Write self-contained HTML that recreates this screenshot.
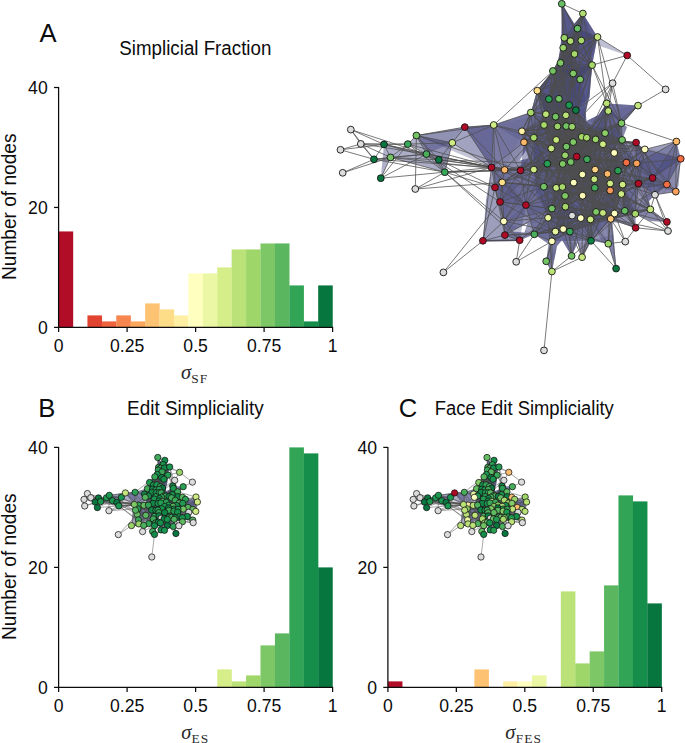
<!DOCTYPE html>
<html><head><meta charset="utf-8"><title>Simpliciality</title>
<style>
html,body{margin:0;padding:0;background:#fff;}
body{width:685px;height:743px;overflow:hidden;font-family:"Liberation Sans",sans-serif;}
svg{display:block;position:absolute;left:0;top:0;}
svg text{font-family:"Liberation Sans",sans-serif;fill:#0c0c0c;}
svg text.m{font-family:"Liberation Serif",serif;fill:#2a2a2a;}
</style></head><body>
<svg width="685" height="743" viewBox="0 0 685 743">
<rect x="58.60" y="231.44" width="14.57" height="95.96" fill="#b20d26"/>
<rect x="87.44" y="315.40" width="14.57" height="11.99" fill="#e04330"/>
<rect x="101.86" y="321.40" width="14.57" height="6.00" fill="#ef633f"/>
<rect x="116.28" y="315.40" width="14.57" height="11.99" fill="#f7854e"/>
<rect x="130.71" y="321.40" width="14.57" height="6.00" fill="#fca75e"/>
<rect x="145.13" y="303.41" width="14.57" height="23.99" fill="#fdc373"/>
<rect x="159.55" y="309.41" width="14.57" height="17.99" fill="#fedd89"/>
<rect x="173.97" y="315.40" width="14.57" height="11.99" fill="#feefa4"/>
<rect x="188.39" y="273.42" width="14.57" height="53.98" fill="#ffffbf"/>
<rect x="202.81" y="273.42" width="14.57" height="53.98" fill="#ebf7a4"/>
<rect x="217.23" y="267.42" width="14.57" height="59.97" fill="#d6ee89"/>
<rect x="231.65" y="249.43" width="14.57" height="77.97" fill="#bbe278"/>
<rect x="246.07" y="249.43" width="14.57" height="77.97" fill="#9fd669"/>
<rect x="260.49" y="243.44" width="14.57" height="83.96" fill="#7ec766"/>
<rect x="274.92" y="243.44" width="14.57" height="83.96" fill="#5ab760"/>
<rect x="289.34" y="285.42" width="14.57" height="41.98" fill="#32a456"/>
<rect x="303.76" y="321.40" width="14.57" height="6.00" fill="#158e4b"/>
<rect x="318.18" y="285.42" width="14.57" height="41.98" fill="#07753e"/>
<path d="M58.60 87.00V327.40H333.10" fill="none" stroke="#0c0c0c" stroke-width="1.25"/>
<path d="M58.60 327.40v4.6" stroke="#0c0c0c" stroke-width="1.25"/>
<text x="58.60" y="352.10" text-anchor="middle" font-size="17.6">0</text>
<path d="M127.10 327.40v4.6" stroke="#0c0c0c" stroke-width="1.25"/>
<text x="127.10" y="352.10" text-anchor="middle" font-size="17.6">0.25</text>
<path d="M195.60 327.40v4.6" stroke="#0c0c0c" stroke-width="1.25"/>
<text x="195.60" y="352.10" text-anchor="middle" font-size="17.6">0.5</text>
<path d="M264.10 327.40v4.6" stroke="#0c0c0c" stroke-width="1.25"/>
<text x="264.10" y="352.10" text-anchor="middle" font-size="17.6">0.75</text>
<path d="M332.60 327.40v4.6" stroke="#0c0c0c" stroke-width="1.25"/>
<text x="332.60" y="352.10" text-anchor="middle" font-size="17.6">1</text>
<path d="M58.60 327.40h-4.6" stroke="#0c0c0c" stroke-width="1.25"/>
<text x="47.70" y="334.00" text-anchor="end" font-size="17.6">0</text>
<path d="M58.60 207.45h-4.6" stroke="#0c0c0c" stroke-width="1.25"/>
<text x="47.70" y="214.05" text-anchor="end" font-size="17.6">20</text>
<path d="M58.60 87.50h-4.6" stroke="#0c0c0c" stroke-width="1.25"/>
<text x="47.70" y="94.10" text-anchor="end" font-size="17.6">40</text>
<text transform="translate(15.50 206.75) rotate(-90)" text-anchor="middle" font-size="19.3" textLength="146.5" lengthAdjust="spacingAndGlyphs">Number of nodes</text>
<rect x="217.23" y="669.40" width="14.57" height="18.00" fill="#d6ee89"/>
<rect x="231.65" y="681.40" width="14.57" height="6.00" fill="#bbe278"/>
<rect x="246.07" y="675.40" width="14.57" height="12.00" fill="#9fd669"/>
<rect x="260.49" y="645.40" width="14.57" height="42.00" fill="#7ec766"/>
<rect x="274.92" y="633.40" width="14.57" height="54.00" fill="#5ab760"/>
<rect x="289.34" y="447.40" width="14.57" height="240.00" fill="#32a456"/>
<rect x="303.76" y="453.40" width="14.57" height="234.00" fill="#158e4b"/>
<rect x="318.18" y="567.40" width="14.57" height="120.00" fill="#07753e"/>
<path d="M58.60 446.90V687.40H333.10" fill="none" stroke="#0c0c0c" stroke-width="1.25"/>
<path d="M58.60 687.40v4.6" stroke="#0c0c0c" stroke-width="1.25"/>
<text x="58.60" y="712.10" text-anchor="middle" font-size="17.6">0</text>
<path d="M127.10 687.40v4.6" stroke="#0c0c0c" stroke-width="1.25"/>
<text x="127.10" y="712.10" text-anchor="middle" font-size="17.6">0.25</text>
<path d="M195.60 687.40v4.6" stroke="#0c0c0c" stroke-width="1.25"/>
<text x="195.60" y="712.10" text-anchor="middle" font-size="17.6">0.5</text>
<path d="M264.10 687.40v4.6" stroke="#0c0c0c" stroke-width="1.25"/>
<text x="264.10" y="712.10" text-anchor="middle" font-size="17.6">0.75</text>
<path d="M332.60 687.40v4.6" stroke="#0c0c0c" stroke-width="1.25"/>
<text x="332.60" y="712.10" text-anchor="middle" font-size="17.6">1</text>
<path d="M58.60 687.40h-4.6" stroke="#0c0c0c" stroke-width="1.25"/>
<text x="47.70" y="694.00" text-anchor="end" font-size="17.6">0</text>
<path d="M58.60 567.40h-4.6" stroke="#0c0c0c" stroke-width="1.25"/>
<text x="47.70" y="574.00" text-anchor="end" font-size="17.6">20</text>
<path d="M58.60 447.40h-4.6" stroke="#0c0c0c" stroke-width="1.25"/>
<text x="47.70" y="454.00" text-anchor="end" font-size="17.6">40</text>
<text transform="translate(15.50 566.70) rotate(-90)" text-anchor="middle" font-size="19.3" textLength="146.5" lengthAdjust="spacingAndGlyphs">Number of nodes</text>
<rect x="387.90" y="681.40" width="14.56" height="6.00" fill="#b20d26"/>
<rect x="474.36" y="669.40" width="14.56" height="18.00" fill="#fdc373"/>
<rect x="503.18" y="681.40" width="14.56" height="6.00" fill="#feefa4"/>
<rect x="517.59" y="681.40" width="14.56" height="6.00" fill="#ffffbf"/>
<rect x="532.01" y="675.40" width="14.56" height="12.00" fill="#ebf7a4"/>
<rect x="560.83" y="591.40" width="14.56" height="96.00" fill="#bbe278"/>
<rect x="575.24" y="663.40" width="14.56" height="24.00" fill="#9fd669"/>
<rect x="589.65" y="651.40" width="14.56" height="36.00" fill="#7ec766"/>
<rect x="604.06" y="585.40" width="14.56" height="102.00" fill="#5ab760"/>
<rect x="618.47" y="495.40" width="14.56" height="192.00" fill="#32a456"/>
<rect x="632.88" y="501.40" width="14.56" height="186.00" fill="#158e4b"/>
<rect x="647.29" y="603.40" width="14.56" height="84.00" fill="#07753e"/>
<path d="M387.90 446.90V687.40H662.20" fill="none" stroke="#0c0c0c" stroke-width="1.25"/>
<path d="M387.90 687.40v4.6" stroke="#0c0c0c" stroke-width="1.25"/>
<text x="387.90" y="712.10" text-anchor="middle" font-size="17.6">0</text>
<path d="M456.35 687.40v4.6" stroke="#0c0c0c" stroke-width="1.25"/>
<text x="456.35" y="712.10" text-anchor="middle" font-size="17.6">0.25</text>
<path d="M524.80 687.40v4.6" stroke="#0c0c0c" stroke-width="1.25"/>
<text x="524.80" y="712.10" text-anchor="middle" font-size="17.6">0.5</text>
<path d="M593.25 687.40v4.6" stroke="#0c0c0c" stroke-width="1.25"/>
<text x="593.25" y="712.10" text-anchor="middle" font-size="17.6">0.75</text>
<path d="M661.70 687.40v4.6" stroke="#0c0c0c" stroke-width="1.25"/>
<text x="661.70" y="712.10" text-anchor="middle" font-size="17.6">1</text>
<path d="M387.90 687.40h-4.6" stroke="#0c0c0c" stroke-width="1.25"/>
<text x="377.00" y="694.00" text-anchor="end" font-size="17.6">0</text>
<path d="M387.90 567.40h-4.6" stroke="#0c0c0c" stroke-width="1.25"/>
<text x="377.00" y="574.00" text-anchor="end" font-size="17.6">20</text>
<path d="M387.90 447.40h-4.6" stroke="#0c0c0c" stroke-width="1.25"/>
<text x="377.00" y="454.00" text-anchor="end" font-size="17.6">40</text>
<text x="39.4" y="42.3" font-size="25.6">A</text>
<text x="38.3" y="417.1" font-size="25.6">B</text>
<text x="398.8" y="417.0" font-size="25.6">C</text>
<text x="195.35" y="54.8" font-size="19.6" text-anchor="middle" textLength="152" lengthAdjust="spacingAndGlyphs">Simplicial Fraction</text>
<text x="195.35" y="414.8" font-size="19.6" text-anchor="middle" textLength="136.5" lengthAdjust="spacingAndGlyphs">Edit Simpliciality</text>
<text x="524.3" y="414.8" font-size="19.6" text-anchor="middle" textLength="179" lengthAdjust="spacingAndGlyphs">Face Edit Simpliciality</text>
<text x="181.00" y="379.30" class="m"><tspan font-style="italic" font-size="20.5">σ</tspan><tspan font-size="13.4" dy="3.4" dx="0.2" letter-spacing="1.1">SF</tspan></text>
<text x="181.20" y="739.20" class="m"><tspan font-style="italic" font-size="20.5">σ</tspan><tspan font-size="13.4" dy="3.4" dx="0.2" letter-spacing="1.1">ES</tspan></text>
<text x="505.30" y="739.20" class="m"><tspan font-style="italic" font-size="20.5">σ</tspan><tspan font-size="13.4" dy="3.4" dx="0.2" letter-spacing="1.1">FES</tspan></text>
<g>
<clipPath id="c1"><path clip-rule="evenodd" d="M561.8 3.8L574.3 24.0L582.9 13.5L597.5 37.0L592.1 65.1L589.5 97.0L585.5 112.0L586.5 121.0L598.5 115.0L605.0 106.0L606.7 103.4L638.0 105.6L627.0 119.0L621.5 123.2L627.0 127.0L624.0 135.0L622.1 139.9L636.1 142.6L644.8 149.4L676.4 141.5L680.7 158.8L678.5 186.0L675.8 191.6L655.0 194.8L649.0 201.0L650.4 209.4L666.9 221.9L650.0 221.0L635.3 213.8L635.6 227.8L620.0 223.0L612.5 222.0L616.1 268.6L608.3 243.7L591.0 240.8L582.1 257.2L577.5 243.0L571.6 255.9L562.0 240.0L557.0 246.0L551.9 271.5L546.2 261.3L548.5 244.0L534.3 234.3L519.7 240.2L482.9 240.8L486.0 200.0L491.5 167.4L464.8 127.1L493.7 125.0L530.8 112.6L537.3 90.7L552.9 71.0L558.0 62.0L560.3 48.0L561.5 36.0ZM519.4 160.6L525.9 150.5L528.9 158.6ZM510.5 231.5L527.3 223.4L524.5 232.5Z"/></clipPath>
<g fill="rgb(60,62,122)" stroke="none">
<path fill-rule="evenodd" fill-opacity="0.50" d="M561.8 3.8L574.3 24.0L582.9 13.5L597.5 37.0L592.1 65.1L589.5 97.0L585.5 112.0L586.5 121.0L598.5 115.0L605.0 106.0L606.7 103.4L638.0 105.6L627.0 119.0L621.5 123.2L627.0 127.0L624.0 135.0L622.1 139.9L636.1 142.6L644.8 149.4L676.4 141.5L680.7 158.8L678.5 186.0L675.8 191.6L655.0 194.8L649.0 201.0L650.4 209.4L666.9 221.9L650.0 221.0L635.3 213.8L635.6 227.8L620.0 223.0L612.5 222.0L616.1 268.6L608.3 243.7L591.0 240.8L582.1 257.2L577.5 243.0L571.6 255.9L562.0 240.0L557.0 246.0L551.9 271.5L546.2 261.3L548.5 244.0L534.3 234.3L519.7 240.2L482.9 240.8L486.0 200.0L491.5 167.4L464.8 127.1L493.7 125.0L530.8 112.6L537.3 90.7L552.9 71.0L558.0 62.0L560.3 48.0L561.5 36.0ZM519.4 160.6L525.9 150.5L528.9 158.6ZM510.5 231.5L527.3 223.4L524.5 232.5Z"/>
<path fill-opacity="0.30" d="M416.4 135.5L464.8 127.1L493.7 125.0L491.5 167.4Z"/>
<path fill-opacity="0.38" d="M416.4 135.5L464.8 127.1L452.3 142.8L426.4 154.1Z"/>
<path fill-opacity="0.40" d="M416.4 135.5L426.4 154.1L438.8 159.8L444.8 172.2L452.3 142.8Z"/>
<path fill-opacity="0.25" d="M416.4 135.5L444.8 172.2L452.3 142.8Z"/>
<path fill-opacity="0.42" d="M384.0 144.4L426.4 154.1L438.8 159.8L444.8 172.2L390.5 157.4Z"/>
<path fill-opacity="0.40" d="M384.0 144.4L390.5 157.4L380.8 178.2Z"/>
<path fill-opacity="0.40" d="M407.8 144.1L416.4 135.5L426.4 154.1Z"/>
<path fill-opacity="0.25" d="M452.3 142.8L464.8 127.1L491.5 167.4Z"/>
<path fill-opacity="0.36" d="M464.8 127.1L493.7 125.0L530.8 112.6L524.0 142.3L491.5 167.4Z"/>
<path fill-opacity="0.45" d="M552.9 71.0L592.1 65.1L589.5 97.0L585.5 112.0L586.5 121.0L598.5 115.0L605.0 106.0L606.7 103.4L621.5 123.2L622.1 139.9L636.7 163.4L638.5 183.6L635.3 213.8L610.7 218.9L591.0 240.8L551.9 241.3L534.3 234.3L525.9 205.1L520.5 170.4L524.0 142.3L530.8 112.6L537.3 90.7Z"/>
<path fill-opacity="0.40" d="M560.5 62.9L580.2 79.4L586.0 100.0L584.5 112.0L586.0 122.5L606.0 130.0L618.0 152.0L621.0 185.0L612.0 212.0L590.0 226.0L565.0 231.0L548.0 217.0L536.0 192.0L533.0 165.0L534.0 138.0L545.0 114.0L549.0 99.0Z"/>
<path fill-opacity="0.50" d="M561.8 3.8L574.3 24.0L582.9 13.5L597.5 37.0L592.1 65.1L589.5 97.0L575.9 110.2L545.9 114.2L537.3 90.7L552.9 71.0L558.0 62.0L560.3 48.0L561.5 36.0Z"/>
<path fill-opacity="0.35" d="M561.8 3.8L577.5 28.6L582.9 13.5L593.0 40.0L590.0 66.0L580.2 79.4L556.0 72.0L562.5 40.0Z"/>
<path fill-opacity="0.42" d="M636.1 142.6L644.8 149.4L680.7 158.8L666.9 184.5L655.0 194.8L638.5 183.6L636.7 163.4Z"/>
<path fill-opacity="0.32" d="M636.7 163.4L676.4 141.5L680.7 158.8L652.6 178.0Z"/>
<path fill-opacity="0.33" d="M491.5 167.4L520.5 170.4L525.9 205.1L519.7 240.2L504.9 235.1L500.0 201.9Z"/>
<path fill-opacity="0.33" d="M597.5 37.0L627.2 55.4L598.3 45.5Z"/>
<path fill-opacity="0.50" d="M606.7 103.4L638.0 105.6L621.5 123.2L608.3 111.0Z"/>
<g clip-path="url(#c1)">
<path fill-opacity="0.10" d="M561.8 3.8L563.2 47.8L564.3 37.8Z"/>
<path fill-opacity="0.10" d="M561.8 3.8L597.5 37.0L582.9 13.5Z"/>
<path fill-opacity="0.10" d="M561.8 3.8L577.5 28.6L560.5 62.9Z"/>
<path fill-opacity="0.10" d="M582.9 13.5L564.3 37.8L577.5 28.6Z"/>
<path fill-opacity="0.10" d="M582.9 13.5L592.1 65.1L597.5 37.0Z"/>
<path fill-opacity="0.10" d="M582.9 13.5L577.5 28.6L561.8 3.8Z"/>
<path fill-opacity="0.10" d="M577.5 28.6L574.5 54.0L560.5 62.9Z"/>
<path fill-opacity="0.10" d="M577.5 28.6L570.5 41.1L564.3 37.8Z"/>
<path fill-opacity="0.10" d="M577.5 28.6L570.5 41.1L574.5 54.0Z"/>
<path fill-opacity="0.10" d="M564.3 37.8L570.5 41.1L563.2 47.8Z"/>
<path fill-opacity="0.10" d="M564.3 37.8L581.3 40.5L570.5 41.1Z"/>
<path fill-opacity="0.10" d="M564.3 37.8L582.9 13.5L570.5 41.1Z"/>
<path fill-opacity="0.10" d="M570.5 41.1L574.5 54.0L564.3 37.8Z"/>
<path fill-opacity="0.10" d="M570.5 41.1L592.1 65.1L581.3 40.5Z"/>
<path fill-opacity="0.10" d="M570.5 41.1L577.5 28.6L597.5 37.0Z"/>
<path fill-opacity="0.10" d="M581.3 40.5L574.5 54.0L577.5 28.6Z"/>
<path fill-opacity="0.10" d="M581.3 40.5L564.3 37.8L574.5 54.0Z"/>
<path fill-opacity="0.10" d="M581.3 40.5L577.5 28.6L597.5 37.0Z"/>
<path fill-opacity="0.10" d="M597.5 37.0L592.1 65.1L577.5 28.6Z"/>
<path fill-opacity="0.10" d="M597.5 37.0L563.2 47.8L577.5 28.6Z"/>
<path fill-opacity="0.10" d="M597.5 37.0L581.3 40.5L582.9 13.5Z"/>
<path fill-opacity="0.10" d="M563.2 47.8L573.2 73.5L552.9 71.0Z"/>
<path fill-opacity="0.10" d="M563.2 47.8L577.5 28.6L573.2 73.5Z"/>
<path fill-opacity="0.10" d="M563.2 47.8L573.2 73.5L577.5 28.6Z"/>
<path fill-opacity="0.10" d="M574.5 54.0L564.3 37.8L560.5 62.9Z"/>
<path fill-opacity="0.10" d="M574.5 54.0L581.3 40.5L560.5 62.9Z"/>
<path fill-opacity="0.10" d="M574.5 54.0L570.5 41.1L564.3 37.8Z"/>
<path fill-opacity="0.10" d="M627.2 55.4L573.2 73.5L577.5 28.6Z"/>
<path fill-opacity="0.10" d="M627.2 55.4L574.5 54.0L577.5 28.6Z"/>
<path fill-opacity="0.10" d="M627.2 55.4L606.7 103.4L592.1 65.1Z"/>
<path fill-opacity="0.10" d="M560.5 62.9L563.2 47.8L580.2 79.4Z"/>
<path fill-opacity="0.10" d="M560.5 62.9L573.2 73.5L564.3 37.8Z"/>
<path fill-opacity="0.10" d="M560.5 62.9L573.2 73.5L581.3 40.5Z"/>
<path fill-opacity="0.10" d="M592.1 65.1L570.5 41.1L580.2 79.4Z"/>
<path fill-opacity="0.10" d="M592.1 65.1L573.2 73.5L560.5 62.9Z"/>
<path fill-opacity="0.10" d="M592.1 65.1L560.5 62.9L627.2 55.4Z"/>
<path fill-opacity="0.10" d="M552.9 71.0L580.2 79.4L570.5 41.1Z"/>
<path fill-opacity="0.10" d="M552.9 71.0L573.2 73.5L570.5 41.1Z"/>
<path fill-opacity="0.10" d="M552.9 71.0L574.5 54.0L580.2 79.4Z"/>
<path fill-opacity="0.10" d="M573.2 73.5L560.5 62.9L580.2 79.4Z"/>
<path fill-opacity="0.10" d="M573.2 73.5L592.1 65.1L569.1 105.1Z"/>
<path fill-opacity="0.10" d="M573.2 73.5L592.1 65.1L558.9 98.8Z"/>
<path fill-opacity="0.10" d="M580.2 79.4L552.9 71.0L573.2 73.5Z"/>
<path fill-opacity="0.10" d="M580.2 79.4L575.9 110.2L552.9 71.0Z"/>
<path fill-opacity="0.10" d="M580.2 79.4L560.5 62.9L592.1 65.1Z"/>
<path fill-opacity="0.10" d="M537.3 90.7L544.0 125.0L548.9 99.1Z"/>
<path fill-opacity="0.10" d="M537.3 90.7L545.9 114.2L552.9 71.0Z"/>
<path fill-opacity="0.10" d="M537.3 90.7L558.9 98.8L545.9 114.2Z"/>
<path fill-opacity="0.10" d="M548.9 99.1L565.9 115.3L552.9 71.0Z"/>
<path fill-opacity="0.10" d="M548.9 99.1L544.0 125.0L537.3 90.7Z"/>
<path fill-opacity="0.10" d="M548.9 99.1L545.9 114.2L544.0 125.0Z"/>
<path fill-opacity="0.10" d="M558.9 98.8L537.3 90.7L545.9 114.2Z"/>
<path fill-opacity="0.10" d="M558.9 98.8L565.9 115.3L537.3 90.7Z"/>
<path fill-opacity="0.10" d="M558.9 98.8L566.2 126.1L545.9 114.2Z"/>
<path fill-opacity="0.10" d="M569.1 105.1L572.1 126.7L566.2 126.1Z"/>
<path fill-opacity="0.10" d="M569.1 105.1L572.1 126.7L555.6 116.7Z"/>
<path fill-opacity="0.10" d="M569.1 105.1L558.9 98.8L565.9 115.3Z"/>
<path fill-opacity="0.10" d="M575.9 110.2L572.1 126.7L548.9 99.1Z"/>
<path fill-opacity="0.10" d="M575.9 110.2L566.2 126.1L548.9 99.1Z"/>
<path fill-opacity="0.10" d="M575.9 110.2L569.1 105.1L581.8 136.9Z"/>
<path fill-opacity="0.10" d="M606.7 103.4L605.1 133.1L575.9 110.2Z"/>
<path fill-opacity="0.10" d="M606.7 103.4L575.9 110.2L608.3 111.0Z"/>
<path fill-opacity="0.10" d="M606.7 103.4L605.1 133.1L569.1 105.1Z"/>
<path fill-opacity="0.10" d="M608.3 111.0L586.7 137.7L622.1 139.9Z"/>
<path fill-opacity="0.10" d="M608.3 111.0L622.1 139.9L605.1 133.1Z"/>
<path fill-opacity="0.10" d="M608.3 111.0L586.7 137.7L606.7 103.4Z"/>
<path fill-opacity="0.10" d="M638.0 105.6L644.8 149.4L602.9 144.2Z"/>
<path fill-opacity="0.10" d="M638.0 105.6L644.8 149.4L608.3 111.0Z"/>
<path fill-opacity="0.10" d="M530.8 112.6L557.5 126.4L533.8 137.7Z"/>
<path fill-opacity="0.10" d="M530.8 112.6L545.9 114.2L548.9 99.1Z"/>
<path fill-opacity="0.10" d="M530.8 112.6L544.0 125.0L548.9 99.1Z"/>
<path fill-opacity="0.10" d="M545.9 114.2L566.2 126.1L530.8 112.6Z"/>
<path fill-opacity="0.10" d="M545.9 114.2L544.0 125.0L565.9 115.3Z"/>
<path fill-opacity="0.10" d="M545.9 114.2L555.6 116.7L544.0 125.0Z"/>
<path fill-opacity="0.10" d="M555.6 116.7L557.5 126.4L565.9 115.3Z"/>
<path fill-opacity="0.10" d="M555.6 116.7L572.1 126.7L545.9 114.2Z"/>
<path fill-opacity="0.10" d="M555.6 116.7L569.1 105.1L557.5 126.4Z"/>
<path fill-opacity="0.10" d="M565.9 115.3L569.1 105.1L575.9 110.2Z"/>
<path fill-opacity="0.10" d="M565.9 115.3L558.9 98.8L566.2 126.1Z"/>
<path fill-opacity="0.10" d="M565.9 115.3L572.1 126.7L557.5 126.4Z"/>
<path fill-opacity="0.10" d="M621.5 123.2L606.7 103.4L595.6 139.4Z"/>
<path fill-opacity="0.10" d="M621.5 123.2L608.3 111.0L614.2 152.9Z"/>
<path fill-opacity="0.10" d="M621.5 123.2L595.6 139.4L614.2 152.9Z"/>
<path fill-opacity="0.10" d="M544.0 125.0L521.9 131.3L565.9 115.3Z"/>
<path fill-opacity="0.10" d="M544.0 125.0L530.8 112.6L557.5 126.4Z"/>
<path fill-opacity="0.10" d="M544.0 125.0L555.6 116.7L557.5 126.4Z"/>
<path fill-opacity="0.10" d="M557.5 126.4L572.1 126.7L565.9 115.3Z"/>
<path fill-opacity="0.10" d="M557.5 126.4L566.4 146.6L544.0 125.0Z"/>
<path fill-opacity="0.10" d="M557.5 126.4L573.2 142.1L566.2 126.1Z"/>
<path fill-opacity="0.10" d="M566.2 126.1L555.6 116.7L573.2 142.1Z"/>
<path fill-opacity="0.10" d="M566.2 126.1L565.9 115.3L572.1 126.7Z"/>
<path fill-opacity="0.10" d="M566.2 126.1L566.4 146.6L556.2 139.9Z"/>
<path fill-opacity="0.10" d="M572.1 126.7L565.9 115.3L573.2 142.1Z"/>
<path fill-opacity="0.10" d="M572.1 126.7L556.2 139.9L575.9 110.2Z"/>
<path fill-opacity="0.10" d="M572.1 126.7L581.8 136.9L575.9 110.2Z"/>
<path fill-opacity="0.10" d="M521.9 131.3L544.0 125.0L545.9 114.2Z"/>
<path fill-opacity="0.10" d="M521.9 131.3L544.0 125.0L557.5 126.4Z"/>
<path fill-opacity="0.10" d="M521.9 131.3L544.0 125.0L551.3 148.5Z"/>
<path fill-opacity="0.10" d="M605.1 133.1L586.7 137.7L606.7 103.4Z"/>
<path fill-opacity="0.10" d="M605.1 133.1L606.7 103.4L581.8 136.9Z"/>
<path fill-opacity="0.10" d="M605.1 133.1L614.2 152.9L602.9 144.2Z"/>
<path fill-opacity="0.10" d="M581.8 136.9L586.7 137.7L566.4 146.6Z"/>
<path fill-opacity="0.10" d="M581.8 136.9L602.9 144.2L566.4 146.6Z"/>
<path fill-opacity="0.10" d="M581.8 136.9L572.1 126.7L566.2 126.1Z"/>
<path fill-opacity="0.10" d="M586.7 137.7L587.0 159.3L605.1 133.1Z"/>
<path fill-opacity="0.10" d="M586.7 137.7L605.1 133.1L595.6 139.4Z"/>
<path fill-opacity="0.10" d="M586.7 137.7L602.9 144.2L595.6 139.4Z"/>
<path fill-opacity="0.10" d="M595.6 139.4L581.8 136.9L576.7 156.6Z"/>
<path fill-opacity="0.10" d="M595.6 139.4L581.8 136.9L573.2 142.1Z"/>
<path fill-opacity="0.10" d="M595.6 139.4L581.8 136.9L576.7 156.6Z"/>
<path fill-opacity="0.10" d="M533.8 137.7L524.0 142.3L545.9 114.2Z"/>
<path fill-opacity="0.10" d="M533.8 137.7L530.8 112.6L521.9 131.3Z"/>
<path fill-opacity="0.10" d="M533.8 137.7L521.9 131.3L557.5 126.4Z"/>
<path fill-opacity="0.10" d="M556.2 139.9L566.2 126.1L572.1 126.7Z"/>
<path fill-opacity="0.10" d="M556.2 139.9L557.5 126.4L544.0 125.0Z"/>
<path fill-opacity="0.10" d="M556.2 139.9L565.1 155.3L566.4 146.6Z"/>
<path fill-opacity="0.10" d="M573.2 142.1L556.2 139.9L566.2 126.1Z"/>
<path fill-opacity="0.10" d="M573.2 142.1L556.2 139.9L581.8 136.9Z"/>
<path fill-opacity="0.10" d="M573.2 142.1L586.7 137.7L570.8 162.0Z"/>
<path fill-opacity="0.10" d="M622.1 139.9L621.5 123.2L636.1 142.6Z"/>
<path fill-opacity="0.10" d="M622.1 139.9L621.5 123.2L595.6 139.4Z"/>
<path fill-opacity="0.10" d="M622.1 139.9L621.5 123.2L595.6 139.4Z"/>
<path fill-opacity="0.10" d="M636.1 142.6L621.5 123.2L636.7 163.4Z"/>
<path fill-opacity="0.10" d="M636.1 142.6L618.0 170.7L636.7 163.4Z"/>
<path fill-opacity="0.10" d="M636.1 142.6L644.8 149.4L618.0 170.7Z"/>
<path fill-opacity="0.10" d="M676.4 141.5L644.8 149.4L636.1 142.6Z"/>
<path fill-opacity="0.10" d="M676.4 141.5L675.8 191.6L652.6 178.0Z"/>
<path fill-opacity="0.10" d="M676.4 141.5L652.6 178.0L680.7 158.8Z"/>
<path fill-opacity="0.10" d="M524.0 142.3L520.5 170.4L551.3 148.5Z"/>
<path fill-opacity="0.10" d="M524.0 142.3L520.5 170.4L551.3 148.5Z"/>
<path fill-opacity="0.10" d="M524.0 142.3L533.8 169.6L520.5 170.4Z"/>
<path fill-opacity="0.10" d="M602.9 144.2L621.5 123.2L581.8 136.9Z"/>
<path fill-opacity="0.10" d="M602.9 144.2L614.2 152.9L595.6 139.4Z"/>
<path fill-opacity="0.10" d="M602.9 144.2L587.0 159.3L595.1 169.6Z"/>
<path fill-opacity="0.10" d="M566.4 146.6L566.2 126.1L562.7 163.9Z"/>
<path fill-opacity="0.10" d="M566.4 146.6L566.2 126.1L556.2 139.9Z"/>
<path fill-opacity="0.10" d="M566.4 146.6L566.2 126.1L556.2 139.9Z"/>
<path fill-opacity="0.10" d="M551.3 148.5L570.8 162.0L556.2 139.9Z"/>
<path fill-opacity="0.10" d="M551.3 148.5L557.5 126.4L565.1 155.3Z"/>
<path fill-opacity="0.10" d="M551.3 148.5L556.2 139.9L565.1 155.3Z"/>
<path fill-opacity="0.10" d="M644.8 149.4L626.4 162.6L638.5 183.6Z"/>
<path fill-opacity="0.10" d="M644.8 149.4L618.0 170.7L636.7 163.4Z"/>
<path fill-opacity="0.10" d="M644.8 149.4L638.5 183.6L636.1 142.6Z"/>
<path fill-opacity="0.10" d="M614.2 152.9L607.5 173.9L636.1 142.6Z"/>
<path fill-opacity="0.10" d="M614.2 152.9L622.1 139.9L602.9 144.2Z"/>
<path fill-opacity="0.10" d="M614.2 152.9L618.0 170.7L636.7 163.4Z"/>
<path fill-opacity="0.10" d="M565.1 155.3L551.3 148.5L566.4 146.6Z"/>
<path fill-opacity="0.10" d="M565.1 155.3L570.8 162.0L547.3 163.7Z"/>
<path fill-opacity="0.10" d="M565.1 155.3L587.0 159.3L566.4 146.6Z"/>
<path fill-opacity="0.10" d="M576.7 156.6L587.0 159.3L581.8 136.9Z"/>
<path fill-opacity="0.10" d="M576.7 156.6L562.7 163.9L566.4 146.6Z"/>
<path fill-opacity="0.10" d="M576.7 156.6L573.2 142.1L581.8 136.9Z"/>
<path fill-opacity="0.10" d="M587.0 159.3L573.2 142.1L602.9 144.2Z"/>
<path fill-opacity="0.10" d="M587.0 159.3L573.2 142.1L570.8 162.0Z"/>
<path fill-opacity="0.10" d="M587.0 159.3L573.2 142.1L594.3 179.3Z"/>
<path fill-opacity="0.10" d="M680.7 158.8L626.4 162.6L652.6 178.0Z"/>
<path fill-opacity="0.10" d="M680.7 158.8L638.5 183.6L675.8 191.6Z"/>
<path fill-opacity="0.10" d="M680.7 158.8L636.1 142.6L666.9 184.5Z"/>
<path fill-opacity="0.10" d="M547.3 163.7L556.2 139.9L566.4 146.6Z"/>
<path fill-opacity="0.10" d="M547.3 163.7L570.8 162.0L562.7 163.9Z"/>
<path fill-opacity="0.10" d="M547.3 163.7L565.1 155.3L556.2 139.9Z"/>
<path fill-opacity="0.10" d="M562.7 163.9L565.1 155.3L576.7 156.6Z"/>
<path fill-opacity="0.10" d="M562.7 163.9L566.4 146.6L565.1 155.3Z"/>
<path fill-opacity="0.10" d="M562.7 163.9L547.3 163.7L551.3 148.5Z"/>
<path fill-opacity="0.10" d="M570.8 162.0L565.1 155.3L587.0 159.3Z"/>
<path fill-opacity="0.10" d="M570.8 162.0L565.1 155.3L573.7 182.6Z"/>
<path fill-opacity="0.10" d="M570.8 162.0L566.4 146.6L562.7 163.9Z"/>
<path fill-opacity="0.10" d="M626.4 162.6L644.8 149.4L622.1 139.9Z"/>
<path fill-opacity="0.10" d="M626.4 162.6L614.2 152.9L607.5 173.9Z"/>
<path fill-opacity="0.10" d="M626.4 162.6L614.2 152.9L644.8 149.4Z"/>
<path fill-opacity="0.10" d="M636.7 163.4L622.1 139.9L614.2 152.9Z"/>
<path fill-opacity="0.10" d="M636.7 163.4L652.6 178.0L614.2 152.9Z"/>
<path fill-opacity="0.10" d="M636.7 163.4L638.5 183.6L652.6 178.0Z"/>
<path fill-opacity="0.10" d="M504.6 169.9L500.0 201.9L491.5 167.4Z"/>
<path fill-opacity="0.10" d="M504.6 169.9L500.0 201.9L502.2 182.4Z"/>
<path fill-opacity="0.10" d="M504.6 169.9L500.0 201.9L525.9 205.1Z"/>
<path fill-opacity="0.10" d="M520.5 170.4L495.0 187.4L533.8 169.6Z"/>
<path fill-opacity="0.10" d="M520.5 170.4L491.5 167.4L543.8 186.7Z"/>
<path fill-opacity="0.10" d="M520.5 170.4L525.9 205.1L524.0 142.3Z"/>
<path fill-opacity="0.10" d="M533.8 169.6L533.8 137.7L547.3 163.7Z"/>
<path fill-opacity="0.10" d="M533.8 169.6L547.3 163.7L551.3 148.5Z"/>
<path fill-opacity="0.10" d="M533.8 169.6L547.3 163.7L533.8 137.7Z"/>
<path fill-opacity="0.10" d="M595.1 169.6L594.8 187.8L573.7 182.6Z"/>
<path fill-opacity="0.10" d="M595.1 169.6L594.3 179.3L607.5 173.9Z"/>
<path fill-opacity="0.10" d="M595.1 169.6L594.8 187.8L607.5 173.9Z"/>
<path fill-opacity="0.10" d="M618.0 170.7L610.2 190.5L614.2 152.9Z"/>
<path fill-opacity="0.10" d="M618.0 170.7L610.2 190.5L622.6 184.6Z"/>
<path fill-opacity="0.10" d="M618.0 170.7L621.3 194.0L595.1 169.6Z"/>
<path fill-opacity="0.10" d="M582.4 174.5L594.8 187.8L594.3 179.3Z"/>
<path fill-opacity="0.10" d="M582.4 174.5L570.8 162.0L573.7 182.6Z"/>
<path fill-opacity="0.10" d="M582.4 174.5L595.1 169.6L576.7 156.6Z"/>
<path fill-opacity="0.10" d="M607.5 173.9L618.0 170.7L610.2 190.5Z"/>
<path fill-opacity="0.10" d="M607.5 173.9L610.2 183.5L618.0 170.7Z"/>
<path fill-opacity="0.10" d="M607.5 173.9L610.2 190.5L618.0 170.7Z"/>
<path fill-opacity="0.10" d="M594.3 179.3L607.5 173.9L595.1 169.6Z"/>
<path fill-opacity="0.10" d="M594.3 179.3L610.2 183.5L595.1 169.6Z"/>
<path fill-opacity="0.10" d="M594.3 179.3L573.7 182.6L594.8 187.8Z"/>
<path fill-opacity="0.10" d="M652.6 178.0L626.4 162.6L622.6 184.6Z"/>
<path fill-opacity="0.10" d="M652.6 178.0L644.8 149.4L636.7 163.4Z"/>
<path fill-opacity="0.10" d="M652.6 178.0L638.5 183.6L675.8 191.6Z"/>
<path fill-opacity="0.10" d="M573.7 182.6L562.4 187.0L582.6 195.7Z"/>
<path fill-opacity="0.10" d="M573.7 182.6L556.2 187.8L582.4 174.5Z"/>
<path fill-opacity="0.10" d="M573.7 182.6L582.6 195.7L565.1 195.9Z"/>
<path fill-opacity="0.10" d="M638.5 183.6L618.0 170.7L650.4 209.4Z"/>
<path fill-opacity="0.10" d="M638.5 183.6L650.4 209.4L636.7 163.4Z"/>
<path fill-opacity="0.10" d="M638.5 183.6L618.0 170.7L666.9 184.5Z"/>
<path fill-opacity="0.10" d="M666.9 184.5L635.3 213.8L638.5 183.6Z"/>
<path fill-opacity="0.10" d="M666.9 184.5L650.4 209.4L636.7 163.4Z"/>
<path fill-opacity="0.10" d="M666.9 184.5L675.8 191.6L650.4 209.4Z"/>
<path fill-opacity="0.10" d="M502.2 182.4L495.0 187.4L543.8 186.7Z"/>
<path fill-opacity="0.10" d="M502.2 182.4L495.0 187.4L500.0 201.9Z"/>
<path fill-opacity="0.10" d="M502.2 182.4L543.8 186.7L503.8 221.3Z"/>
<path fill-opacity="0.10" d="M610.2 183.5L618.0 170.7L595.1 169.6Z"/>
<path fill-opacity="0.10" d="M610.2 183.5L607.5 173.9L594.3 179.3Z"/>
<path fill-opacity="0.10" d="M610.2 183.5L595.1 169.6L594.3 179.3Z"/>
<path fill-opacity="0.10" d="M622.6 184.6L624.8 210.8L638.5 183.6Z"/>
<path fill-opacity="0.10" d="M622.6 184.6L618.0 170.7L624.8 210.8Z"/>
<path fill-opacity="0.10" d="M622.6 184.6L607.5 173.9L618.0 170.7Z"/>
<path fill-opacity="0.10" d="M675.8 191.6L650.4 209.4L635.3 213.8Z"/>
<path fill-opacity="0.10" d="M675.8 191.6L638.5 183.6L666.9 184.5Z"/>
<path fill-opacity="0.10" d="M675.8 191.6L650.4 209.4L666.9 184.5Z"/>
<path fill-opacity="0.10" d="M543.8 186.7L562.4 187.0L551.9 208.6Z"/>
<path fill-opacity="0.10" d="M543.8 186.7L525.9 205.1L533.8 169.6Z"/>
<path fill-opacity="0.10" d="M543.8 186.7L556.2 187.8L562.4 187.0Z"/>
<path fill-opacity="0.10" d="M556.2 187.8L562.7 163.9L565.4 206.7Z"/>
<path fill-opacity="0.10" d="M556.2 187.8L573.7 182.6L565.4 206.7Z"/>
<path fill-opacity="0.10" d="M556.2 187.8L562.4 187.0L547.3 163.7Z"/>
<path fill-opacity="0.10" d="M562.4 187.0L573.7 182.6L551.9 208.6Z"/>
<path fill-opacity="0.10" d="M562.4 187.0L565.4 206.7L582.4 174.5Z"/>
<path fill-opacity="0.10" d="M562.4 187.0L556.2 187.8L565.4 206.7Z"/>
<path fill-opacity="0.10" d="M594.8 187.8L582.4 174.5L596.1 211.9Z"/>
<path fill-opacity="0.10" d="M594.8 187.8L596.1 211.9L582.4 174.5Z"/>
<path fill-opacity="0.10" d="M594.8 187.8L610.2 183.5L594.3 179.3Z"/>
<path fill-opacity="0.10" d="M610.2 190.5L607.5 173.9L594.8 187.8Z"/>
<path fill-opacity="0.10" d="M610.2 190.5L594.3 179.3L622.6 184.6Z"/>
<path fill-opacity="0.10" d="M610.2 190.5L610.2 183.5L594.3 179.3Z"/>
<path fill-opacity="0.10" d="M621.3 194.0L618.0 170.7L610.2 190.5Z"/>
<path fill-opacity="0.10" d="M621.3 194.0L635.3 213.8L638.5 183.6Z"/>
<path fill-opacity="0.10" d="M621.3 194.0L607.5 173.9L624.8 210.8Z"/>
<path fill-opacity="0.10" d="M565.1 195.9L573.7 182.6L562.4 187.0Z"/>
<path fill-opacity="0.10" d="M565.1 195.9L565.4 206.7L582.6 195.7Z"/>
<path fill-opacity="0.10" d="M565.1 195.9L565.4 206.7L556.2 187.8Z"/>
<path fill-opacity="0.10" d="M582.6 195.7L582.4 174.5L594.8 187.8Z"/>
<path fill-opacity="0.10" d="M582.6 195.7L582.4 174.5L594.8 187.8Z"/>
<path fill-opacity="0.10" d="M582.6 195.7L565.4 206.7L580.8 218.1Z"/>
<path fill-opacity="0.10" d="M525.9 205.1L551.9 208.6L543.8 186.7Z"/>
<path fill-opacity="0.10" d="M525.9 205.1L520.5 170.4L500.0 201.9Z"/>
<path fill-opacity="0.10" d="M525.9 205.1L502.2 182.4L534.3 234.3Z"/>
<path fill-opacity="0.10" d="M500.0 201.9L520.5 170.4L503.8 221.3Z"/>
<path fill-opacity="0.10" d="M500.0 201.9L504.6 169.9L503.8 221.3Z"/>
<path fill-opacity="0.10" d="M500.0 201.9L495.0 187.4L491.5 167.4Z"/>
<path fill-opacity="0.10" d="M551.9 208.6L525.9 205.1L565.1 195.9Z"/>
<path fill-opacity="0.10" d="M551.9 208.6L525.9 205.1L548.1 217.8Z"/>
<path fill-opacity="0.10" d="M551.9 208.6L556.2 187.8L565.4 206.7Z"/>
<path fill-opacity="0.10" d="M565.4 206.7L565.1 195.9L569.9 231.6Z"/>
<path fill-opacity="0.10" d="M565.4 206.7L580.8 218.1L548.1 217.8Z"/>
<path fill-opacity="0.10" d="M565.4 206.7L551.9 208.6L556.2 187.8Z"/>
<path fill-opacity="0.10" d="M650.4 209.4L652.6 178.0L635.3 213.8Z"/>
<path fill-opacity="0.10" d="M650.4 209.4L635.3 213.8L624.8 210.8Z"/>
<path fill-opacity="0.10" d="M650.4 209.4L652.6 178.0L638.5 183.6Z"/>
<path fill-opacity="0.10" d="M624.8 210.8L614.5 213.5L650.4 209.4Z"/>
<path fill-opacity="0.10" d="M624.8 210.8L635.3 213.8L622.6 184.6Z"/>
<path fill-opacity="0.10" d="M624.8 210.8L622.6 184.6L635.3 213.8Z"/>
<path fill-opacity="0.10" d="M596.1 211.9L610.2 190.5L614.5 213.5Z"/>
<path fill-opacity="0.10" d="M596.1 211.9L590.5 219.4L614.5 213.5Z"/>
<path fill-opacity="0.10" d="M596.1 211.9L580.8 218.1L624.8 210.8Z"/>
<path fill-opacity="0.10" d="M602.9 212.9L590.5 219.4L621.3 194.0Z"/>
<path fill-opacity="0.10" d="M602.9 212.9L621.3 194.0L610.2 190.5Z"/>
<path fill-opacity="0.10" d="M602.9 212.9L610.7 218.9L621.3 194.0Z"/>
<path fill-opacity="0.10" d="M614.5 213.5L621.3 194.0L610.7 218.9Z"/>
<path fill-opacity="0.10" d="M614.5 213.5L596.1 211.9L624.8 210.8Z"/>
<path fill-opacity="0.10" d="M614.5 213.5L602.9 212.9L635.3 213.8Z"/>
<path fill-opacity="0.10" d="M635.3 213.8L621.3 194.0L602.9 212.9Z"/>
<path fill-opacity="0.10" d="M635.3 213.8L650.4 209.4L624.8 210.8Z"/>
<path fill-opacity="0.10" d="M635.3 213.8L622.6 184.6L624.8 210.8Z"/>
<path fill-opacity="0.10" d="M548.1 217.8L569.9 231.6L534.3 234.3Z"/>
<path fill-opacity="0.10" d="M548.1 217.8L555.4 231.6L565.4 206.7Z"/>
<path fill-opacity="0.10" d="M548.1 217.8L569.9 231.6L534.3 234.3Z"/>
<path fill-opacity="0.10" d="M580.8 218.1L565.1 195.9L563.2 229.1Z"/>
<path fill-opacity="0.10" d="M580.8 218.1L591.0 240.8L565.1 195.9Z"/>
<path fill-opacity="0.10" d="M580.8 218.1L591.0 240.8L596.1 211.9Z"/>
<path fill-opacity="0.10" d="M590.5 219.4L565.4 206.7L610.7 218.9Z"/>
<path fill-opacity="0.10" d="M590.5 219.4L591.0 240.8L580.8 218.1Z"/>
<path fill-opacity="0.10" d="M590.5 219.4L582.6 195.7L596.1 211.9Z"/>
<path fill-opacity="0.10" d="M610.7 218.9L590.5 219.4L635.6 227.8Z"/>
<path fill-opacity="0.10" d="M610.7 218.9L602.9 212.9L635.6 227.8Z"/>
<path fill-opacity="0.10" d="M610.7 218.9L590.5 219.4L635.3 213.8Z"/>
<path fill-opacity="0.10" d="M503.8 221.3L525.9 205.1L551.9 208.6Z"/>
<path fill-opacity="0.10" d="M503.8 221.3L500.0 201.9L551.9 208.6Z"/>
<path fill-opacity="0.10" d="M503.8 221.3L519.7 240.2L534.3 234.3Z"/>
<path fill-opacity="0.10" d="M666.9 221.9L624.8 210.8L635.6 227.8Z"/>
<path fill-opacity="0.10" d="M666.9 221.9L614.5 213.5L666.9 184.5Z"/>
<path fill-opacity="0.10" d="M666.9 221.9L675.8 191.6L624.8 210.8Z"/>
<path fill-opacity="0.10" d="M635.6 227.8L614.5 213.5L602.9 212.9Z"/>
<path fill-opacity="0.10" d="M635.6 227.8L602.9 212.9L666.9 221.9Z"/>
<path fill-opacity="0.10" d="M635.6 227.8L635.3 213.8L650.4 209.4Z"/>
<path fill-opacity="0.10" d="M555.4 231.6L563.2 229.1L580.8 218.1Z"/>
<path fill-opacity="0.10" d="M555.4 231.6L580.8 218.1L565.4 206.7Z"/>
<path fill-opacity="0.10" d="M555.4 231.6L534.3 234.3L569.9 231.6Z"/>
<path fill-opacity="0.10" d="M563.2 229.1L551.9 208.6L565.4 206.7Z"/>
<path fill-opacity="0.10" d="M563.2 229.1L551.9 208.6L565.4 206.7Z"/>
<path fill-opacity="0.10" d="M563.2 229.1L555.4 231.6L565.4 206.7Z"/>
<path fill-opacity="0.10" d="M569.9 231.6L563.2 229.1L590.5 219.4Z"/>
<path fill-opacity="0.10" d="M569.9 231.6L590.5 219.4L571.6 255.9Z"/>
<path fill-opacity="0.10" d="M569.9 231.6L555.4 231.6L551.9 241.3Z"/>
<path fill-opacity="0.10" d="M504.9 235.1L503.8 221.3L525.9 205.1Z"/>
<path fill-opacity="0.10" d="M504.9 235.1L525.9 205.1L548.1 217.8Z"/>
<path fill-opacity="0.10" d="M504.9 235.1L519.7 240.2L551.9 241.3Z"/>
<path fill-opacity="0.10" d="M534.3 234.3L546.2 261.3L551.9 241.3Z"/>
<path fill-opacity="0.10" d="M534.3 234.3L504.9 235.1L546.2 261.3Z"/>
<path fill-opacity="0.10" d="M534.3 234.3L563.2 229.1L519.7 240.2Z"/>
<path fill-opacity="0.10" d="M519.7 240.2L546.2 261.3L534.3 234.3Z"/>
<path fill-opacity="0.10" d="M519.7 240.2L504.9 235.1L546.2 261.3Z"/>
<path fill-opacity="0.10" d="M519.7 240.2L503.8 221.3L551.9 241.3Z"/>
<path fill-opacity="0.10" d="M551.9 241.3L546.2 261.3L571.6 255.9Z"/>
<path fill-opacity="0.10" d="M551.9 241.3L519.7 240.2L548.1 217.8Z"/>
<path fill-opacity="0.10" d="M551.9 241.3L569.9 231.6L548.1 217.8Z"/>
<path fill-opacity="0.10" d="M591.0 240.8L596.1 211.9L608.3 243.7Z"/>
<path fill-opacity="0.10" d="M591.0 240.8L596.1 211.9L569.9 231.6Z"/>
<path fill-opacity="0.10" d="M591.0 240.8L582.1 257.2L608.3 243.7Z"/>
<path fill-opacity="0.10" d="M608.3 243.7L602.9 212.9L635.6 227.8Z"/>
<path fill-opacity="0.10" d="M608.3 243.7L616.1 268.6L590.5 219.4Z"/>
<path fill-opacity="0.10" d="M608.3 243.7L635.6 227.8L591.0 240.8Z"/>
<path fill-opacity="0.10" d="M571.6 255.9L608.3 243.7L551.9 241.3Z"/>
<path fill-opacity="0.10" d="M571.6 255.9L551.9 241.3L555.4 231.6Z"/>
<path fill-opacity="0.10" d="M571.6 255.9L563.2 229.1L546.2 261.3Z"/>
<path fill-opacity="0.10" d="M582.1 257.2L551.9 271.5L546.2 261.3Z"/>
<path fill-opacity="0.10" d="M582.1 257.2L551.9 271.5L546.2 261.3Z"/>
<path fill-opacity="0.10" d="M582.1 257.2L551.9 241.3L608.3 243.7Z"/>
<path fill-opacity="0.10" d="M546.2 261.3L555.4 231.6L563.2 229.1Z"/>
<path fill-opacity="0.10" d="M546.2 261.3L569.9 231.6L582.1 257.2Z"/>
<path fill-opacity="0.10" d="M546.2 261.3L551.9 241.3L571.6 255.9Z"/>
<path fill-opacity="0.10" d="M551.9 271.5L551.9 241.3L571.6 255.9Z"/>
<path fill-opacity="0.10" d="M551.9 271.5L582.1 257.2L563.2 229.1Z"/>
<path fill-opacity="0.10" d="M551.9 271.5L519.7 240.2L582.1 257.2Z"/>
<path fill-opacity="0.10" d="M616.1 268.6L590.5 219.4L610.7 218.9Z"/>
<path fill-opacity="0.10" d="M616.1 268.6L590.5 219.4L614.5 213.5Z"/>
<path fill-opacity="0.10" d="M616.1 268.6L591.0 240.8L635.6 227.8Z"/>
<path fill-opacity="0.10" d="M493.7 125.0L533.8 137.7L524.0 142.3Z"/>
<path fill-opacity="0.10" d="M493.7 125.0L530.8 112.6L504.6 169.9Z"/>
<path fill-opacity="0.10" d="M493.7 125.0L545.9 114.2L524.0 142.3Z"/>
<path fill-opacity="0.10" d="M491.5 167.4L524.0 142.3L520.5 170.4Z"/>
<path fill-opacity="0.10" d="M491.5 167.4L524.0 142.3L500.0 201.9Z"/>
<path fill-opacity="0.10" d="M491.5 167.4L520.5 170.4L504.6 169.9Z"/>
<path fill-opacity="0.10" d="M495.0 187.4L525.9 205.1L504.9 235.1Z"/>
<path fill-opacity="0.10" d="M495.0 187.4L525.9 205.1L491.5 167.4Z"/>
<path fill-opacity="0.10" d="M495.0 187.4L525.9 205.1L520.5 170.4Z"/>
</g></g>
<path d="M561.8 3.8L582.9 13.5M561.8 3.8L564.3 37.8M561.8 3.8L581.3 40.5M561.8 3.8L563.2 47.8M561.8 3.8L592.1 65.1M561.8 3.8L573.2 73.5M582.9 13.5L577.5 28.6M582.9 13.5L564.3 37.8M582.9 13.5L570.5 41.1M582.9 13.5L581.3 40.5M582.9 13.5L563.2 47.8M582.9 13.5L574.5 54.0M582.9 13.5L560.5 62.9M582.9 13.5L592.1 65.1M582.9 13.5L573.2 73.5M582.9 13.5L548.9 99.1M577.5 28.6L564.3 37.8M577.5 28.6L570.5 41.1M577.5 28.6L581.3 40.5M577.5 28.6L597.5 37.0M577.5 28.6L563.2 47.8M577.5 28.6L574.5 54.0M577.5 28.6L560.5 62.9M577.5 28.6L552.9 71.0M577.5 28.6L580.2 79.4M577.5 28.6L548.9 99.1M577.5 28.6L558.9 98.8M564.3 37.8L570.5 41.1M564.3 37.8L581.3 40.5M564.3 37.8L597.5 37.0M564.3 37.8L563.2 47.8M564.3 37.8L574.5 54.0M564.3 37.8L560.5 62.9M564.3 37.8L592.1 65.1M564.3 37.8L573.2 73.5M564.3 37.8L580.2 79.4M564.3 37.8L548.9 99.1M564.3 37.8L558.9 98.8M570.5 41.1L581.3 40.5M570.5 41.1L597.5 37.0M570.5 41.1L563.2 47.8M570.5 41.1L574.5 54.0M570.5 41.1L560.5 62.9M570.5 41.1L592.1 65.1M570.5 41.1L552.9 71.0M570.5 41.1L573.2 73.5M570.5 41.1L580.2 79.4M570.5 41.1L548.9 99.1M570.5 41.1L558.9 98.8M570.5 41.1L569.1 105.1M570.5 41.1L545.9 114.2M581.3 40.5L597.5 37.0M581.3 40.5L563.2 47.8M581.3 40.5L574.5 54.0M581.3 40.5L560.5 62.9M581.3 40.5L592.1 65.1M581.3 40.5L552.9 71.0M581.3 40.5L548.9 99.1M597.5 37.0L563.2 47.8M597.5 37.0L574.5 54.0M597.5 37.0L627.2 55.4M597.5 37.0L552.9 71.0M597.5 37.0L573.2 73.5M597.5 37.0L580.2 79.4M597.5 37.0L537.3 90.7M597.5 37.0L548.9 99.1M597.5 37.0L558.9 98.8M597.5 37.0L606.7 103.4M597.5 37.0L621.5 123.2M563.2 47.8L574.5 54.0M563.2 47.8L560.5 62.9M563.2 47.8L592.1 65.1M563.2 47.8L580.2 79.4M563.2 47.8L548.9 99.1M563.2 47.8L558.9 98.8M563.2 47.8L565.9 115.3M574.5 54.0L560.5 62.9M574.5 54.0L592.1 65.1M574.5 54.0L552.9 71.0M574.5 54.0L573.2 73.5M574.5 54.0L580.2 79.4M574.5 54.0L537.3 90.7M574.5 54.0L548.9 99.1M574.5 54.0L558.9 98.8M627.2 55.4L592.1 65.1M627.2 55.4L612.6 83.2M627.2 55.4L665.6 89.4M560.5 62.9L592.1 65.1M560.5 62.9L552.9 71.0M560.5 62.9L573.2 73.5M560.5 62.9L580.2 79.4M560.5 62.9L537.3 90.7M560.5 62.9L548.9 99.1M560.5 62.9L558.9 98.8M560.5 62.9L566.2 126.1M560.5 62.9L572.1 126.7M592.1 65.1L552.9 71.0M592.1 65.1L573.2 73.5M592.1 65.1L580.2 79.4M592.1 65.1L537.3 90.7M592.1 65.1L558.9 98.8M592.1 65.1L575.9 110.2M592.1 65.1L606.7 103.4M592.1 65.1L565.9 115.3M592.1 65.1L621.5 123.2M592.1 65.1L572.1 126.7M592.1 65.1L581.8 136.9M552.9 71.0L573.2 73.5M552.9 71.0L580.2 79.4M552.9 71.0L537.3 90.7M552.9 71.0L548.9 99.1M552.9 71.0L558.9 98.8M552.9 71.0L575.9 110.2M552.9 71.0L530.8 112.6M552.9 71.0L545.9 114.2M552.9 71.0L565.9 115.3M552.9 71.0L557.5 126.4M552.9 71.0L521.9 131.3M552.9 71.0L493.7 125.0M573.2 73.5L580.2 79.4M573.2 73.5L537.3 90.7M573.2 73.5L548.9 99.1M573.2 73.5L558.9 98.8M573.2 73.5L569.1 105.1M573.2 73.5L575.9 110.2M573.2 73.5L530.8 112.6M573.2 73.5L565.9 115.3M573.2 73.5L566.2 126.1M573.2 73.5L572.1 126.7M573.2 73.5L581.8 136.9M573.2 73.5L556.2 139.9M580.2 79.4L537.3 90.7M580.2 79.4L548.9 99.1M580.2 79.4L558.9 98.8M580.2 79.4L545.9 114.2M580.2 79.4L573.2 142.1M580.2 79.4L576.7 156.6M612.6 83.2L575.9 110.2M612.6 83.2L606.7 103.4M612.6 83.2L608.3 111.0M612.6 83.2L621.5 123.2M612.6 83.2L572.1 126.7M612.6 83.2L586.7 137.7M665.6 89.4L638.0 105.6M537.3 90.7L548.9 99.1M537.3 90.7L558.9 98.8M537.3 90.7L575.9 110.2M537.3 90.7L545.9 114.2M537.3 90.7L555.6 116.7M537.3 90.7L565.9 115.3M537.3 90.7L544.0 125.0M537.3 90.7L557.5 126.4M537.3 90.7L566.2 126.1M537.3 90.7L572.1 126.7M537.3 90.7L533.8 137.7M537.3 90.7L556.2 139.9M537.3 90.7L524.0 142.3M537.3 90.7L551.3 148.5M548.9 99.1L558.9 98.8M548.9 99.1L569.1 105.1M548.9 99.1L530.8 112.6M548.9 99.1L545.9 114.2M548.9 99.1L555.6 116.7M548.9 99.1L565.9 115.3M548.9 99.1L544.0 125.0M548.9 99.1L557.5 126.4M548.9 99.1L572.1 126.7M548.9 99.1L533.8 137.7M548.9 99.1L602.9 144.2M548.9 99.1L566.4 146.6M548.9 99.1L551.3 148.5M548.9 99.1L587.0 159.3M558.9 98.8L569.1 105.1M558.9 98.8L575.9 110.2M558.9 98.8L530.8 112.6M558.9 98.8L545.9 114.2M558.9 98.8L555.6 116.7M558.9 98.8L565.9 115.3M558.9 98.8L566.2 126.1M558.9 98.8L581.8 136.9M558.9 98.8L533.8 137.7M558.9 98.8L573.2 142.1M558.9 98.8L566.4 146.6M558.9 98.8L551.3 148.5M558.9 98.8L614.2 152.9M569.1 105.1L575.9 110.2M569.1 105.1L545.9 114.2M569.1 105.1L555.6 116.7M569.1 105.1L565.9 115.3M569.1 105.1L544.0 125.0M569.1 105.1L566.2 126.1M569.1 105.1L572.1 126.7M569.1 105.1L521.9 131.3M569.1 105.1L586.7 137.7M569.1 105.1L595.6 139.4M569.1 105.1L556.2 139.9M569.1 105.1L573.2 142.1M569.1 105.1L551.3 148.5M569.1 105.1L614.2 152.9M569.1 105.1L587.0 159.3M569.1 105.1L562.7 163.9M569.1 105.1L595.1 169.6M575.9 110.2L530.8 112.6M575.9 110.2L545.9 114.2M575.9 110.2L555.6 116.7M575.9 110.2L565.9 115.3M575.9 110.2L544.0 125.0M575.9 110.2L557.5 126.4M575.9 110.2L566.2 126.1M575.9 110.2L572.1 126.7M575.9 110.2L581.8 136.9M575.9 110.2L586.7 137.7M575.9 110.2L595.6 139.4M575.9 110.2L556.2 139.9M575.9 110.2L602.9 144.2M575.9 110.2L566.4 146.6M575.9 110.2L614.2 152.9M575.9 110.2L565.1 155.3M575.9 110.2L562.7 163.9M575.9 110.2L595.1 169.6M575.9 110.2L607.5 173.9M606.7 103.4L608.3 111.0M606.7 103.4L621.5 123.2M606.7 103.4L605.1 133.1M606.7 103.4L586.7 137.7M606.7 103.4L622.1 139.9M606.7 103.4L602.9 144.2M606.7 103.4L614.2 152.9M606.7 103.4L587.0 159.3M608.3 111.0L621.5 123.2M608.3 111.0L605.1 133.1M608.3 111.0L581.8 136.9M608.3 111.0L573.2 142.1M608.3 111.0L602.9 144.2M608.3 111.0L576.7 156.6M608.3 111.0L587.0 159.3M608.3 111.0L570.8 162.0M608.3 111.0L636.7 163.4M608.3 111.0L622.6 184.6M638.0 105.6L621.5 123.2M638.0 105.6L605.1 133.1M638.0 105.6L602.9 144.2M530.8 112.6L545.9 114.2M530.8 112.6L565.9 115.3M530.8 112.6L544.0 125.0M530.8 112.6L557.5 126.4M530.8 112.6L521.9 131.3M530.8 112.6L533.8 137.7M530.8 112.6L556.2 139.9M530.8 112.6L524.0 142.3M530.8 112.6L565.1 155.3M530.8 112.6L576.7 156.6M530.8 112.6L493.7 125.0M545.9 114.2L555.6 116.7M545.9 114.2L565.9 115.3M545.9 114.2L544.0 125.0M545.9 114.2L557.5 126.4M545.9 114.2L572.1 126.7M545.9 114.2L581.8 136.9M545.9 114.2L595.6 139.4M545.9 114.2L533.8 137.7M545.9 114.2L573.2 142.1M545.9 114.2L602.9 144.2M545.9 114.2L551.3 148.5M545.9 114.2L565.1 155.3M545.9 114.2L562.4 187.0M555.6 116.7L565.9 115.3M555.6 116.7L544.0 125.0M555.6 116.7L557.5 126.4M555.6 116.7L566.2 126.1M555.6 116.7L572.1 126.7M555.6 116.7L521.9 131.3M555.6 116.7L595.6 139.4M555.6 116.7L556.2 139.9M555.6 116.7L622.1 139.9M555.6 116.7L524.0 142.3M555.6 116.7L566.4 146.6M555.6 116.7L551.3 148.5M555.6 116.7L562.7 163.9M555.6 116.7L570.8 162.0M555.6 116.7L520.5 170.4M555.6 116.7L533.8 169.6M555.6 116.7L595.1 169.6M565.9 115.3L557.5 126.4M565.9 115.3L566.2 126.1M565.9 115.3L572.1 126.7M565.9 115.3L521.9 131.3M565.9 115.3L586.7 137.7M565.9 115.3L556.2 139.9M565.9 115.3L573.2 142.1M565.9 115.3L524.0 142.3M565.9 115.3L566.4 146.6M565.9 115.3L551.3 148.5M565.9 115.3L614.2 152.9M565.9 115.3L547.3 163.7M565.9 115.3L570.8 162.0M565.9 115.3L582.4 174.5M565.9 115.3L556.2 187.8M621.5 123.2L605.1 133.1M621.5 123.2L581.8 136.9M621.5 123.2L595.6 139.4M621.5 123.2L556.2 139.9M621.5 123.2L573.2 142.1M621.5 123.2L622.1 139.9M621.5 123.2L676.4 141.5M621.5 123.2L602.9 144.2M621.5 123.2L566.4 146.6M621.5 123.2L595.1 169.6M621.5 123.2L607.5 173.9M544.0 125.0L557.5 126.4M544.0 125.0L566.2 126.1M544.0 125.0L572.1 126.7M544.0 125.0L521.9 131.3M544.0 125.0L605.1 133.1M544.0 125.0L581.8 136.9M544.0 125.0L533.8 137.7M544.0 125.0L556.2 139.9M544.0 125.0L573.2 142.1M544.0 125.0L602.9 144.2M544.0 125.0L551.3 148.5M544.0 125.0L565.1 155.3M544.0 125.0L582.4 174.5M544.0 125.0L594.3 179.3M544.0 125.0L565.1 195.9M557.5 126.4L566.2 126.1M557.5 126.4L572.1 126.7M557.5 126.4L521.9 131.3M557.5 126.4L605.1 133.1M557.5 126.4L586.7 137.7M557.5 126.4L533.8 137.7M557.5 126.4L556.2 139.9M557.5 126.4L524.0 142.3M557.5 126.4L614.2 152.9M557.5 126.4L565.1 155.3M557.5 126.4L587.0 159.3M557.5 126.4L547.3 163.7M557.5 126.4L562.7 163.9M557.5 126.4L570.8 162.0M557.5 126.4L533.8 169.6M557.5 126.4L582.4 174.5M557.5 126.4L573.7 182.6M566.2 126.1L572.1 126.7M566.2 126.1L521.9 131.3M566.2 126.1L581.8 136.9M566.2 126.1L586.7 137.7M566.2 126.1L533.8 137.7M566.2 126.1L556.2 139.9M566.2 126.1L573.2 142.1M566.2 126.1L524.0 142.3M566.2 126.1L602.9 144.2M566.2 126.1L566.4 146.6M566.2 126.1L565.1 155.3M566.2 126.1L576.7 156.6M566.2 126.1L587.0 159.3M566.2 126.1L570.8 162.0M566.2 126.1L594.3 179.3M566.2 126.1L556.2 187.8M566.2 126.1L562.4 187.0M572.1 126.7L521.9 131.3M572.1 126.7L605.1 133.1M572.1 126.7L581.8 136.9M572.1 126.7L586.7 137.7M572.1 126.7L556.2 139.9M572.1 126.7L573.2 142.1M572.1 126.7L622.1 139.9M572.1 126.7L602.9 144.2M572.1 126.7L566.4 146.6M572.1 126.7L551.3 148.5M572.1 126.7L565.1 155.3M572.1 126.7L576.7 156.6M572.1 126.7L587.0 159.3M572.1 126.7L547.3 163.7M572.1 126.7L570.8 162.0M572.1 126.7L533.8 169.6M572.1 126.7L610.2 183.5M572.1 126.7L594.8 187.8M572.1 126.7L582.6 195.7M521.9 131.3L586.7 137.7M521.9 131.3L533.8 137.7M521.9 131.3L556.2 139.9M521.9 131.3L573.2 142.1M521.9 131.3L524.0 142.3M521.9 131.3L551.3 148.5M521.9 131.3L565.1 155.3M521.9 131.3L562.7 163.9M521.9 131.3L570.8 162.0M521.9 131.3L533.8 169.6M521.9 131.3L582.4 174.5M521.9 131.3L556.2 187.8M521.9 131.3L493.7 125.0M605.1 133.1L581.8 136.9M605.1 133.1L586.7 137.7M605.1 133.1L595.6 139.4M605.1 133.1L556.2 139.9M605.1 133.1L573.2 142.1M605.1 133.1L622.1 139.9M605.1 133.1L602.9 144.2M605.1 133.1L566.4 146.6M605.1 133.1L614.2 152.9M605.1 133.1L565.1 155.3M605.1 133.1L587.0 159.3M605.1 133.1L547.3 163.7M605.1 133.1L626.4 162.6M605.1 133.1L636.7 163.4M605.1 133.1L595.1 169.6M605.1 133.1L618.0 170.7M605.1 133.1L582.4 174.5M605.1 133.1L594.3 179.3M605.1 133.1L610.2 183.5M581.8 136.9L586.7 137.7M581.8 136.9L595.6 139.4M581.8 136.9L556.2 139.9M581.8 136.9L573.2 142.1M581.8 136.9L636.1 142.6M581.8 136.9L602.9 144.2M581.8 136.9L566.4 146.6M581.8 136.9L551.3 148.5M581.8 136.9L565.1 155.3M581.8 136.9L576.7 156.6M581.8 136.9L587.0 159.3M581.8 136.9L570.8 162.0M581.8 136.9L626.4 162.6M581.8 136.9L520.5 170.4M581.8 136.9L533.8 169.6M581.8 136.9L582.4 174.5M581.8 136.9L607.5 173.9M581.8 136.9L610.2 183.5M581.8 136.9L551.9 208.6M586.7 137.7L595.6 139.4M586.7 137.7L556.2 139.9M586.7 137.7L573.2 142.1M586.7 137.7L622.1 139.9M586.7 137.7L602.9 144.2M586.7 137.7L566.4 146.6M586.7 137.7L551.3 148.5M586.7 137.7L644.8 149.4M586.7 137.7L565.1 155.3M586.7 137.7L576.7 156.6M586.7 137.7L587.0 159.3M586.7 137.7L547.3 163.7M586.7 137.7L570.8 162.0M586.7 137.7L626.4 162.6M586.7 137.7L595.1 169.6M586.7 137.7L618.0 170.7M586.7 137.7L607.5 173.9M586.7 137.7L594.3 179.3M586.7 137.7L573.7 182.6M586.7 137.7L622.6 184.6M586.7 137.7L556.2 187.8M586.7 137.7L562.4 187.0M586.7 137.7L610.2 190.5M586.7 137.7L582.6 195.7M595.6 139.4L556.2 139.9M595.6 139.4L573.2 142.1M595.6 139.4L636.1 142.6M595.6 139.4L524.0 142.3M595.6 139.4L602.9 144.2M595.6 139.4L566.4 146.6M595.6 139.4L551.3 148.5M595.6 139.4L614.2 152.9M595.6 139.4L565.1 155.3M595.6 139.4L576.7 156.6M595.6 139.4L587.0 159.3M595.6 139.4L562.7 163.9M595.6 139.4L595.1 169.6M595.6 139.4L618.0 170.7M595.6 139.4L594.3 179.3M595.6 139.4L573.7 182.6M595.6 139.4L562.4 187.0M595.6 139.4L610.2 190.5M533.8 137.7L556.2 139.9M533.8 137.7L573.2 142.1M533.8 137.7L524.0 142.3M533.8 137.7L551.3 148.5M533.8 137.7L565.1 155.3M533.8 137.7L576.7 156.6M533.8 137.7L547.3 163.7M533.8 137.7L562.7 163.9M533.8 137.7L570.8 162.0M533.8 137.7L504.6 169.9M533.8 137.7L556.2 187.8M533.8 137.7L525.9 205.1M533.8 137.7L493.7 125.0M556.2 139.9L573.2 142.1M556.2 139.9L524.0 142.3M556.2 139.9L566.4 146.6M556.2 139.9L551.3 148.5M556.2 139.9L614.2 152.9M556.2 139.9L565.1 155.3M556.2 139.9L576.7 156.6M556.2 139.9L587.0 159.3M556.2 139.9L570.8 162.0M556.2 139.9L520.5 170.4M556.2 139.9L595.1 169.6M556.2 139.9L543.8 186.7M556.2 139.9L556.2 187.8M556.2 139.9L594.8 187.8M556.2 139.9L525.9 205.1M573.2 142.1L636.1 142.6M573.2 142.1L566.4 146.6M573.2 142.1L551.3 148.5M573.2 142.1L565.1 155.3M573.2 142.1L576.7 156.6M573.2 142.1L587.0 159.3M573.2 142.1L547.3 163.7M573.2 142.1L562.7 163.9M573.2 142.1L570.8 162.0M573.2 142.1L520.5 170.4M573.2 142.1L595.1 169.6M573.2 142.1L618.0 170.7M573.2 142.1L573.7 182.6M573.2 142.1L610.2 183.5M573.2 142.1L582.6 195.7M573.2 142.1L551.9 208.6M622.1 139.9L602.9 144.2M622.1 139.9L551.3 148.5M622.1 139.9L644.8 149.4M622.1 139.9L614.2 152.9M622.1 139.9L576.7 156.6M622.1 139.9L562.7 163.9M622.1 139.9L626.4 162.6M622.1 139.9L595.1 169.6M622.1 139.9L618.0 170.7M622.1 139.9L582.4 174.5M622.1 139.9L607.5 173.9M622.1 139.9L573.7 182.6M622.1 139.9L638.5 183.6M622.1 139.9L610.2 183.5M622.1 139.9L622.6 184.6M636.1 142.6L602.9 144.2M636.1 142.6L614.2 152.9M636.1 142.6L636.7 163.4M636.1 142.6L595.1 169.6M636.1 142.6L594.3 179.3M636.1 142.6L652.6 178.0M636.1 142.6L666.9 184.5M636.1 142.6L675.8 191.6M636.1 142.6L610.2 190.5M636.1 142.6L635.3 213.8M676.4 141.5L644.8 149.4M676.4 141.5L636.7 163.4M676.4 141.5L652.6 178.0M676.4 141.5L666.9 184.5M676.4 141.5L675.8 191.6M524.0 142.3L566.4 146.6M524.0 142.3L551.3 148.5M524.0 142.3L533.8 169.6M524.0 142.3L582.4 174.5M524.0 142.3L573.7 182.6M524.0 142.3L543.8 186.7M524.0 142.3L556.2 187.8M524.0 142.3L491.5 167.4M602.9 144.2L566.4 146.6M602.9 144.2L614.2 152.9M602.9 144.2L576.7 156.6M602.9 144.2L587.0 159.3M602.9 144.2L626.4 162.6M602.9 144.2L595.1 169.6M602.9 144.2L607.5 173.9M602.9 144.2L594.3 179.3M602.9 144.2L638.5 183.6M602.9 144.2L610.2 183.5M602.9 144.2L621.3 194.0M602.9 144.2L614.5 213.5M566.4 146.6L551.3 148.5M566.4 146.6L644.8 149.4M566.4 146.6L614.2 152.9M566.4 146.6L565.1 155.3M566.4 146.6L576.7 156.6M566.4 146.6L587.0 159.3M566.4 146.6L547.3 163.7M566.4 146.6L562.7 163.9M566.4 146.6L570.8 162.0M566.4 146.6L533.8 169.6M566.4 146.6L595.1 169.6M566.4 146.6L618.0 170.7M566.4 146.6L582.4 174.5M566.4 146.6L573.7 182.6M566.4 146.6L622.6 184.6M566.4 146.6L556.2 187.8M566.4 146.6L562.4 187.0M566.4 146.6L548.1 217.8M551.3 148.5L565.1 155.3M551.3 148.5L576.7 156.6M551.3 148.5L587.0 159.3M551.3 148.5L547.3 163.7M551.3 148.5L562.7 163.9M551.3 148.5L626.4 162.6M551.3 148.5L520.5 170.4M551.3 148.5L502.2 182.4M551.3 148.5L543.8 186.7M551.3 148.5L594.8 187.8M551.3 148.5L565.1 195.9M644.8 149.4L614.2 152.9M644.8 149.4L680.7 158.8M644.8 149.4L626.4 162.6M644.8 149.4L636.7 163.4M644.8 149.4L618.0 170.7M644.8 149.4L607.5 173.9M644.8 149.4L652.6 178.0M644.8 149.4L638.5 183.6M614.2 152.9L576.7 156.6M614.2 152.9L626.4 162.6M614.2 152.9L636.7 163.4M614.2 152.9L618.0 170.7M614.2 152.9L582.4 174.5M614.2 152.9L607.5 173.9M614.2 152.9L594.3 179.3M614.2 152.9L573.7 182.6M614.2 152.9L556.2 187.8M614.2 152.9L562.4 187.0M614.2 152.9L594.8 187.8M614.2 152.9L621.3 194.0M614.2 152.9L582.6 195.7M614.2 152.9L650.4 209.4M614.2 152.9L624.8 210.8M614.2 152.9L596.1 211.9M614.2 152.9L614.5 213.5M565.1 155.3L576.7 156.6M565.1 155.3L547.3 163.7M565.1 155.3L562.7 163.9M565.1 155.3L570.8 162.0M565.1 155.3L504.6 169.9M565.1 155.3L533.8 169.6M565.1 155.3L595.1 169.6M565.1 155.3L582.4 174.5M565.1 155.3L607.5 173.9M565.1 155.3L594.3 179.3M565.1 155.3L573.7 182.6M565.1 155.3L610.2 183.5M565.1 155.3L622.6 184.6M565.1 155.3L543.8 186.7M565.1 155.3L556.2 187.8M565.1 155.3L594.8 187.8M565.1 155.3L565.1 195.9M565.1 155.3L551.9 208.6M565.1 155.3L565.4 206.7M565.1 155.3L596.1 211.9M576.7 156.6L587.0 159.3M576.7 156.6L547.3 163.7M576.7 156.6L562.7 163.9M576.7 156.6L570.8 162.0M576.7 156.6L626.4 162.6M576.7 156.6L636.7 163.4M576.7 156.6L520.5 170.4M576.7 156.6L533.8 169.6M576.7 156.6L595.1 169.6M576.7 156.6L582.4 174.5M576.7 156.6L607.5 173.9M576.7 156.6L594.3 179.3M576.7 156.6L573.7 182.6M576.7 156.6L610.2 183.5M576.7 156.6L556.2 187.8M576.7 156.6L562.4 187.0M576.7 156.6L594.8 187.8M576.7 156.6L610.2 190.5M576.7 156.6L565.1 195.9M576.7 156.6L596.1 211.9M576.7 156.6L580.8 218.1M587.0 159.3L547.3 163.7M587.0 159.3L562.7 163.9M587.0 159.3L570.8 162.0M587.0 159.3L626.4 162.6M587.0 159.3L636.7 163.4M587.0 159.3L533.8 169.6M587.0 159.3L595.1 169.6M587.0 159.3L582.4 174.5M587.0 159.3L607.5 173.9M587.0 159.3L594.3 179.3M587.0 159.3L610.2 183.5M587.0 159.3L622.6 184.6M587.0 159.3L562.4 187.0M587.0 159.3L594.8 187.8M587.0 159.3L610.2 190.5M587.0 159.3L565.1 195.9M587.0 159.3L602.9 212.9M680.7 158.8L636.7 163.4M680.7 158.8L652.6 178.0M680.7 158.8L666.9 184.5M680.7 158.8L675.8 191.6M547.3 163.7L562.7 163.9M547.3 163.7L570.8 162.0M547.3 163.7L504.6 169.9M547.3 163.7L520.5 170.4M547.3 163.7L533.8 169.6M547.3 163.7L595.1 169.6M547.3 163.7L607.5 173.9M547.3 163.7L502.2 182.4M547.3 163.7L610.2 183.5M547.3 163.7L543.8 186.7M547.3 163.7L562.4 187.0M547.3 163.7L610.2 190.5M547.3 163.7L565.1 195.9M547.3 163.7L565.4 206.7M547.3 163.7L548.1 217.8M547.3 163.7L503.8 221.3M547.3 163.7L438.8 159.8M562.7 163.9L570.8 162.0M562.7 163.9L626.4 162.6M562.7 163.9L520.5 170.4M562.7 163.9L533.8 169.6M562.7 163.9L595.1 169.6M562.7 163.9L618.0 170.7M562.7 163.9L582.4 174.5M562.7 163.9L594.3 179.3M562.7 163.9L573.7 182.6M562.7 163.9L502.2 182.4M562.7 163.9L543.8 186.7M562.7 163.9L556.2 187.8M562.7 163.9L594.8 187.8M562.7 163.9L582.6 195.7M562.7 163.9L525.9 205.1M562.7 163.9L596.1 211.9M562.7 163.9L602.9 212.9M562.7 163.9L548.1 217.8M562.7 163.9L590.5 219.4M562.7 163.9L563.2 229.1M570.8 162.0L533.8 169.6M570.8 162.0L595.1 169.6M570.8 162.0L618.0 170.7M570.8 162.0L582.4 174.5M570.8 162.0L573.7 182.6M570.8 162.0L610.2 183.5M570.8 162.0L556.2 187.8M570.8 162.0L562.4 187.0M570.8 162.0L610.2 190.5M570.8 162.0L565.1 195.9M570.8 162.0L582.6 195.7M570.8 162.0L551.9 208.6M570.8 162.0L596.1 211.9M570.8 162.0L569.9 231.6M626.4 162.6L636.7 163.4M626.4 162.6L595.1 169.6M626.4 162.6L618.0 170.7M626.4 162.6L582.4 174.5M626.4 162.6L607.5 173.9M626.4 162.6L594.3 179.3M626.4 162.6L652.6 178.0M626.4 162.6L638.5 183.6M626.4 162.6L610.2 183.5M626.4 162.6L622.6 184.6M626.4 162.6L594.8 187.8M626.4 162.6L621.3 194.0M626.4 162.6L650.4 209.4M626.4 162.6L624.8 210.8M626.4 162.6L614.5 213.5M626.4 162.6L590.5 219.4M636.7 163.4L595.1 169.6M636.7 163.4L618.0 170.7M636.7 163.4L607.5 173.9M636.7 163.4L594.3 179.3M636.7 163.4L652.6 178.0M636.7 163.4L638.5 183.6M636.7 163.4L622.6 184.6M636.7 163.4L675.8 191.6M636.7 163.4L594.8 187.8M636.7 163.4L621.3 194.0M636.7 163.4L582.6 195.7M636.7 163.4L650.4 209.4M636.7 163.4L602.9 212.9M636.7 163.4L610.7 218.9M504.6 169.9L520.5 170.4M504.6 169.9L502.2 182.4M504.6 169.9L543.8 186.7M504.6 169.9L551.9 208.6M504.6 169.9L390.5 157.4M504.6 169.9L407.8 144.1M504.6 169.9L426.4 154.1M504.6 169.9L444.8 172.2M504.6 169.9L464.8 127.1M504.6 169.9L493.7 125.0M504.6 169.9L491.5 167.4M504.6 169.9L495.0 187.4M520.5 170.4L533.8 169.6M520.5 170.4L595.1 169.6M520.5 170.4L502.2 182.4M520.5 170.4L543.8 186.7M520.5 170.4L562.4 187.0M520.5 170.4L525.9 205.1M520.5 170.4L500.0 201.9M520.5 170.4L416.4 135.5M520.5 170.4L438.8 159.8M520.5 170.4L444.8 172.2M520.5 170.4L493.7 125.0M520.5 170.4L491.5 167.4M520.5 170.4L495.0 187.4M533.8 169.6L595.1 169.6M533.8 169.6L582.4 174.5M533.8 169.6L594.3 179.3M533.8 169.6L573.7 182.6M533.8 169.6L543.8 186.7M533.8 169.6L556.2 187.8M533.8 169.6L562.4 187.0M533.8 169.6L500.0 201.9M533.8 169.6L551.9 208.6M533.8 169.6L565.4 206.7M533.8 169.6L548.1 217.8M533.8 169.6L503.8 221.3M533.8 169.6L444.8 172.2M595.1 169.6L618.0 170.7M595.1 169.6L582.4 174.5M595.1 169.6L607.5 173.9M595.1 169.6L594.3 179.3M595.1 169.6L573.7 182.6M595.1 169.6L638.5 183.6M595.1 169.6L610.2 183.5M595.1 169.6L622.6 184.6M595.1 169.6L562.4 187.0M595.1 169.6L594.8 187.8M595.1 169.6L621.3 194.0M595.1 169.6L565.1 195.9M595.1 169.6L582.6 195.7M595.1 169.6L565.4 206.7M595.1 169.6L596.1 211.9M595.1 169.6L610.7 218.9M618.0 170.7L582.4 174.5M618.0 170.7L607.5 173.9M618.0 170.7L594.3 179.3M618.0 170.7L573.7 182.6M618.0 170.7L666.9 184.5M618.0 170.7L610.2 183.5M618.0 170.7L622.6 184.6M618.0 170.7L556.2 187.8M618.0 170.7L594.8 187.8M618.0 170.7L610.2 190.5M618.0 170.7L565.1 195.9M618.0 170.7L582.6 195.7M618.0 170.7L624.8 210.8M618.0 170.7L596.1 211.9M618.0 170.7L614.5 213.5M618.0 170.7L580.8 218.1M618.0 170.7L610.7 218.9M582.4 174.5L607.5 173.9M582.4 174.5L594.3 179.3M582.4 174.5L573.7 182.6M582.4 174.5L543.8 186.7M582.4 174.5L562.4 187.0M582.4 174.5L594.8 187.8M582.4 174.5L610.2 190.5M582.4 174.5L565.1 195.9M582.4 174.5L582.6 195.7M582.4 174.5L551.9 208.6M582.4 174.5L565.4 206.7M582.4 174.5L602.9 212.9M582.4 174.5L548.1 217.8M582.4 174.5L590.5 219.4M582.4 174.5L610.7 218.9M607.5 173.9L594.3 179.3M607.5 173.9L652.6 178.0M607.5 173.9L573.7 182.6M607.5 173.9L638.5 183.6M607.5 173.9L610.2 183.5M607.5 173.9L622.6 184.6M607.5 173.9L556.2 187.8M607.5 173.9L562.4 187.0M607.5 173.9L594.8 187.8M607.5 173.9L610.2 190.5M607.5 173.9L621.3 194.0M607.5 173.9L582.6 195.7M607.5 173.9L551.9 208.6M607.5 173.9L596.1 211.9M607.5 173.9L580.8 218.1M594.3 179.3L573.7 182.6M594.3 179.3L610.2 183.5M594.3 179.3L543.8 186.7M594.3 179.3L556.2 187.8M594.3 179.3L594.8 187.8M594.3 179.3L610.2 190.5M594.3 179.3L621.3 194.0M594.3 179.3L582.6 195.7M594.3 179.3L551.9 208.6M594.3 179.3L596.1 211.9M594.3 179.3L602.9 212.9M594.3 179.3L580.8 218.1M594.3 179.3L590.5 219.4M594.3 179.3L610.7 218.9M594.3 179.3L635.6 227.8M594.3 179.3L591.0 240.8M652.6 178.0L638.5 183.6M652.6 178.0L666.9 184.5M652.6 178.0L610.2 183.5M652.6 178.0L622.6 184.6M652.6 178.0L610.2 190.5M652.6 178.0L621.3 194.0M652.6 178.0L655.0 194.8M652.6 178.0L635.3 213.8M573.7 182.6L610.2 183.5M573.7 182.6L543.8 186.7M573.7 182.6L556.2 187.8M573.7 182.6L562.4 187.0M573.7 182.6L594.8 187.8M573.7 182.6L621.3 194.0M573.7 182.6L565.1 195.9M573.7 182.6L582.6 195.7M573.7 182.6L525.9 205.1M573.7 182.6L565.4 206.7M573.7 182.6L602.9 212.9M573.7 182.6L614.5 213.5M573.7 182.6L548.1 217.8M573.7 182.6L590.5 219.4M573.7 182.6L610.7 218.9M573.7 182.6L563.2 229.1M573.7 182.6L591.0 240.8M638.5 183.6L666.9 184.5M638.5 183.6L610.2 183.5M638.5 183.6L622.6 184.6M638.5 183.6L594.8 187.8M638.5 183.6L610.2 190.5M638.5 183.6L621.3 194.0M638.5 183.6L655.0 194.8M638.5 183.6L624.8 210.8M638.5 183.6L635.3 213.8M638.5 183.6L580.8 218.1M666.9 184.5L675.8 191.6M666.9 184.5L610.2 190.5M666.9 184.5L655.0 194.8M666.9 184.5L614.5 213.5M502.2 182.4L543.8 186.7M502.2 182.4L556.2 187.8M502.2 182.4L562.4 187.0M502.2 182.4L525.9 205.1M502.2 182.4L500.0 201.9M502.2 182.4L503.8 221.3M502.2 182.4L415.3 189.0M502.2 182.4L491.5 167.4M502.2 182.4L495.0 187.4M610.2 183.5L622.6 184.6M610.2 183.5L556.2 187.8M610.2 183.5L594.8 187.8M610.2 183.5L610.2 190.5M610.2 183.5L621.3 194.0M610.2 183.5L565.1 195.9M610.2 183.5L551.9 208.6M610.2 183.5L565.4 206.7M610.2 183.5L596.1 211.9M610.2 183.5L602.9 212.9M610.2 183.5L635.6 227.8M610.2 183.5L608.3 243.7M622.6 184.6L610.2 190.5M622.6 184.6L621.3 194.0M622.6 184.6L655.0 194.8M622.6 184.6L582.6 195.7M622.6 184.6L551.9 208.6M622.6 184.6L650.4 209.4M622.6 184.6L624.8 210.8M622.6 184.6L602.9 212.9M622.6 184.6L614.5 213.5M622.6 184.6L635.3 213.8M622.6 184.6L580.8 218.1M622.6 184.6L590.5 219.4M622.6 184.6L610.7 218.9M622.6 184.6L635.6 227.8M675.8 191.6L655.0 194.8M543.8 186.7L556.2 187.8M543.8 186.7L562.4 187.0M543.8 186.7L565.1 195.9M543.8 186.7L582.6 195.7M543.8 186.7L500.0 201.9M543.8 186.7L565.4 206.7M543.8 186.7L548.1 217.8M543.8 186.7L580.8 218.1M543.8 186.7L563.2 229.1M543.8 186.7L491.5 167.4M556.2 187.8L562.4 187.0M556.2 187.8L594.8 187.8M556.2 187.8L610.2 190.5M556.2 187.8L565.1 195.9M556.2 187.8L582.6 195.7M556.2 187.8L525.9 205.1M556.2 187.8L551.9 208.6M556.2 187.8L565.4 206.7M556.2 187.8L624.8 210.8M556.2 187.8L602.9 212.9M556.2 187.8L580.8 218.1M556.2 187.8L563.2 229.1M556.2 187.8L534.3 234.3M562.4 187.0L594.8 187.8M562.4 187.0L610.2 190.5M562.4 187.0L621.3 194.0M562.4 187.0L565.1 195.9M562.4 187.0L582.6 195.7M562.4 187.0L551.9 208.6M562.4 187.0L565.4 206.7M562.4 187.0L596.1 211.9M562.4 187.0L548.1 217.8M562.4 187.0L580.8 218.1M562.4 187.0L555.4 231.6M594.8 187.8L610.2 190.5M594.8 187.8L621.3 194.0M594.8 187.8L565.1 195.9M594.8 187.8L582.6 195.7M594.8 187.8L565.4 206.7M594.8 187.8L650.4 209.4M594.8 187.8L596.1 211.9M594.8 187.8L602.9 212.9M594.8 187.8L614.5 213.5M594.8 187.8L635.3 213.8M594.8 187.8L548.1 217.8M594.8 187.8L580.8 218.1M594.8 187.8L555.4 231.6M610.2 190.5L621.3 194.0M610.2 190.5L565.1 195.9M610.2 190.5L582.6 195.7M610.2 190.5L650.4 209.4M610.2 190.5L602.9 212.9M610.2 190.5L614.5 213.5M610.2 190.5L635.3 213.8M610.2 190.5L580.8 218.1M610.2 190.5L635.6 227.8M621.3 194.0L565.1 195.9M621.3 194.0L582.6 195.7M621.3 194.0L650.4 209.4M621.3 194.0L624.8 210.8M621.3 194.0L596.1 211.9M621.3 194.0L602.9 212.9M621.3 194.0L614.5 213.5M621.3 194.0L635.3 213.8M621.3 194.0L580.8 218.1M621.3 194.0L610.7 218.9M621.3 194.0L666.9 221.9M621.3 194.0L635.6 227.8M655.0 194.8L650.4 209.4M655.0 194.8L666.9 221.9M655.0 194.8L668.0 231.0M565.1 195.9L582.6 195.7M565.1 195.9L525.9 205.1M565.1 195.9L551.9 208.6M565.1 195.9L565.4 206.7M565.1 195.9L624.8 210.8M565.1 195.9L596.1 211.9M565.1 195.9L635.3 213.8M565.1 195.9L548.1 217.8M565.1 195.9L580.8 218.1M565.1 195.9L590.5 219.4M565.1 195.9L610.7 218.9M565.1 195.9L555.4 231.6M565.1 195.9L563.2 229.1M565.1 195.9L569.9 231.6M565.1 195.9L534.3 234.3M565.1 195.9L582.1 257.2M565.1 195.9L546.2 261.3M582.6 195.7L565.4 206.7M582.6 195.7L624.8 210.8M582.6 195.7L596.1 211.9M582.6 195.7L602.9 212.9M582.6 195.7L635.3 213.8M582.6 195.7L580.8 218.1M582.6 195.7L610.7 218.9M582.6 195.7L591.0 240.8M582.6 195.7L582.1 257.2M525.9 205.1L500.0 201.9M525.9 205.1L551.9 208.6M525.9 205.1L548.1 217.8M525.9 205.1L555.4 231.6M525.9 205.1L504.9 235.1M525.9 205.1L534.3 234.3M525.9 205.1L491.5 167.4M525.9 205.1L495.0 187.4M500.0 201.9L551.9 208.6M500.0 201.9L503.8 221.3M500.0 201.9L555.4 231.6M500.0 201.9L426.4 154.1M500.0 201.9L495.0 187.4M500.0 201.9L443.4 272.4M551.9 208.6L565.4 206.7M551.9 208.6L596.1 211.9M551.9 208.6L548.1 217.8M551.9 208.6L555.4 231.6M551.9 208.6L563.2 229.1M551.9 208.6L569.9 231.6M551.9 208.6L504.9 235.1M551.9 208.6L551.9 241.3M551.9 208.6L591.0 240.8M565.4 206.7L596.1 211.9M565.4 206.7L602.9 212.9M565.4 206.7L548.1 217.8M565.4 206.7L580.8 218.1M565.4 206.7L610.7 218.9M565.4 206.7L503.8 221.3M565.4 206.7L555.4 231.6M565.4 206.7L563.2 229.1M565.4 206.7L534.3 234.3M565.4 206.7L591.0 240.8M565.4 206.7L571.6 255.9M650.4 209.4L624.8 210.8M650.4 209.4L614.5 213.5M650.4 209.4L635.3 213.8M650.4 209.4L610.7 218.9M650.4 209.4L666.9 221.9M650.4 209.4L635.6 227.8M650.4 209.4L668.0 231.0M624.8 210.8L602.9 212.9M624.8 210.8L614.5 213.5M624.8 210.8L635.3 213.8M624.8 210.8L580.8 218.1M624.8 210.8L610.7 218.9M624.8 210.8L635.6 227.8M624.8 210.8L569.9 231.6M624.8 210.8L591.0 240.8M596.1 211.9L602.9 212.9M596.1 211.9L614.5 213.5M596.1 211.9L580.8 218.1M596.1 211.9L590.5 219.4M596.1 211.9L610.7 218.9M596.1 211.9L555.4 231.6M596.1 211.9L551.9 241.3M596.1 211.9L591.0 240.8M596.1 211.9L582.1 257.2M602.9 212.9L614.5 213.5M602.9 212.9L548.1 217.8M602.9 212.9L580.8 218.1M602.9 212.9L590.5 219.4M602.9 212.9L610.7 218.9M602.9 212.9L635.6 227.8M602.9 212.9L534.3 234.3M602.9 212.9L591.0 240.8M602.9 212.9L582.1 257.2M614.5 213.5L635.3 213.8M614.5 213.5L580.8 218.1M614.5 213.5L610.7 218.9M614.5 213.5L635.6 227.8M614.5 213.5L569.9 231.6M614.5 213.5L591.0 240.8M614.5 213.5L625.3 241.6M635.3 213.8L590.5 219.4M635.3 213.8L610.7 218.9M635.3 213.8L666.9 221.9M635.3 213.8L668.0 231.0M548.1 217.8L580.8 218.1M548.1 217.8L610.7 218.9M548.1 217.8L503.8 221.3M548.1 217.8L555.4 231.6M548.1 217.8L563.2 229.1M548.1 217.8L569.9 231.6M548.1 217.8L534.3 234.3M548.1 217.8L519.7 240.2M548.1 217.8L551.9 241.3M548.1 217.8L551.9 271.5M580.8 218.1L590.5 219.4M580.8 218.1L610.7 218.9M580.8 218.1L555.4 231.6M580.8 218.1L563.2 229.1M580.8 218.1L569.9 231.6M580.8 218.1L534.3 234.3M580.8 218.1L591.0 240.8M580.8 218.1L571.6 255.9M590.5 219.4L610.7 218.9M590.5 219.4L555.4 231.6M590.5 219.4L563.2 229.1M590.5 219.4L569.9 231.6M590.5 219.4L551.9 241.3M590.5 219.4L591.0 240.8M590.5 219.4L608.3 243.7M590.5 219.4L582.1 257.2M610.7 218.9L635.6 227.8M610.7 218.9L668.0 231.0M610.7 218.9L563.2 229.1M610.7 218.9L569.9 231.6M610.7 218.9L591.0 240.8M610.7 218.9L608.3 243.7M610.7 218.9L625.3 241.6M610.7 218.9L616.1 268.6M503.8 221.3L555.4 231.6M503.8 221.3L504.9 235.1M503.8 221.3L519.7 240.2M503.8 221.3L444.8 172.2M503.8 221.3L495.0 187.4M503.8 221.3L482.9 240.8M666.9 221.9L668.0 231.0M635.6 227.8L668.0 231.0M635.6 227.8L625.3 241.6M555.4 231.6L563.2 229.1M555.4 231.6L569.9 231.6M555.4 231.6L504.9 235.1M555.4 231.6L534.3 234.3M555.4 231.6L551.9 241.3M555.4 231.6L591.0 240.8M563.2 229.1L569.9 231.6M563.2 229.1L534.3 234.3M563.2 229.1L551.9 241.3M563.2 229.1L608.3 243.7M563.2 229.1L571.6 255.9M569.9 231.6L551.9 241.3M569.9 231.6L591.0 240.8M569.9 231.6L571.6 255.9M569.9 231.6L582.1 257.2M504.9 235.1L534.3 234.3M504.9 235.1L519.7 240.2M504.9 235.1L495.0 187.4M504.9 235.1L482.9 240.8M534.3 234.3L551.9 241.3M534.3 234.3L516.2 261.8M519.7 240.2L516.2 261.8M519.7 240.2L444.8 172.2M519.7 240.2L482.9 240.8M551.9 241.3L516.2 261.8M551.9 241.3L546.2 261.3M551.9 241.3L551.9 271.5M591.0 240.8L571.6 255.9M591.0 240.8L582.1 257.2M591.0 240.8L616.1 268.6M608.3 243.7L625.3 241.6M608.3 243.7L616.1 268.6M571.6 255.9L551.9 271.5M582.1 257.2L551.9 271.5M546.2 261.3L551.9 271.5M551.9 271.5L544.0 350.4M350.8 129.6L360.8 143.9M350.8 129.6L384.0 144.4M350.8 129.6L374.0 159.3M350.8 129.6L426.4 154.1M360.8 143.9L340.5 149.8M360.8 143.9L384.0 144.4M360.8 143.9L374.0 159.3M360.8 143.9L390.5 157.4M360.8 143.9L407.8 144.1M360.8 143.9L426.4 154.1M340.5 149.8L384.0 144.4M340.5 149.8L374.0 159.3M342.7 172.8L374.0 159.3M342.7 172.8L390.5 157.4M384.0 144.4L374.0 159.3M384.0 144.4L390.5 157.4M384.0 144.4L407.8 144.1M384.0 144.4L426.4 154.1M384.0 144.4L438.8 159.8M384.0 144.4L491.5 167.4M374.0 159.3L390.5 157.4M374.0 159.3L426.4 154.1M374.0 159.3L444.8 172.2M374.0 159.3L491.5 167.4M380.8 178.2L390.5 157.4M380.8 178.2L407.8 144.1M380.8 178.2L426.4 154.1M380.8 178.2L444.8 172.2M390.5 157.4L407.8 144.1M390.5 157.4L426.4 154.1M390.5 157.4L438.8 159.8M390.5 157.4L444.8 172.2M407.8 144.1L416.4 135.5M407.8 144.1L426.4 154.1M407.8 144.1L444.8 172.2M407.8 144.1L452.3 142.8M416.4 135.5L426.4 154.1M416.4 135.5L438.8 159.8M416.4 135.5L444.8 172.2M416.4 135.5L452.3 142.8M416.4 135.5L415.3 189.0M416.4 135.5L464.8 127.1M416.4 135.5L493.7 125.0M426.4 154.1L438.8 159.8M426.4 154.1L444.8 172.2M426.4 154.1L491.5 167.4M438.8 159.8L444.8 172.2M438.8 159.8L452.3 142.8M438.8 159.8L491.5 167.4M438.8 159.8L495.0 187.4M444.8 172.2L452.3 142.8M444.8 172.2L415.3 189.0M444.8 172.2L491.5 167.4M444.8 172.2L495.0 187.4M452.3 142.8L464.8 127.1M452.3 142.8L493.7 125.0M452.3 142.8L491.5 167.4M415.3 189.0L491.5 167.4M464.8 127.1L493.7 125.0M464.8 127.1L491.5 167.4M493.7 125.0L491.5 167.4M493.7 125.0L495.0 187.4M491.5 167.4L495.0 187.4M491.5 167.4L482.9 240.8M495.0 187.4L482.9 240.8M482.9 240.8L443.4 272.4" fill="none" stroke="#4e4e4e" stroke-width="0.75"/>
<path d="M482.9 240.8L519.7 240.3" stroke="#4a4a5a" stroke-width="1.65"/>
<g stroke="#141414" stroke-width="0.90">
<circle cx="561.8" cy="3.8" r="3.40" fill="#66bd63"/>
<circle cx="582.9" cy="13.5" r="3.40" fill="#b0dd71"/>
<circle cx="577.5" cy="28.6" r="3.40" fill="#66bd63"/>
<circle cx="564.3" cy="37.8" r="3.40" fill="#99d369"/>
<circle cx="570.5" cy="41.1" r="3.40" fill="#b0dd71"/>
<circle cx="581.3" cy="40.5" r="3.40" fill="#a6d96a"/>
<circle cx="597.5" cy="37.0" r="3.40" fill="#c5e67e"/>
<circle cx="563.2" cy="47.8" r="3.40" fill="#99d369"/>
<circle cx="574.5" cy="54.0" r="3.40" fill="#a6d96a"/>
<circle cx="627.2" cy="55.4" r="3.40" fill="#af0a26"/>
<circle cx="560.5" cy="62.9" r="3.40" fill="#80c866"/>
<circle cx="592.1" cy="65.1" r="3.40" fill="#a6d96a"/>
<circle cx="552.9" cy="71.0" r="3.40" fill="#73c364"/>
<circle cx="573.2" cy="73.5" r="3.40" fill="#80c866"/>
<circle cx="580.2" cy="79.4" r="3.40" fill="#80c866"/>
<circle cx="612.6" cy="83.2" r="3.40" fill="#dcdcdc"/>
<circle cx="665.6" cy="89.4" r="3.40" fill="#dcdcdc"/>
<circle cx="537.3" cy="90.7" r="3.40" fill="#fee08b"/>
<circle cx="548.9" cy="99.1" r="3.40" fill="#299f54"/>
<circle cx="558.9" cy="98.8" r="3.40" fill="#73c364"/>
<circle cx="569.1" cy="105.1" r="3.40" fill="#1a9850"/>
<circle cx="575.9" cy="110.2" r="3.40" fill="#0a7b41"/>
<circle cx="606.7" cy="103.4" r="3.40" fill="#bae277"/>
<circle cx="608.3" cy="111.0" r="3.40" fill="#bae277"/>
<circle cx="638.0" cy="105.6" r="3.40" fill="#c5e67e"/>
<circle cx="530.8" cy="112.6" r="3.40" fill="#a6d96a"/>
<circle cx="545.9" cy="114.2" r="3.40" fill="#bae277"/>
<circle cx="555.6" cy="116.7" r="3.40" fill="#73c364"/>
<circle cx="565.9" cy="115.3" r="3.40" fill="#bae277"/>
<circle cx="621.5" cy="123.2" r="3.40" fill="#80c866"/>
<circle cx="544.0" cy="125.0" r="3.40" fill="#a6d96a"/>
<circle cx="557.5" cy="126.4" r="3.40" fill="#99d369"/>
<circle cx="566.2" cy="126.1" r="3.40" fill="#73c364"/>
<circle cx="572.1" cy="126.7" r="3.40" fill="#99d369"/>
<circle cx="521.9" cy="131.3" r="3.40" fill="#fef0a5"/>
<circle cx="605.1" cy="133.1" r="3.40" fill="#8cce67"/>
<circle cx="581.8" cy="136.9" r="3.40" fill="#a6d96a"/>
<circle cx="586.7" cy="137.7" r="3.40" fill="#a6d96a"/>
<circle cx="595.6" cy="139.4" r="3.40" fill="#99d369"/>
<circle cx="533.8" cy="137.7" r="3.40" fill="#a6d96a"/>
<circle cx="556.2" cy="139.9" r="3.40" fill="#c5e67e"/>
<circle cx="573.2" cy="142.1" r="3.40" fill="#80c866"/>
<circle cx="622.1" cy="139.9" r="3.40" fill="#73c364"/>
<circle cx="636.1" cy="142.6" r="3.40" fill="#af0a26"/>
<circle cx="676.4" cy="141.5" r="3.40" fill="#fdb869"/>
<circle cx="524.0" cy="142.3" r="3.40" fill="#fdb869"/>
<circle cx="602.9" cy="144.2" r="3.40" fill="#cfeb84"/>
<circle cx="566.4" cy="146.6" r="3.40" fill="#73c364"/>
<circle cx="551.3" cy="148.5" r="3.40" fill="#c5e67e"/>
<circle cx="644.8" cy="149.4" r="3.40" fill="#ffffbf"/>
<circle cx="614.2" cy="152.9" r="3.40" fill="#ffffbf"/>
<circle cx="565.1" cy="155.3" r="3.40" fill="#99d369"/>
<circle cx="576.7" cy="156.6" r="3.40" fill="#af0a26"/>
<circle cx="587.0" cy="159.3" r="3.40" fill="#40aa5a"/>
<circle cx="680.7" cy="158.8" r="3.40" fill="#f46d43"/>
<circle cx="547.3" cy="163.7" r="3.40" fill="#299f54"/>
<circle cx="562.7" cy="163.9" r="3.40" fill="#80c866"/>
<circle cx="570.8" cy="162.0" r="3.40" fill="#73c364"/>
<circle cx="626.4" cy="162.6" r="3.40" fill="#f46d43"/>
<circle cx="636.7" cy="163.4" r="3.40" fill="#fba15b"/>
<circle cx="504.6" cy="169.9" r="3.40" fill="#fdb869"/>
<circle cx="520.5" cy="170.4" r="3.40" fill="#af0a26"/>
<circle cx="533.8" cy="169.6" r="3.40" fill="#cfeb84"/>
<circle cx="595.1" cy="169.6" r="3.40" fill="#fed683"/>
<circle cx="618.0" cy="170.7" r="3.40" fill="#299f54"/>
<circle cx="582.4" cy="174.5" r="3.40" fill="#f7fcb5"/>
<circle cx="607.5" cy="173.9" r="3.40" fill="#fdb869"/>
<circle cx="594.3" cy="179.3" r="3.40" fill="#c5e67e"/>
<circle cx="652.6" cy="178.0" r="3.40" fill="#af0a26"/>
<circle cx="573.7" cy="182.6" r="3.40" fill="#ffffbf"/>
<circle cx="638.5" cy="183.6" r="3.40" fill="#af0a26"/>
<circle cx="666.9" cy="184.5" r="3.40" fill="#f46d43"/>
<circle cx="502.2" cy="182.4" r="3.40" fill="#fee08b"/>
<circle cx="610.2" cy="183.5" r="3.40" fill="#cfeb84"/>
<circle cx="622.6" cy="184.6" r="3.40" fill="#cfeb84"/>
<circle cx="675.8" cy="191.6" r="3.40" fill="#fba15b"/>
<circle cx="543.8" cy="186.7" r="3.40" fill="#73c364"/>
<circle cx="556.2" cy="187.8" r="3.40" fill="#c5e67e"/>
<circle cx="562.4" cy="187.0" r="3.40" fill="#a6d96a"/>
<circle cx="594.8" cy="187.8" r="3.40" fill="#48ae5b"/>
<circle cx="610.2" cy="190.5" r="3.40" fill="#fa9a58"/>
<circle cx="621.3" cy="194.0" r="3.40" fill="#cfeb84"/>
<circle cx="655.0" cy="194.8" r="3.40" fill="#dcdcdc"/>
<circle cx="565.1" cy="195.9" r="3.40" fill="#80c866"/>
<circle cx="582.6" cy="195.7" r="3.40" fill="#fff9b5"/>
<circle cx="525.9" cy="205.1" r="3.40" fill="#af0a26"/>
<circle cx="500.0" cy="201.9" r="3.40" fill="#af0a26"/>
<circle cx="551.9" cy="208.6" r="3.40" fill="#73c364"/>
<circle cx="565.4" cy="206.7" r="3.40" fill="#a6d96a"/>
<circle cx="650.4" cy="209.4" r="3.40" fill="#c5e67e"/>
<circle cx="624.8" cy="210.8" r="3.40" fill="#66bd63"/>
<circle cx="596.1" cy="211.9" r="3.40" fill="#80c866"/>
<circle cx="602.9" cy="212.9" r="3.40" fill="#c5e67e"/>
<circle cx="614.5" cy="213.5" r="3.40" fill="#ffffbf"/>
<circle cx="635.3" cy="213.8" r="3.40" fill="#a6d96a"/>
<circle cx="572.1" cy="215.6" r="3.40" fill="#dcdcdc"/>
<circle cx="548.1" cy="217.8" r="3.40" fill="#e8f5a0"/>
<circle cx="580.8" cy="218.1" r="3.40" fill="#ffffbf"/>
<circle cx="590.5" cy="219.4" r="3.40" fill="#cfeb84"/>
<circle cx="610.7" cy="218.9" r="3.40" fill="#fecc7a"/>
<circle cx="503.8" cy="221.3" r="3.40" fill="#ffffbf"/>
<circle cx="666.9" cy="221.9" r="3.40" fill="#af0a26"/>
<circle cx="635.6" cy="227.8" r="3.40" fill="#af0a26"/>
<circle cx="668.0" cy="231.0" r="3.40" fill="#dcdcdc"/>
<circle cx="555.4" cy="231.6" r="3.40" fill="#e8f5a0"/>
<circle cx="563.2" cy="229.1" r="3.40" fill="#ffffbf"/>
<circle cx="569.9" cy="231.6" r="3.40" fill="#38a758"/>
<circle cx="504.9" cy="235.1" r="3.40" fill="#af0a26"/>
<circle cx="534.3" cy="234.3" r="3.40" fill="#48ae5b"/>
<circle cx="519.7" cy="240.2" r="3.40" fill="#af0a26"/>
<circle cx="551.9" cy="241.3" r="3.40" fill="#ffffbf"/>
<circle cx="591.0" cy="240.8" r="3.40" fill="#0d8044"/>
<circle cx="608.3" cy="243.7" r="3.40" fill="#99d369"/>
<circle cx="625.3" cy="241.6" r="3.40" fill="#dcdcdc"/>
<circle cx="571.6" cy="255.9" r="3.40" fill="#73c364"/>
<circle cx="582.1" cy="257.2" r="3.40" fill="#c5e67e"/>
<circle cx="516.2" cy="261.8" r="3.40" fill="#dcdcdc"/>
<circle cx="546.2" cy="261.3" r="3.40" fill="#73c364"/>
<circle cx="551.9" cy="271.5" r="3.40" fill="#bae277"/>
<circle cx="616.1" cy="268.6" r="3.40" fill="#08763f"/>
<circle cx="544.0" cy="350.4" r="3.40" fill="#dcdcdc"/>
<circle cx="350.8" cy="129.6" r="3.40" fill="#dcdcdc"/>
<circle cx="360.8" cy="143.9" r="3.40" fill="#dcdcdc"/>
<circle cx="340.5" cy="149.8" r="3.40" fill="#dcdcdc"/>
<circle cx="342.7" cy="172.8" r="3.40" fill="#dcdcdc"/>
<circle cx="384.0" cy="144.4" r="3.40" fill="#08763f"/>
<circle cx="374.0" cy="159.3" r="3.40" fill="#08763f"/>
<circle cx="380.8" cy="178.2" r="3.40" fill="#08763f"/>
<circle cx="390.5" cy="157.4" r="3.40" fill="#73c364"/>
<circle cx="407.8" cy="144.1" r="3.40" fill="#38a758"/>
<circle cx="416.4" cy="135.5" r="3.40" fill="#73c364"/>
<circle cx="426.4" cy="154.1" r="3.40" fill="#48ae5b"/>
<circle cx="438.8" cy="159.8" r="3.40" fill="#08763f"/>
<circle cx="444.8" cy="172.2" r="3.40" fill="#38a758"/>
<circle cx="452.3" cy="142.8" r="3.40" fill="#cfeb84"/>
<circle cx="415.3" cy="189.0" r="3.40" fill="#dcdcdc"/>
<circle cx="464.8" cy="127.1" r="3.40" fill="#af0a26"/>
<circle cx="493.7" cy="125.0" r="3.40" fill="#cfeb84"/>
<circle cx="491.5" cy="167.4" r="3.40" fill="#af0a26"/>
<circle cx="495.0" cy="187.4" r="3.40" fill="#af0a26"/>
<circle cx="482.9" cy="240.8" r="3.40" fill="#af0a26"/>
<circle cx="443.4" cy="272.4" r="3.40" fill="#dcdcdc"/>
</g></g>
<g>
<clipPath id="c2"><path clip-rule="evenodd" d="M157.8 457.5L161.9 463.3L164.8 460.3L169.7 467.0L167.9 475.1L167.0 484.3L165.7 488.6L166.0 491.1L170.0 489.4L172.2 486.8L172.7 486.1L183.2 486.7L179.5 490.6L177.7 491.8L179.5 492.9L178.5 495.2L177.9 496.6L182.5 497.3L185.4 499.3L196.0 497.0L197.4 502.0L196.7 509.8L195.8 511.4L188.8 512.3L186.8 514.1L187.3 516.5L192.8 520.1L187.2 519.9L182.3 517.8L182.4 521.8L177.2 520.4L174.7 520.1L175.9 533.5L173.3 526.4L167.5 525.5L164.5 530.3L163.0 526.2L161.0 529.9L157.8 525.3L156.2 527.0L154.5 534.4L152.6 531.4L153.3 526.5L148.6 523.7L143.7 525.4L131.5 525.6L132.5 513.8L134.3 504.5L125.4 492.9L135.1 492.3L147.4 488.7L149.6 482.5L154.8 476.8L156.5 474.2L157.3 470.2L157.7 466.7ZM143.6 502.5L145.8 499.6L146.8 501.9ZM140.7 522.9L146.3 520.5L145.3 523.2Z"/></clipPath>
<g fill="rgb(60,62,122)" stroke="none">
<path fill-rule="evenodd" fill-opacity="0.42" d="M157.8 457.5L161.9 463.3L164.8 460.3L169.7 467.0L167.9 475.1L167.0 484.3L165.7 488.6L166.0 491.1L170.0 489.4L172.2 486.8L172.7 486.1L183.2 486.7L179.5 490.6L177.7 491.8L179.5 492.9L178.5 495.2L177.9 496.6L182.5 497.3L185.4 499.3L196.0 497.0L197.4 502.0L196.7 509.8L195.8 511.4L188.8 512.3L186.8 514.1L187.3 516.5L192.8 520.1L187.2 519.9L182.3 517.8L182.4 521.8L177.2 520.4L174.7 520.1L175.9 533.5L173.3 526.4L167.5 525.5L164.5 530.3L163.0 526.2L161.0 529.9L157.8 525.3L156.2 527.0L154.5 534.4L152.6 531.4L153.3 526.5L148.6 523.7L143.7 525.4L131.5 525.6L132.5 513.8L134.3 504.5L125.4 492.9L135.1 492.3L147.4 488.7L149.6 482.5L154.8 476.8L156.5 474.2L157.3 470.2L157.7 466.7ZM143.6 502.5L145.8 499.6L146.8 501.9ZM140.7 522.9L146.3 520.5L145.3 523.2Z"/>
<path fill-opacity="0.26" d="M109.3 495.3L125.4 492.9L135.1 492.3L134.3 504.5Z"/>
<path fill-opacity="0.32" d="M109.3 495.3L125.4 492.9L121.3 497.4L112.6 500.7Z"/>
<path fill-opacity="0.34" d="M109.3 495.3L112.6 500.7L116.8 502.3L118.8 505.9L121.3 497.4Z"/>
<path fill-opacity="0.21" d="M109.3 495.3L118.8 505.9L121.3 497.4Z"/>
<path fill-opacity="0.36" d="M98.5 497.9L112.6 500.7L116.8 502.3L118.8 505.9L100.7 501.6Z"/>
<path fill-opacity="0.34" d="M98.5 497.9L100.7 501.6L97.4 507.6Z"/>
<path fill-opacity="0.34" d="M106.4 497.8L109.3 495.3L112.6 500.7Z"/>
<path fill-opacity="0.21" d="M121.3 497.4L125.4 492.9L134.3 504.5Z"/>
<path fill-opacity="0.31" d="M125.4 492.9L135.1 492.3L147.4 488.7L145.2 497.3L134.3 504.5Z"/>
<path fill-opacity="0.38" d="M154.8 476.8L167.9 475.1L167.0 484.3L165.7 488.6L166.0 491.1L170.0 489.4L172.2 486.8L172.7 486.1L177.7 491.8L177.9 496.6L182.7 503.3L183.3 509.1L182.3 517.8L174.1 519.3L167.5 525.5L154.5 525.7L148.6 523.7L145.8 515.3L144.0 505.3L145.2 497.3L147.4 488.7L149.6 482.5Z"/>
<path fill-opacity="0.34" d="M157.3 474.5L163.9 479.2L165.8 485.1L165.3 488.6L165.8 491.6L172.5 493.7L176.5 500.0L177.5 509.5L174.5 517.3L167.2 521.3L158.8 522.7L153.2 518.7L149.2 511.5L148.2 503.8L148.5 496.0L152.2 489.1L153.5 484.8Z"/>
<path fill-opacity="0.42" d="M157.8 457.5L161.9 463.3L164.8 460.3L169.7 467.0L167.9 475.1L167.0 484.3L162.5 488.0L152.5 489.2L149.6 482.5L154.8 476.8L156.5 474.2L157.3 470.2L157.7 466.7Z"/>
<path fill-opacity="0.30" d="M157.8 457.5L163.0 464.6L164.8 460.3L168.2 467.9L167.2 475.4L163.9 479.2L155.8 477.1L158.0 467.9Z"/>
<path fill-opacity="0.36" d="M182.5 497.3L185.4 499.3L197.4 502.0L192.8 509.4L188.8 512.3L183.3 509.1L182.7 503.3Z"/>
<path fill-opacity="0.27" d="M182.7 503.3L196.0 497.0L197.4 502.0L188.0 507.5Z"/>
<path fill-opacity="0.28" d="M134.3 504.5L144.0 505.3L145.8 515.3L143.7 525.4L138.8 523.9L137.2 514.4Z"/>
<path fill-opacity="0.28" d="M169.7 467.0L179.6 472.3L169.9 469.5Z"/>
<path fill-opacity="0.42" d="M172.7 486.1L183.2 486.7L177.7 491.8L173.3 488.3Z"/>
<g clip-path="url(#c2)">
<path fill-opacity="0.09" d="M157.8 457.5L158.2 470.1L158.6 467.3Z"/>
<path fill-opacity="0.09" d="M157.8 457.5L169.7 467.0L164.8 460.3Z"/>
<path fill-opacity="0.09" d="M157.8 457.5L163.0 464.6L157.3 474.5Z"/>
<path fill-opacity="0.09" d="M164.8 460.3L158.6 467.3L163.0 464.6Z"/>
<path fill-opacity="0.09" d="M164.8 460.3L167.9 475.1L169.7 467.0Z"/>
<path fill-opacity="0.09" d="M164.8 460.3L163.0 464.6L157.8 457.5Z"/>
<path fill-opacity="0.09" d="M163.0 464.6L162.0 471.9L157.3 474.5Z"/>
<path fill-opacity="0.09" d="M163.0 464.6L160.7 468.2L158.6 467.3Z"/>
<path fill-opacity="0.09" d="M163.0 464.6L160.7 468.2L162.0 471.9Z"/>
<path fill-opacity="0.09" d="M158.6 467.3L160.7 468.2L158.2 470.1Z"/>
<path fill-opacity="0.09" d="M158.6 467.3L164.3 468.0L160.7 468.2Z"/>
<path fill-opacity="0.09" d="M158.6 467.3L164.8 460.3L160.7 468.2Z"/>
<path fill-opacity="0.09" d="M160.7 468.2L162.0 471.9L158.6 467.3Z"/>
<path fill-opacity="0.09" d="M160.7 468.2L167.9 475.1L164.3 468.0Z"/>
<path fill-opacity="0.09" d="M160.7 468.2L163.0 464.6L169.7 467.0Z"/>
<path fill-opacity="0.09" d="M164.3 468.0L162.0 471.9L163.0 464.6Z"/>
<path fill-opacity="0.09" d="M164.3 468.0L158.6 467.3L162.0 471.9Z"/>
<path fill-opacity="0.09" d="M164.3 468.0L163.0 464.6L169.7 467.0Z"/>
<path fill-opacity="0.09" d="M169.7 467.0L167.9 475.1L163.0 464.6Z"/>
<path fill-opacity="0.09" d="M169.7 467.0L158.2 470.1L163.0 464.6Z"/>
<path fill-opacity="0.09" d="M169.7 467.0L164.3 468.0L164.8 460.3Z"/>
<path fill-opacity="0.09" d="M158.2 470.1L161.6 477.5L154.8 476.8Z"/>
<path fill-opacity="0.09" d="M158.2 470.1L163.0 464.6L161.6 477.5Z"/>
<path fill-opacity="0.09" d="M158.2 470.1L161.6 477.5L163.0 464.6Z"/>
<path fill-opacity="0.09" d="M162.0 471.9L158.6 467.3L157.3 474.5Z"/>
<path fill-opacity="0.09" d="M162.0 471.9L164.3 468.0L157.3 474.5Z"/>
<path fill-opacity="0.09" d="M162.0 471.9L160.7 468.2L158.6 467.3Z"/>
<path fill-opacity="0.09" d="M179.6 472.3L161.6 477.5L163.0 464.6Z"/>
<path fill-opacity="0.09" d="M179.6 472.3L162.0 471.9L163.0 464.6Z"/>
<path fill-opacity="0.09" d="M179.6 472.3L172.7 486.1L167.9 475.1Z"/>
<path fill-opacity="0.09" d="M157.3 474.5L158.2 470.1L163.9 479.2Z"/>
<path fill-opacity="0.09" d="M157.3 474.5L161.6 477.5L158.6 467.3Z"/>
<path fill-opacity="0.09" d="M157.3 474.5L161.6 477.5L164.3 468.0Z"/>
<path fill-opacity="0.09" d="M167.9 475.1L160.7 468.2L163.9 479.2Z"/>
<path fill-opacity="0.09" d="M167.9 475.1L161.6 477.5L157.3 474.5Z"/>
<path fill-opacity="0.09" d="M167.9 475.1L157.3 474.5L179.6 472.3Z"/>
<path fill-opacity="0.09" d="M154.8 476.8L163.9 479.2L160.7 468.2Z"/>
<path fill-opacity="0.09" d="M154.8 476.8L161.6 477.5L160.7 468.2Z"/>
<path fill-opacity="0.09" d="M154.8 476.8L162.0 471.9L163.9 479.2Z"/>
<path fill-opacity="0.09" d="M161.6 477.5L157.3 474.5L163.9 479.2Z"/>
<path fill-opacity="0.09" d="M161.6 477.5L167.9 475.1L160.2 486.6Z"/>
<path fill-opacity="0.09" d="M161.6 477.5L167.9 475.1L156.8 484.8Z"/>
<path fill-opacity="0.09" d="M163.9 479.2L154.8 476.8L161.6 477.5Z"/>
<path fill-opacity="0.09" d="M163.9 479.2L162.5 488.0L154.8 476.8Z"/>
<path fill-opacity="0.09" d="M163.9 479.2L157.3 474.5L167.9 475.1Z"/>
<path fill-opacity="0.09" d="M149.6 482.5L151.8 492.3L153.5 484.9Z"/>
<path fill-opacity="0.09" d="M149.6 482.5L152.5 489.2L154.8 476.8Z"/>
<path fill-opacity="0.09" d="M149.6 482.5L156.8 484.8L152.5 489.2Z"/>
<path fill-opacity="0.09" d="M153.5 484.9L159.1 489.5L154.8 476.8Z"/>
<path fill-opacity="0.09" d="M153.5 484.9L151.8 492.3L149.6 482.5Z"/>
<path fill-opacity="0.09" d="M153.5 484.9L152.5 489.2L151.8 492.3Z"/>
<path fill-opacity="0.09" d="M156.8 484.8L149.6 482.5L152.5 489.2Z"/>
<path fill-opacity="0.09" d="M156.8 484.8L159.1 489.5L149.6 482.5Z"/>
<path fill-opacity="0.09" d="M156.8 484.8L159.2 492.6L152.5 489.2Z"/>
<path fill-opacity="0.09" d="M160.2 486.6L161.2 492.8L159.2 492.6Z"/>
<path fill-opacity="0.09" d="M160.2 486.6L161.2 492.8L155.7 489.9Z"/>
<path fill-opacity="0.09" d="M160.2 486.6L156.8 484.8L159.1 489.5Z"/>
<path fill-opacity="0.09" d="M162.5 488.0L161.2 492.8L153.5 484.9Z"/>
<path fill-opacity="0.09" d="M162.5 488.0L159.2 492.6L153.5 484.9Z"/>
<path fill-opacity="0.09" d="M162.5 488.0L160.2 486.6L164.4 495.7Z"/>
<path fill-opacity="0.09" d="M172.7 486.1L172.2 494.6L162.5 488.0Z"/>
<path fill-opacity="0.09" d="M172.7 486.1L162.5 488.0L173.3 488.3Z"/>
<path fill-opacity="0.09" d="M172.7 486.1L172.2 494.6L160.2 486.6Z"/>
<path fill-opacity="0.09" d="M173.3 488.3L166.1 496.0L177.9 496.6Z"/>
<path fill-opacity="0.09" d="M173.3 488.3L177.9 496.6L172.2 494.6Z"/>
<path fill-opacity="0.09" d="M173.3 488.3L166.1 496.0L172.7 486.1Z"/>
<path fill-opacity="0.09" d="M183.2 486.7L185.4 499.3L171.5 497.8Z"/>
<path fill-opacity="0.09" d="M183.2 486.7L185.4 499.3L173.3 488.3Z"/>
<path fill-opacity="0.09" d="M147.4 488.7L156.3 492.7L148.4 496.0Z"/>
<path fill-opacity="0.09" d="M147.4 488.7L152.5 489.2L153.5 484.9Z"/>
<path fill-opacity="0.09" d="M147.4 488.7L151.8 492.3L153.5 484.9Z"/>
<path fill-opacity="0.09" d="M152.5 489.2L159.2 492.6L147.4 488.7Z"/>
<path fill-opacity="0.09" d="M152.5 489.2L151.8 492.3L159.1 489.5Z"/>
<path fill-opacity="0.09" d="M152.5 489.2L155.7 489.9L151.8 492.3Z"/>
<path fill-opacity="0.09" d="M155.7 489.9L156.3 492.7L159.1 489.5Z"/>
<path fill-opacity="0.09" d="M155.7 489.9L161.2 492.8L152.5 489.2Z"/>
<path fill-opacity="0.09" d="M155.7 489.9L160.2 486.6L156.3 492.7Z"/>
<path fill-opacity="0.09" d="M159.1 489.5L160.2 486.6L162.5 488.0Z"/>
<path fill-opacity="0.09" d="M159.1 489.5L156.8 484.8L159.2 492.6Z"/>
<path fill-opacity="0.09" d="M159.1 489.5L161.2 492.8L156.3 492.7Z"/>
<path fill-opacity="0.09" d="M177.7 491.8L172.7 486.1L169.0 496.4Z"/>
<path fill-opacity="0.09" d="M177.7 491.8L173.3 488.3L175.2 500.3Z"/>
<path fill-opacity="0.09" d="M177.7 491.8L169.0 496.4L175.2 500.3Z"/>
<path fill-opacity="0.09" d="M151.8 492.3L144.5 494.1L159.1 489.5Z"/>
<path fill-opacity="0.09" d="M151.8 492.3L147.4 488.7L156.3 492.7Z"/>
<path fill-opacity="0.09" d="M151.8 492.3L155.7 489.9L156.3 492.7Z"/>
<path fill-opacity="0.09" d="M156.3 492.7L161.2 492.8L159.1 489.5Z"/>
<path fill-opacity="0.09" d="M156.3 492.7L159.3 498.5L151.8 492.3Z"/>
<path fill-opacity="0.09" d="M156.3 492.7L161.6 497.2L159.2 492.6Z"/>
<path fill-opacity="0.09" d="M159.2 492.6L155.7 489.9L161.6 497.2Z"/>
<path fill-opacity="0.09" d="M159.2 492.6L159.1 489.5L161.2 492.8Z"/>
<path fill-opacity="0.09" d="M159.2 492.6L159.3 498.5L155.9 496.6Z"/>
<path fill-opacity="0.09" d="M161.2 492.8L159.1 489.5L161.6 497.2Z"/>
<path fill-opacity="0.09" d="M161.2 492.8L155.9 496.6L162.5 488.0Z"/>
<path fill-opacity="0.09" d="M161.2 492.8L164.4 495.7L162.5 488.0Z"/>
<path fill-opacity="0.09" d="M144.5 494.1L151.8 492.3L152.5 489.2Z"/>
<path fill-opacity="0.09" d="M144.5 494.1L151.8 492.3L156.3 492.7Z"/>
<path fill-opacity="0.09" d="M144.5 494.1L151.8 492.3L154.3 499.1Z"/>
<path fill-opacity="0.09" d="M172.2 494.6L166.1 496.0L172.7 486.1Z"/>
<path fill-opacity="0.09" d="M172.2 494.6L172.7 486.1L164.4 495.7Z"/>
<path fill-opacity="0.09" d="M172.2 494.6L175.2 500.3L171.5 497.8Z"/>
<path fill-opacity="0.09" d="M164.4 495.7L166.1 496.0L159.3 498.5Z"/>
<path fill-opacity="0.09" d="M164.4 495.7L171.5 497.8L159.3 498.5Z"/>
<path fill-opacity="0.09" d="M164.4 495.7L161.2 492.8L159.2 492.6Z"/>
<path fill-opacity="0.09" d="M166.1 496.0L166.2 502.2L172.2 494.6Z"/>
<path fill-opacity="0.09" d="M166.1 496.0L172.2 494.6L169.0 496.4Z"/>
<path fill-opacity="0.09" d="M166.1 496.0L171.5 497.8L169.0 496.4Z"/>
<path fill-opacity="0.09" d="M169.0 496.4L164.4 495.7L162.7 501.4Z"/>
<path fill-opacity="0.09" d="M169.0 496.4L164.4 495.7L161.6 497.2Z"/>
<path fill-opacity="0.09" d="M169.0 496.4L164.4 495.7L162.7 501.4Z"/>
<path fill-opacity="0.09" d="M148.4 496.0L145.2 497.3L152.5 489.2Z"/>
<path fill-opacity="0.09" d="M148.4 496.0L147.4 488.7L144.5 494.1Z"/>
<path fill-opacity="0.09" d="M148.4 496.0L144.5 494.1L156.3 492.7Z"/>
<path fill-opacity="0.09" d="M155.9 496.6L159.2 492.6L161.2 492.8Z"/>
<path fill-opacity="0.09" d="M155.9 496.6L156.3 492.7L151.8 492.3Z"/>
<path fill-opacity="0.09" d="M155.9 496.6L158.9 501.0L159.3 498.5Z"/>
<path fill-opacity="0.09" d="M161.6 497.2L155.9 496.6L159.2 492.6Z"/>
<path fill-opacity="0.09" d="M161.6 497.2L155.9 496.6L164.4 495.7Z"/>
<path fill-opacity="0.09" d="M161.6 497.2L166.1 496.0L160.8 502.9Z"/>
<path fill-opacity="0.09" d="M177.9 496.6L177.7 491.8L182.5 497.3Z"/>
<path fill-opacity="0.09" d="M177.9 496.6L177.7 491.8L169.0 496.4Z"/>
<path fill-opacity="0.09" d="M177.9 496.6L177.7 491.8L169.0 496.4Z"/>
<path fill-opacity="0.09" d="M182.5 497.3L177.7 491.8L182.7 503.3Z"/>
<path fill-opacity="0.09" d="M182.5 497.3L176.5 505.4L182.7 503.3Z"/>
<path fill-opacity="0.09" d="M182.5 497.3L185.4 499.3L176.5 505.4Z"/>
<path fill-opacity="0.09" d="M196.0 497.0L185.4 499.3L182.5 497.3Z"/>
<path fill-opacity="0.09" d="M196.0 497.0L195.8 511.4L188.0 507.5Z"/>
<path fill-opacity="0.09" d="M196.0 497.0L188.0 507.5L197.4 502.0Z"/>
<path fill-opacity="0.09" d="M145.2 497.3L144.0 505.3L154.3 499.1Z"/>
<path fill-opacity="0.09" d="M145.2 497.3L144.0 505.3L154.3 499.1Z"/>
<path fill-opacity="0.09" d="M145.2 497.3L148.4 505.1L144.0 505.3Z"/>
<path fill-opacity="0.09" d="M171.5 497.8L177.7 491.8L164.4 495.7Z"/>
<path fill-opacity="0.09" d="M171.5 497.8L175.2 500.3L169.0 496.4Z"/>
<path fill-opacity="0.09" d="M171.5 497.8L166.2 502.2L168.9 505.1Z"/>
<path fill-opacity="0.09" d="M159.3 498.5L159.2 492.6L158.1 503.5Z"/>
<path fill-opacity="0.09" d="M159.3 498.5L159.2 492.6L155.9 496.6Z"/>
<path fill-opacity="0.09" d="M159.3 498.5L159.2 492.6L155.9 496.6Z"/>
<path fill-opacity="0.09" d="M154.3 499.1L160.8 502.9L155.9 496.6Z"/>
<path fill-opacity="0.09" d="M154.3 499.1L156.3 492.7L158.9 501.0Z"/>
<path fill-opacity="0.09" d="M154.3 499.1L155.9 496.6L158.9 501.0Z"/>
<path fill-opacity="0.09" d="M185.4 499.3L179.3 503.1L183.3 509.1Z"/>
<path fill-opacity="0.09" d="M185.4 499.3L176.5 505.4L182.7 503.3Z"/>
<path fill-opacity="0.09" d="M185.4 499.3L183.3 509.1L182.5 497.3Z"/>
<path fill-opacity="0.09" d="M175.2 500.3L173.0 506.3L182.5 497.3Z"/>
<path fill-opacity="0.09" d="M175.2 500.3L177.9 496.6L171.5 497.8Z"/>
<path fill-opacity="0.09" d="M175.2 500.3L176.5 505.4L182.7 503.3Z"/>
<path fill-opacity="0.09" d="M158.9 501.0L154.3 499.1L159.3 498.5Z"/>
<path fill-opacity="0.09" d="M158.9 501.0L160.8 502.9L152.9 503.4Z"/>
<path fill-opacity="0.09" d="M158.9 501.0L166.2 502.2L159.3 498.5Z"/>
<path fill-opacity="0.09" d="M162.7 501.4L166.2 502.2L164.4 495.7Z"/>
<path fill-opacity="0.09" d="M162.7 501.4L158.1 503.5L159.3 498.5Z"/>
<path fill-opacity="0.09" d="M162.7 501.4L161.6 497.2L164.4 495.7Z"/>
<path fill-opacity="0.09" d="M166.2 502.2L161.6 497.2L171.5 497.8Z"/>
<path fill-opacity="0.09" d="M166.2 502.2L161.6 497.2L160.8 502.9Z"/>
<path fill-opacity="0.09" d="M166.2 502.2L161.6 497.2L168.6 507.9Z"/>
<path fill-opacity="0.09" d="M197.4 502.0L179.3 503.1L188.0 507.5Z"/>
<path fill-opacity="0.09" d="M197.4 502.0L183.3 509.1L195.8 511.4Z"/>
<path fill-opacity="0.09" d="M197.4 502.0L182.5 497.3L192.8 509.4Z"/>
<path fill-opacity="0.09" d="M152.9 503.4L155.9 496.6L159.3 498.5Z"/>
<path fill-opacity="0.09" d="M152.9 503.4L160.8 502.9L158.1 503.5Z"/>
<path fill-opacity="0.09" d="M152.9 503.4L158.9 501.0L155.9 496.6Z"/>
<path fill-opacity="0.09" d="M158.1 503.5L158.9 501.0L162.7 501.4Z"/>
<path fill-opacity="0.09" d="M158.1 503.5L159.3 498.5L158.9 501.0Z"/>
<path fill-opacity="0.09" d="M158.1 503.5L152.9 503.4L154.3 499.1Z"/>
<path fill-opacity="0.09" d="M160.8 502.9L158.9 501.0L166.2 502.2Z"/>
<path fill-opacity="0.09" d="M160.8 502.9L158.9 501.0L161.7 508.8Z"/>
<path fill-opacity="0.09" d="M160.8 502.9L159.3 498.5L158.1 503.5Z"/>
<path fill-opacity="0.09" d="M179.3 503.1L185.4 499.3L177.9 496.6Z"/>
<path fill-opacity="0.09" d="M179.3 503.1L175.2 500.3L173.0 506.3Z"/>
<path fill-opacity="0.09" d="M179.3 503.1L175.2 500.3L185.4 499.3Z"/>
<path fill-opacity="0.09" d="M182.7 503.3L177.9 496.6L175.2 500.3Z"/>
<path fill-opacity="0.09" d="M182.7 503.3L188.0 507.5L175.2 500.3Z"/>
<path fill-opacity="0.09" d="M182.7 503.3L183.3 509.1L188.0 507.5Z"/>
<path fill-opacity="0.09" d="M138.7 505.2L137.2 514.4L134.3 504.5Z"/>
<path fill-opacity="0.09" d="M138.7 505.2L137.2 514.4L137.9 508.8Z"/>
<path fill-opacity="0.09" d="M138.7 505.2L137.2 514.4L145.8 515.3Z"/>
<path fill-opacity="0.09" d="M144.0 505.3L135.5 510.2L148.4 505.1Z"/>
<path fill-opacity="0.09" d="M144.0 505.3L134.3 504.5L151.7 510.0Z"/>
<path fill-opacity="0.09" d="M144.0 505.3L145.8 515.3L145.2 497.3Z"/>
<path fill-opacity="0.09" d="M148.4 505.1L148.4 496.0L152.9 503.4Z"/>
<path fill-opacity="0.09" d="M148.4 505.1L152.9 503.4L154.3 499.1Z"/>
<path fill-opacity="0.09" d="M148.4 505.1L152.9 503.4L148.4 496.0Z"/>
<path fill-opacity="0.09" d="M168.9 505.1L168.8 510.3L161.7 508.8Z"/>
<path fill-opacity="0.09" d="M168.9 505.1L168.6 507.9L173.0 506.3Z"/>
<path fill-opacity="0.09" d="M168.9 505.1L168.8 510.3L173.0 506.3Z"/>
<path fill-opacity="0.09" d="M176.5 505.4L173.9 511.1L175.2 500.3Z"/>
<path fill-opacity="0.09" d="M176.5 505.4L173.9 511.1L178.0 509.4Z"/>
<path fill-opacity="0.09" d="M176.5 505.4L177.6 512.1L168.9 505.1Z"/>
<path fill-opacity="0.09" d="M164.6 506.5L168.8 510.3L168.6 507.9Z"/>
<path fill-opacity="0.09" d="M164.6 506.5L160.8 502.9L161.7 508.8Z"/>
<path fill-opacity="0.09" d="M164.6 506.5L168.9 505.1L162.7 501.4Z"/>
<path fill-opacity="0.09" d="M173.0 506.3L176.5 505.4L173.9 511.1Z"/>
<path fill-opacity="0.09" d="M173.0 506.3L173.9 509.1L176.5 505.4Z"/>
<path fill-opacity="0.09" d="M173.0 506.3L173.9 511.1L176.5 505.4Z"/>
<path fill-opacity="0.09" d="M168.6 507.9L173.0 506.3L168.9 505.1Z"/>
<path fill-opacity="0.09" d="M168.6 507.9L173.9 509.1L168.9 505.1Z"/>
<path fill-opacity="0.09" d="M168.6 507.9L161.7 508.8L168.8 510.3Z"/>
<path fill-opacity="0.09" d="M188.0 507.5L179.3 503.1L178.0 509.4Z"/>
<path fill-opacity="0.09" d="M188.0 507.5L185.4 499.3L182.7 503.3Z"/>
<path fill-opacity="0.09" d="M188.0 507.5L183.3 509.1L195.8 511.4Z"/>
<path fill-opacity="0.09" d="M161.7 508.8L158.0 510.1L164.7 512.6Z"/>
<path fill-opacity="0.09" d="M161.7 508.8L155.9 510.3L164.6 506.5Z"/>
<path fill-opacity="0.09" d="M161.7 508.8L164.7 512.6L158.9 512.7Z"/>
<path fill-opacity="0.09" d="M183.3 509.1L176.5 505.4L187.3 516.5Z"/>
<path fill-opacity="0.09" d="M183.3 509.1L187.3 516.5L182.7 503.3Z"/>
<path fill-opacity="0.09" d="M183.3 509.1L176.5 505.4L192.8 509.4Z"/>
<path fill-opacity="0.09" d="M192.8 509.4L182.3 517.8L183.3 509.1Z"/>
<path fill-opacity="0.09" d="M192.8 509.4L187.3 516.5L182.7 503.3Z"/>
<path fill-opacity="0.09" d="M192.8 509.4L195.8 511.4L187.3 516.5Z"/>
<path fill-opacity="0.09" d="M137.9 508.8L135.5 510.2L151.7 510.0Z"/>
<path fill-opacity="0.09" d="M137.9 508.8L135.5 510.2L137.2 514.4Z"/>
<path fill-opacity="0.09" d="M137.9 508.8L151.7 510.0L138.4 519.9Z"/>
<path fill-opacity="0.09" d="M173.9 509.1L176.5 505.4L168.9 505.1Z"/>
<path fill-opacity="0.09" d="M173.9 509.1L173.0 506.3L168.6 507.9Z"/>
<path fill-opacity="0.09" d="M173.9 509.1L168.9 505.1L168.6 507.9Z"/>
<path fill-opacity="0.09" d="M178.0 509.4L178.8 516.9L183.3 509.1Z"/>
<path fill-opacity="0.09" d="M178.0 509.4L176.5 505.4L178.8 516.9Z"/>
<path fill-opacity="0.09" d="M178.0 509.4L173.0 506.3L176.5 505.4Z"/>
<path fill-opacity="0.09" d="M195.8 511.4L187.3 516.5L182.3 517.8Z"/>
<path fill-opacity="0.09" d="M195.8 511.4L183.3 509.1L192.8 509.4Z"/>
<path fill-opacity="0.09" d="M195.8 511.4L187.3 516.5L192.8 509.4Z"/>
<path fill-opacity="0.09" d="M151.7 510.0L158.0 510.1L154.5 516.3Z"/>
<path fill-opacity="0.09" d="M151.7 510.0L145.8 515.3L148.4 505.1Z"/>
<path fill-opacity="0.09" d="M151.7 510.0L155.9 510.3L158.0 510.1Z"/>
<path fill-opacity="0.09" d="M155.9 510.3L158.1 503.5L159.0 515.8Z"/>
<path fill-opacity="0.09" d="M155.9 510.3L161.7 508.8L159.0 515.8Z"/>
<path fill-opacity="0.09" d="M155.9 510.3L158.0 510.1L152.9 503.4Z"/>
<path fill-opacity="0.09" d="M158.0 510.1L161.7 508.8L154.5 516.3Z"/>
<path fill-opacity="0.09" d="M158.0 510.1L159.0 515.8L164.6 506.5Z"/>
<path fill-opacity="0.09" d="M158.0 510.1L155.9 510.3L159.0 515.8Z"/>
<path fill-opacity="0.09" d="M168.8 510.3L164.6 506.5L169.2 517.2Z"/>
<path fill-opacity="0.09" d="M168.8 510.3L169.2 517.2L164.6 506.5Z"/>
<path fill-opacity="0.09" d="M168.8 510.3L173.9 509.1L168.6 507.9Z"/>
<path fill-opacity="0.09" d="M173.9 511.1L173.0 506.3L168.8 510.3Z"/>
<path fill-opacity="0.09" d="M173.9 511.1L168.6 507.9L178.0 509.4Z"/>
<path fill-opacity="0.09" d="M173.9 511.1L173.9 509.1L168.6 507.9Z"/>
<path fill-opacity="0.09" d="M177.6 512.1L176.5 505.4L173.9 511.1Z"/>
<path fill-opacity="0.09" d="M177.6 512.1L182.3 517.8L183.3 509.1Z"/>
<path fill-opacity="0.09" d="M177.6 512.1L173.0 506.3L178.8 516.9Z"/>
<path fill-opacity="0.09" d="M158.9 512.7L161.7 508.8L158.0 510.1Z"/>
<path fill-opacity="0.09" d="M158.9 512.7L159.0 515.8L164.7 512.6Z"/>
<path fill-opacity="0.09" d="M158.9 512.7L159.0 515.8L155.9 510.3Z"/>
<path fill-opacity="0.09" d="M164.7 512.6L164.6 506.5L168.8 510.3Z"/>
<path fill-opacity="0.09" d="M164.7 512.6L164.6 506.5L168.8 510.3Z"/>
<path fill-opacity="0.09" d="M164.7 512.6L159.0 515.8L164.1 519.0Z"/>
<path fill-opacity="0.09" d="M145.8 515.3L154.5 516.3L151.7 510.0Z"/>
<path fill-opacity="0.09" d="M145.8 515.3L144.0 505.3L137.2 514.4Z"/>
<path fill-opacity="0.09" d="M145.8 515.3L137.9 508.8L148.6 523.7Z"/>
<path fill-opacity="0.09" d="M137.2 514.4L144.0 505.3L138.4 519.9Z"/>
<path fill-opacity="0.09" d="M137.2 514.4L138.7 505.2L138.4 519.9Z"/>
<path fill-opacity="0.09" d="M137.2 514.4L135.5 510.2L134.3 504.5Z"/>
<path fill-opacity="0.09" d="M154.5 516.3L145.8 515.3L158.9 512.7Z"/>
<path fill-opacity="0.09" d="M154.5 516.3L145.8 515.3L153.2 518.9Z"/>
<path fill-opacity="0.09" d="M154.5 516.3L155.9 510.3L159.0 515.8Z"/>
<path fill-opacity="0.09" d="M159.0 515.8L158.9 512.7L160.5 522.9Z"/>
<path fill-opacity="0.09" d="M159.0 515.8L164.1 519.0L153.2 518.9Z"/>
<path fill-opacity="0.09" d="M159.0 515.8L154.5 516.3L155.9 510.3Z"/>
<path fill-opacity="0.09" d="M187.3 516.5L188.0 507.5L182.3 517.8Z"/>
<path fill-opacity="0.09" d="M187.3 516.5L182.3 517.8L178.8 516.9Z"/>
<path fill-opacity="0.09" d="M187.3 516.5L188.0 507.5L183.3 509.1Z"/>
<path fill-opacity="0.09" d="M178.8 516.9L175.3 517.7L187.3 516.5Z"/>
<path fill-opacity="0.09" d="M178.8 516.9L182.3 517.8L178.0 509.4Z"/>
<path fill-opacity="0.09" d="M178.8 516.9L178.0 509.4L182.3 517.8Z"/>
<path fill-opacity="0.09" d="M169.2 517.2L173.9 511.1L175.3 517.7Z"/>
<path fill-opacity="0.09" d="M169.2 517.2L167.3 519.4L175.3 517.7Z"/>
<path fill-opacity="0.09" d="M169.2 517.2L164.1 519.0L178.8 516.9Z"/>
<path fill-opacity="0.09" d="M171.5 517.5L167.3 519.4L177.6 512.1Z"/>
<path fill-opacity="0.09" d="M171.5 517.5L177.6 512.1L173.9 511.1Z"/>
<path fill-opacity="0.09" d="M171.5 517.5L174.1 519.3L177.6 512.1Z"/>
<path fill-opacity="0.09" d="M175.3 517.7L177.6 512.1L174.1 519.3Z"/>
<path fill-opacity="0.09" d="M175.3 517.7L169.2 517.2L178.8 516.9Z"/>
<path fill-opacity="0.09" d="M175.3 517.7L171.5 517.5L182.3 517.8Z"/>
<path fill-opacity="0.09" d="M182.3 517.8L177.6 512.1L171.5 517.5Z"/>
<path fill-opacity="0.09" d="M182.3 517.8L187.3 516.5L178.8 516.9Z"/>
<path fill-opacity="0.09" d="M182.3 517.8L178.0 509.4L178.8 516.9Z"/>
<path fill-opacity="0.09" d="M153.2 518.9L160.5 522.9L148.6 523.7Z"/>
<path fill-opacity="0.09" d="M153.2 518.9L155.6 522.9L159.0 515.8Z"/>
<path fill-opacity="0.09" d="M153.2 518.9L160.5 522.9L148.6 523.7Z"/>
<path fill-opacity="0.09" d="M164.1 519.0L158.9 512.7L158.2 522.2Z"/>
<path fill-opacity="0.09" d="M164.1 519.0L167.5 525.5L158.9 512.7Z"/>
<path fill-opacity="0.09" d="M164.1 519.0L167.5 525.5L169.2 517.2Z"/>
<path fill-opacity="0.09" d="M167.3 519.4L159.0 515.8L174.1 519.3Z"/>
<path fill-opacity="0.09" d="M167.3 519.4L167.5 525.5L164.1 519.0Z"/>
<path fill-opacity="0.09" d="M167.3 519.4L164.7 512.6L169.2 517.2Z"/>
<path fill-opacity="0.09" d="M174.1 519.3L167.3 519.4L182.4 521.8Z"/>
<path fill-opacity="0.09" d="M174.1 519.3L171.5 517.5L182.4 521.8Z"/>
<path fill-opacity="0.09" d="M174.1 519.3L167.3 519.4L182.3 517.8Z"/>
<path fill-opacity="0.09" d="M138.4 519.9L145.8 515.3L154.5 516.3Z"/>
<path fill-opacity="0.09" d="M138.4 519.9L137.2 514.4L154.5 516.3Z"/>
<path fill-opacity="0.09" d="M138.4 519.9L143.7 525.4L148.6 523.7Z"/>
<path fill-opacity="0.09" d="M192.8 520.1L178.8 516.9L182.4 521.8Z"/>
<path fill-opacity="0.09" d="M192.8 520.1L175.3 517.7L192.8 509.4Z"/>
<path fill-opacity="0.09" d="M192.8 520.1L195.8 511.4L178.8 516.9Z"/>
<path fill-opacity="0.09" d="M182.4 521.8L175.3 517.7L171.5 517.5Z"/>
<path fill-opacity="0.09" d="M182.4 521.8L171.5 517.5L192.8 520.1Z"/>
<path fill-opacity="0.09" d="M182.4 521.8L182.3 517.8L187.3 516.5Z"/>
<path fill-opacity="0.09" d="M155.6 522.9L158.2 522.2L164.1 519.0Z"/>
<path fill-opacity="0.09" d="M155.6 522.9L164.1 519.0L159.0 515.8Z"/>
<path fill-opacity="0.09" d="M155.6 522.9L148.6 523.7L160.5 522.9Z"/>
<path fill-opacity="0.09" d="M158.2 522.2L154.5 516.3L159.0 515.8Z"/>
<path fill-opacity="0.09" d="M158.2 522.2L154.5 516.3L159.0 515.8Z"/>
<path fill-opacity="0.09" d="M158.2 522.2L155.6 522.9L159.0 515.8Z"/>
<path fill-opacity="0.09" d="M160.5 522.9L158.2 522.2L167.3 519.4Z"/>
<path fill-opacity="0.09" d="M160.5 522.9L167.3 519.4L161.0 529.9Z"/>
<path fill-opacity="0.09" d="M160.5 522.9L155.6 522.9L154.5 525.7Z"/>
<path fill-opacity="0.09" d="M138.8 523.9L138.4 519.9L145.8 515.3Z"/>
<path fill-opacity="0.09" d="M138.8 523.9L145.8 515.3L153.2 518.9Z"/>
<path fill-opacity="0.09" d="M138.8 523.9L143.7 525.4L154.5 525.7Z"/>
<path fill-opacity="0.09" d="M148.6 523.7L152.6 531.4L154.5 525.7Z"/>
<path fill-opacity="0.09" d="M148.6 523.7L138.8 523.9L152.6 531.4Z"/>
<path fill-opacity="0.09" d="M148.6 523.7L158.2 522.2L143.7 525.4Z"/>
<path fill-opacity="0.09" d="M143.7 525.4L152.6 531.4L148.6 523.7Z"/>
<path fill-opacity="0.09" d="M143.7 525.4L138.8 523.9L152.6 531.4Z"/>
<path fill-opacity="0.09" d="M143.7 525.4L138.4 519.9L154.5 525.7Z"/>
<path fill-opacity="0.09" d="M154.5 525.7L152.6 531.4L161.0 529.9Z"/>
<path fill-opacity="0.09" d="M154.5 525.7L143.7 525.4L153.2 518.9Z"/>
<path fill-opacity="0.09" d="M154.5 525.7L160.5 522.9L153.2 518.9Z"/>
<path fill-opacity="0.09" d="M167.5 525.5L169.2 517.2L173.3 526.4Z"/>
<path fill-opacity="0.09" d="M167.5 525.5L169.2 517.2L160.5 522.9Z"/>
<path fill-opacity="0.09" d="M167.5 525.5L164.5 530.3L173.3 526.4Z"/>
<path fill-opacity="0.09" d="M173.3 526.4L171.5 517.5L182.4 521.8Z"/>
<path fill-opacity="0.09" d="M173.3 526.4L175.9 533.5L167.3 519.4Z"/>
<path fill-opacity="0.09" d="M173.3 526.4L182.4 521.8L167.5 525.5Z"/>
<path fill-opacity="0.09" d="M161.0 529.9L173.3 526.4L154.5 525.7Z"/>
<path fill-opacity="0.09" d="M161.0 529.9L154.5 525.7L155.6 522.9Z"/>
<path fill-opacity="0.09" d="M161.0 529.9L158.2 522.2L152.6 531.4Z"/>
<path fill-opacity="0.09" d="M164.5 530.3L154.5 534.4L152.6 531.4Z"/>
<path fill-opacity="0.09" d="M164.5 530.3L154.5 534.4L152.6 531.4Z"/>
<path fill-opacity="0.09" d="M164.5 530.3L154.5 525.7L173.3 526.4Z"/>
<path fill-opacity="0.09" d="M152.6 531.4L155.6 522.9L158.2 522.2Z"/>
<path fill-opacity="0.09" d="M152.6 531.4L160.5 522.9L164.5 530.3Z"/>
<path fill-opacity="0.09" d="M152.6 531.4L154.5 525.7L161.0 529.9Z"/>
<path fill-opacity="0.09" d="M154.5 534.4L154.5 525.7L161.0 529.9Z"/>
<path fill-opacity="0.09" d="M154.5 534.4L164.5 530.3L158.2 522.2Z"/>
<path fill-opacity="0.09" d="M154.5 534.4L143.7 525.4L164.5 530.3Z"/>
<path fill-opacity="0.09" d="M175.9 533.5L167.3 519.4L174.1 519.3Z"/>
<path fill-opacity="0.09" d="M175.9 533.5L167.3 519.4L175.3 517.7Z"/>
<path fill-opacity="0.09" d="M175.9 533.5L167.5 525.5L182.4 521.8Z"/>
<path fill-opacity="0.09" d="M135.1 492.3L148.4 496.0L145.2 497.3Z"/>
<path fill-opacity="0.09" d="M135.1 492.3L147.4 488.7L138.7 505.2Z"/>
<path fill-opacity="0.09" d="M135.1 492.3L152.5 489.2L145.2 497.3Z"/>
<path fill-opacity="0.09" d="M134.3 504.5L145.2 497.3L144.0 505.3Z"/>
<path fill-opacity="0.09" d="M134.3 504.5L145.2 497.3L137.2 514.4Z"/>
<path fill-opacity="0.09" d="M134.3 504.5L144.0 505.3L138.7 505.2Z"/>
<path fill-opacity="0.09" d="M135.5 510.2L145.8 515.3L138.8 523.9Z"/>
<path fill-opacity="0.09" d="M135.5 510.2L145.8 515.3L134.3 504.5Z"/>
<path fill-opacity="0.09" d="M135.5 510.2L145.8 515.3L144.0 505.3Z"/>
</g></g>
<path d="M157.8 457.5L164.8 460.3M157.8 457.5L158.6 467.3M157.8 457.5L164.3 468.0M157.8 457.5L158.2 470.1M157.8 457.5L167.9 475.1M157.8 457.5L161.6 477.5M164.8 460.3L163.0 464.6M164.8 460.3L158.6 467.3M164.8 460.3L160.7 468.2M164.8 460.3L164.3 468.0M164.8 460.3L158.2 470.1M164.8 460.3L162.0 471.9M164.8 460.3L157.3 474.5M164.8 460.3L167.9 475.1M164.8 460.3L161.6 477.5M164.8 460.3L153.5 484.9M163.0 464.6L158.6 467.3M163.0 464.6L160.7 468.2M163.0 464.6L164.3 468.0M163.0 464.6L169.7 467.0M163.0 464.6L158.2 470.1M163.0 464.6L162.0 471.9M163.0 464.6L157.3 474.5M163.0 464.6L154.8 476.8M163.0 464.6L163.9 479.2M163.0 464.6L153.5 484.9M163.0 464.6L156.8 484.8M158.6 467.3L160.7 468.2M158.6 467.3L164.3 468.0M158.6 467.3L169.7 467.0M158.6 467.3L158.2 470.1M158.6 467.3L162.0 471.9M158.6 467.3L157.3 474.5M158.6 467.3L167.9 475.1M158.6 467.3L161.6 477.5M158.6 467.3L163.9 479.2M158.6 467.3L153.5 484.9M158.6 467.3L156.8 484.8M160.7 468.2L164.3 468.0M160.7 468.2L169.7 467.0M160.7 468.2L158.2 470.1M160.7 468.2L162.0 471.9M160.7 468.2L157.3 474.5M160.7 468.2L167.9 475.1M160.7 468.2L154.8 476.8M160.7 468.2L161.6 477.5M160.7 468.2L163.9 479.2M160.7 468.2L153.5 484.9M160.7 468.2L156.8 484.8M160.7 468.2L160.2 486.6M160.7 468.2L152.5 489.2M164.3 468.0L169.7 467.0M164.3 468.0L158.2 470.1M164.3 468.0L162.0 471.9M164.3 468.0L157.3 474.5M164.3 468.0L167.9 475.1M164.3 468.0L154.8 476.8M164.3 468.0L153.5 484.9M169.7 467.0L158.2 470.1M169.7 467.0L162.0 471.9M169.7 467.0L179.6 472.3M169.7 467.0L154.8 476.8M169.7 467.0L161.6 477.5M169.7 467.0L163.9 479.2M169.7 467.0L149.6 482.5M169.7 467.0L153.5 484.9M169.7 467.0L156.8 484.8M169.7 467.0L172.7 486.1M169.7 467.0L177.7 491.8M158.2 470.1L162.0 471.9M158.2 470.1L157.3 474.5M158.2 470.1L167.9 475.1M158.2 470.1L163.9 479.2M158.2 470.1L153.5 484.9M158.2 470.1L156.8 484.8M158.2 470.1L159.1 489.5M162.0 471.9L157.3 474.5M162.0 471.9L167.9 475.1M162.0 471.9L154.8 476.8M162.0 471.9L161.6 477.5M162.0 471.9L163.9 479.2M162.0 471.9L149.6 482.5M162.0 471.9L153.5 484.9M162.0 471.9L156.8 484.8M179.6 472.3L167.9 475.1M179.6 472.3L174.7 480.3M179.6 472.3L192.4 482.1M157.3 474.5L167.9 475.1M157.3 474.5L154.8 476.8M157.3 474.5L161.6 477.5M157.3 474.5L163.9 479.2M157.3 474.5L149.6 482.5M157.3 474.5L153.5 484.9M157.3 474.5L156.8 484.8M157.3 474.5L159.2 492.6M157.3 474.5L161.2 492.8M167.9 475.1L154.8 476.8M167.9 475.1L161.6 477.5M167.9 475.1L163.9 479.2M167.9 475.1L149.6 482.5M167.9 475.1L156.8 484.8M167.9 475.1L162.5 488.0M167.9 475.1L172.7 486.1M167.9 475.1L159.1 489.5M167.9 475.1L177.7 491.8M167.9 475.1L161.2 492.8M167.9 475.1L164.4 495.7M154.8 476.8L161.6 477.5M154.8 476.8L163.9 479.2M154.8 476.8L149.6 482.5M154.8 476.8L153.5 484.9M154.8 476.8L156.8 484.8M154.8 476.8L162.5 488.0M154.8 476.8L147.4 488.7M154.8 476.8L152.5 489.2M154.8 476.8L159.1 489.5M154.8 476.8L156.3 492.7M154.8 476.8L144.5 494.1M154.8 476.8L135.1 492.3M161.6 477.5L163.9 479.2M161.6 477.5L149.6 482.5M161.6 477.5L153.5 484.9M161.6 477.5L156.8 484.8M161.6 477.5L160.2 486.6M161.6 477.5L162.5 488.0M161.6 477.5L147.4 488.7M161.6 477.5L159.1 489.5M161.6 477.5L159.2 492.6M161.6 477.5L161.2 492.8M161.6 477.5L164.4 495.7M161.6 477.5L155.9 496.6M163.9 479.2L149.6 482.5M163.9 479.2L153.5 484.9M163.9 479.2L156.8 484.8M163.9 479.2L152.5 489.2M163.9 479.2L161.6 497.2M163.9 479.2L162.7 501.4M174.7 480.3L162.5 488.0M174.7 480.3L172.7 486.1M174.7 480.3L173.3 488.3M174.7 480.3L177.7 491.8M174.7 480.3L161.2 492.8M174.7 480.3L166.1 496.0M192.4 482.1L183.2 486.7M149.6 482.5L153.5 484.9M149.6 482.5L156.8 484.8M149.6 482.5L162.5 488.0M149.6 482.5L152.5 489.2M149.6 482.5L155.7 489.9M149.6 482.5L159.1 489.5M149.6 482.5L151.8 492.3M149.6 482.5L156.3 492.7M149.6 482.5L159.2 492.6M149.6 482.5L161.2 492.8M149.6 482.5L148.4 496.0M149.6 482.5L155.9 496.6M149.6 482.5L145.2 497.3M149.6 482.5L154.3 499.1M153.5 484.9L156.8 484.8M153.5 484.9L160.2 486.6M153.5 484.9L147.4 488.7M153.5 484.9L152.5 489.2M153.5 484.9L155.7 489.9M153.5 484.9L159.1 489.5M153.5 484.9L151.8 492.3M153.5 484.9L156.3 492.7M153.5 484.9L161.2 492.8M153.5 484.9L148.4 496.0M153.5 484.9L171.5 497.8M153.5 484.9L159.3 498.5M153.5 484.9L154.3 499.1M153.5 484.9L166.2 502.2M156.8 484.8L160.2 486.6M156.8 484.8L162.5 488.0M156.8 484.8L147.4 488.7M156.8 484.8L152.5 489.2M156.8 484.8L155.7 489.9M156.8 484.8L159.1 489.5M156.8 484.8L159.2 492.6M156.8 484.8L164.4 495.7M156.8 484.8L148.4 496.0M156.8 484.8L161.6 497.2M156.8 484.8L159.3 498.5M156.8 484.8L154.3 499.1M156.8 484.8L175.2 500.3M160.2 486.6L162.5 488.0M160.2 486.6L152.5 489.2M160.2 486.6L155.7 489.9M160.2 486.6L159.1 489.5M160.2 486.6L151.8 492.3M160.2 486.6L159.2 492.6M160.2 486.6L161.2 492.8M160.2 486.6L144.5 494.1M160.2 486.6L166.1 496.0M160.2 486.6L169.0 496.4M160.2 486.6L155.9 496.6M160.2 486.6L161.6 497.2M160.2 486.6L154.3 499.1M160.2 486.6L175.2 500.3M160.2 486.6L166.2 502.2M160.2 486.6L158.1 503.5M160.2 486.6L168.9 505.1M162.5 488.0L147.4 488.7M162.5 488.0L152.5 489.2M162.5 488.0L155.7 489.9M162.5 488.0L159.1 489.5M162.5 488.0L151.8 492.3M162.5 488.0L156.3 492.7M162.5 488.0L159.2 492.6M162.5 488.0L161.2 492.8M162.5 488.0L164.4 495.7M162.5 488.0L166.1 496.0M162.5 488.0L169.0 496.4M162.5 488.0L155.9 496.6M162.5 488.0L171.5 497.8M162.5 488.0L159.3 498.5M162.5 488.0L175.2 500.3M162.5 488.0L158.9 501.0M162.5 488.0L158.1 503.5M162.5 488.0L168.9 505.1M162.5 488.0L173.0 506.3M172.7 486.1L173.3 488.3M172.7 486.1L177.7 491.8M172.7 486.1L172.2 494.6M172.7 486.1L166.1 496.0M172.7 486.1L177.9 496.6M172.7 486.1L171.5 497.8M172.7 486.1L175.2 500.3M172.7 486.1L166.2 502.2M173.3 488.3L177.7 491.8M173.3 488.3L172.2 494.6M173.3 488.3L164.4 495.7M173.3 488.3L161.6 497.2M173.3 488.3L171.5 497.8M173.3 488.3L162.7 501.4M173.3 488.3L166.2 502.2M173.3 488.3L160.8 502.9M173.3 488.3L182.7 503.3M173.3 488.3L178.0 509.4M183.2 486.7L177.7 491.8M183.2 486.7L172.2 494.6M183.2 486.7L171.5 497.8M147.4 488.7L152.5 489.2M147.4 488.7L159.1 489.5M147.4 488.7L151.8 492.3M147.4 488.7L156.3 492.7M147.4 488.7L144.5 494.1M147.4 488.7L148.4 496.0M147.4 488.7L155.9 496.6M147.4 488.7L145.2 497.3M147.4 488.7L158.9 501.0M147.4 488.7L162.7 501.4M147.4 488.7L135.1 492.3M152.5 489.2L155.7 489.9M152.5 489.2L159.1 489.5M152.5 489.2L151.8 492.3M152.5 489.2L156.3 492.7M152.5 489.2L161.2 492.8M152.5 489.2L164.4 495.7M152.5 489.2L169.0 496.4M152.5 489.2L148.4 496.0M152.5 489.2L161.6 497.2M152.5 489.2L171.5 497.8M152.5 489.2L154.3 499.1M152.5 489.2L158.9 501.0M152.5 489.2L158.0 510.1M155.7 489.9L159.1 489.5M155.7 489.9L151.8 492.3M155.7 489.9L156.3 492.7M155.7 489.9L159.2 492.6M155.7 489.9L161.2 492.8M155.7 489.9L144.5 494.1M155.7 489.9L169.0 496.4M155.7 489.9L155.9 496.6M155.7 489.9L177.9 496.6M155.7 489.9L145.2 497.3M155.7 489.9L159.3 498.5M155.7 489.9L154.3 499.1M155.7 489.9L158.1 503.5M155.7 489.9L160.8 502.9M155.7 489.9L144.0 505.3M155.7 489.9L148.4 505.1M155.7 489.9L168.9 505.1M159.1 489.5L156.3 492.7M159.1 489.5L159.2 492.6M159.1 489.5L161.2 492.8M159.1 489.5L144.5 494.1M159.1 489.5L166.1 496.0M159.1 489.5L155.9 496.6M159.1 489.5L161.6 497.2M159.1 489.5L145.2 497.3M159.1 489.5L159.3 498.5M159.1 489.5L154.3 499.1M159.1 489.5L175.2 500.3M159.1 489.5L152.9 503.4M159.1 489.5L160.8 502.9M159.1 489.5L164.6 506.5M159.1 489.5L155.9 510.3M177.7 491.8L172.2 494.6M177.7 491.8L164.4 495.7M177.7 491.8L169.0 496.4M177.7 491.8L155.9 496.6M177.7 491.8L161.6 497.2M177.7 491.8L177.9 496.6M177.7 491.8L196.0 497.0M177.7 491.8L171.5 497.8M177.7 491.8L159.3 498.5M177.7 491.8L168.9 505.1M177.7 491.8L173.0 506.3M151.8 492.3L156.3 492.7M151.8 492.3L159.2 492.6M151.8 492.3L161.2 492.8M151.8 492.3L144.5 494.1M151.8 492.3L172.2 494.6M151.8 492.3L164.4 495.7M151.8 492.3L148.4 496.0M151.8 492.3L155.9 496.6M151.8 492.3L161.6 497.2M151.8 492.3L171.5 497.8M151.8 492.3L154.3 499.1M151.8 492.3L158.9 501.0M151.8 492.3L164.6 506.5M151.8 492.3L168.6 507.9M151.8 492.3L158.9 512.7M156.3 492.7L159.2 492.6M156.3 492.7L161.2 492.8M156.3 492.7L144.5 494.1M156.3 492.7L172.2 494.6M156.3 492.7L166.1 496.0M156.3 492.7L148.4 496.0M156.3 492.7L155.9 496.6M156.3 492.7L145.2 497.3M156.3 492.7L175.2 500.3M156.3 492.7L158.9 501.0M156.3 492.7L166.2 502.2M156.3 492.7L152.9 503.4M156.3 492.7L158.1 503.5M156.3 492.7L160.8 502.9M156.3 492.7L148.4 505.1M156.3 492.7L164.6 506.5M156.3 492.7L161.7 508.8M159.2 492.6L161.2 492.8M159.2 492.6L144.5 494.1M159.2 492.6L164.4 495.7M159.2 492.6L166.1 496.0M159.2 492.6L148.4 496.0M159.2 492.6L155.9 496.6M159.2 492.6L161.6 497.2M159.2 492.6L145.2 497.3M159.2 492.6L171.5 497.8M159.2 492.6L159.3 498.5M159.2 492.6L158.9 501.0M159.2 492.6L162.7 501.4M159.2 492.6L166.2 502.2M159.2 492.6L160.8 502.9M159.2 492.6L168.6 507.9M159.2 492.6L155.9 510.3M159.2 492.6L158.0 510.1M161.2 492.8L144.5 494.1M161.2 492.8L172.2 494.6M161.2 492.8L164.4 495.7M161.2 492.8L166.1 496.0M161.2 492.8L155.9 496.6M161.2 492.8L161.6 497.2M161.2 492.8L177.9 496.6M161.2 492.8L171.5 497.8M161.2 492.8L159.3 498.5M161.2 492.8L154.3 499.1M161.2 492.8L158.9 501.0M161.2 492.8L162.7 501.4M161.2 492.8L166.2 502.2M161.2 492.8L152.9 503.4M161.2 492.8L160.8 502.9M161.2 492.8L148.4 505.1M161.2 492.8L173.9 509.1M161.2 492.8L168.8 510.3M161.2 492.8L164.7 512.6M144.5 494.1L166.1 496.0M144.5 494.1L148.4 496.0M144.5 494.1L155.9 496.6M144.5 494.1L161.6 497.2M144.5 494.1L145.2 497.3M144.5 494.1L154.3 499.1M144.5 494.1L158.9 501.0M144.5 494.1L158.1 503.5M144.5 494.1L160.8 502.9M144.5 494.1L148.4 505.1M144.5 494.1L164.6 506.5M144.5 494.1L155.9 510.3M144.5 494.1L135.1 492.3M172.2 494.6L164.4 495.7M172.2 494.6L166.1 496.0M172.2 494.6L169.0 496.4M172.2 494.6L155.9 496.6M172.2 494.6L161.6 497.2M172.2 494.6L177.9 496.6M172.2 494.6L171.5 497.8M172.2 494.6L159.3 498.5M172.2 494.6L175.2 500.3M172.2 494.6L158.9 501.0M172.2 494.6L166.2 502.2M172.2 494.6L152.9 503.4M172.2 494.6L179.3 503.1M172.2 494.6L182.7 503.3M172.2 494.6L168.9 505.1M172.2 494.6L176.5 505.4M172.2 494.6L164.6 506.5M172.2 494.6L168.6 507.9M172.2 494.6L173.9 509.1M164.4 495.7L166.1 496.0M164.4 495.7L169.0 496.4M164.4 495.7L155.9 496.6M164.4 495.7L161.6 497.2M164.4 495.7L182.5 497.3M164.4 495.7L171.5 497.8M164.4 495.7L159.3 498.5M164.4 495.7L154.3 499.1M164.4 495.7L158.9 501.0M164.4 495.7L162.7 501.4M164.4 495.7L166.2 502.2M164.4 495.7L160.8 502.9M164.4 495.7L179.3 503.1M164.4 495.7L144.0 505.3M164.4 495.7L148.4 505.1M164.4 495.7L164.6 506.5M164.4 495.7L173.0 506.3M164.4 495.7L173.9 509.1M164.4 495.7L154.5 516.3M166.1 496.0L169.0 496.4M166.1 496.0L155.9 496.6M166.1 496.0L161.6 497.2M166.1 496.0L177.9 496.6M166.1 496.0L171.5 497.8M166.1 496.0L159.3 498.5M166.1 496.0L154.3 499.1M166.1 496.0L185.4 499.3M166.1 496.0L158.9 501.0M166.1 496.0L162.7 501.4M166.1 496.0L166.2 502.2M166.1 496.0L152.9 503.4M166.1 496.0L160.8 502.9M166.1 496.0L179.3 503.1M166.1 496.0L168.9 505.1M166.1 496.0L176.5 505.4M166.1 496.0L173.0 506.3M166.1 496.0L168.6 507.9M166.1 496.0L161.7 508.8M166.1 496.0L178.0 509.4M166.1 496.0L155.9 510.3M166.1 496.0L158.0 510.1M166.1 496.0L173.9 511.1M166.1 496.0L164.7 512.6M169.0 496.4L155.9 496.6M169.0 496.4L161.6 497.2M169.0 496.4L182.5 497.3M169.0 496.4L145.2 497.3M169.0 496.4L171.5 497.8M169.0 496.4L159.3 498.5M169.0 496.4L154.3 499.1M169.0 496.4L175.2 500.3M169.0 496.4L158.9 501.0M169.0 496.4L162.7 501.4M169.0 496.4L166.2 502.2M169.0 496.4L158.1 503.5M169.0 496.4L168.9 505.1M169.0 496.4L176.5 505.4M169.0 496.4L168.6 507.9M169.0 496.4L161.7 508.8M169.0 496.4L158.0 510.1M169.0 496.4L173.9 511.1M148.4 496.0L155.9 496.6M148.4 496.0L161.6 497.2M148.4 496.0L145.2 497.3M148.4 496.0L154.3 499.1M148.4 496.0L158.9 501.0M148.4 496.0L162.7 501.4M148.4 496.0L152.9 503.4M148.4 496.0L158.1 503.5M148.4 496.0L160.8 502.9M148.4 496.0L138.7 505.2M148.4 496.0L155.9 510.3M148.4 496.0L145.8 515.3M148.4 496.0L135.1 492.3M155.9 496.6L161.6 497.2M155.9 496.6L145.2 497.3M155.9 496.6L159.3 498.5M155.9 496.6L154.3 499.1M155.9 496.6L175.2 500.3M155.9 496.6L158.9 501.0M155.9 496.6L162.7 501.4M155.9 496.6L166.2 502.2M155.9 496.6L160.8 502.9M155.9 496.6L144.0 505.3M155.9 496.6L168.9 505.1M155.9 496.6L151.7 510.0M155.9 496.6L155.9 510.3M155.9 496.6L168.8 510.3M155.9 496.6L145.8 515.3M161.6 497.2L182.5 497.3M161.6 497.2L159.3 498.5M161.6 497.2L154.3 499.1M161.6 497.2L158.9 501.0M161.6 497.2L162.7 501.4M161.6 497.2L166.2 502.2M161.6 497.2L152.9 503.4M161.6 497.2L158.1 503.5M161.6 497.2L160.8 502.9M161.6 497.2L144.0 505.3M161.6 497.2L168.9 505.1M161.6 497.2L176.5 505.4M161.6 497.2L161.7 508.8M161.6 497.2L173.9 509.1M161.6 497.2L164.7 512.6M161.6 497.2L154.5 516.3M177.9 496.6L171.5 497.8M177.9 496.6L154.3 499.1M177.9 496.6L185.4 499.3M177.9 496.6L175.2 500.3M177.9 496.6L162.7 501.4M177.9 496.6L158.1 503.5M177.9 496.6L179.3 503.1M177.9 496.6L168.9 505.1M177.9 496.6L176.5 505.4M177.9 496.6L164.6 506.5M177.9 496.6L173.0 506.3M177.9 496.6L161.7 508.8M177.9 496.6L183.3 509.1M177.9 496.6L173.9 509.1M177.9 496.6L178.0 509.4M182.5 497.3L171.5 497.8M182.5 497.3L175.2 500.3M182.5 497.3L182.7 503.3M182.5 497.3L168.9 505.1M182.5 497.3L168.6 507.9M182.5 497.3L188.0 507.5M182.5 497.3L192.8 509.4M182.5 497.3L195.8 511.4M182.5 497.3L173.9 511.1M182.5 497.3L182.3 517.8M196.0 497.0L185.4 499.3M196.0 497.0L182.7 503.3M196.0 497.0L188.0 507.5M196.0 497.0L192.8 509.4M196.0 497.0L195.8 511.4M145.2 497.3L159.3 498.5M145.2 497.3L154.3 499.1M145.2 497.3L148.4 505.1M145.2 497.3L164.6 506.5M145.2 497.3L161.7 508.8M145.2 497.3L151.7 510.0M145.2 497.3L155.9 510.3M145.2 497.3L134.3 504.5M171.5 497.8L159.3 498.5M171.5 497.8L175.2 500.3M171.5 497.8L162.7 501.4M171.5 497.8L166.2 502.2M171.5 497.8L179.3 503.1M171.5 497.8L168.9 505.1M171.5 497.8L173.0 506.3M171.5 497.8L168.6 507.9M171.5 497.8L183.3 509.1M171.5 497.8L173.9 509.1M171.5 497.8L177.6 512.1M171.5 497.8L175.3 517.7M159.3 498.5L154.3 499.1M159.3 498.5L185.4 499.3M159.3 498.5L175.2 500.3M159.3 498.5L158.9 501.0M159.3 498.5L162.7 501.4M159.3 498.5L166.2 502.2M159.3 498.5L152.9 503.4M159.3 498.5L158.1 503.5M159.3 498.5L160.8 502.9M159.3 498.5L148.4 505.1M159.3 498.5L168.9 505.1M159.3 498.5L176.5 505.4M159.3 498.5L164.6 506.5M159.3 498.5L161.7 508.8M159.3 498.5L178.0 509.4M159.3 498.5L155.9 510.3M159.3 498.5L158.0 510.1M159.3 498.5L153.2 518.9M154.3 499.1L158.9 501.0M154.3 499.1L162.7 501.4M154.3 499.1L166.2 502.2M154.3 499.1L152.9 503.4M154.3 499.1L158.1 503.5M154.3 499.1L179.3 503.1M154.3 499.1L144.0 505.3M154.3 499.1L137.9 508.8M154.3 499.1L151.7 510.0M154.3 499.1L168.8 510.3M154.3 499.1L158.9 512.7M185.4 499.3L175.2 500.3M185.4 499.3L197.4 502.0M185.4 499.3L179.3 503.1M185.4 499.3L182.7 503.3M185.4 499.3L176.5 505.4M185.4 499.3L173.0 506.3M185.4 499.3L188.0 507.5M185.4 499.3L183.3 509.1M175.2 500.3L162.7 501.4M175.2 500.3L179.3 503.1M175.2 500.3L182.7 503.3M175.2 500.3L176.5 505.4M175.2 500.3L164.6 506.5M175.2 500.3L173.0 506.3M175.2 500.3L168.6 507.9M175.2 500.3L161.7 508.8M175.2 500.3L155.9 510.3M175.2 500.3L158.0 510.1M175.2 500.3L168.8 510.3M175.2 500.3L177.6 512.1M175.2 500.3L164.7 512.6M175.2 500.3L187.3 516.5M175.2 500.3L178.8 516.9M175.2 500.3L169.2 517.2M175.2 500.3L175.3 517.7M158.9 501.0L162.7 501.4M158.9 501.0L152.9 503.4M158.9 501.0L158.1 503.5M158.9 501.0L160.8 502.9M158.9 501.0L138.7 505.2M158.9 501.0L148.4 505.1M158.9 501.0L168.9 505.1M158.9 501.0L164.6 506.5M158.9 501.0L173.0 506.3M158.9 501.0L168.6 507.9M158.9 501.0L161.7 508.8M158.9 501.0L173.9 509.1M158.9 501.0L178.0 509.4M158.9 501.0L151.7 510.0M158.9 501.0L155.9 510.3M158.9 501.0L168.8 510.3M158.9 501.0L158.9 512.7M158.9 501.0L154.5 516.3M158.9 501.0L159.0 515.8M158.9 501.0L169.2 517.2M162.7 501.4L166.2 502.2M162.7 501.4L152.9 503.4M162.7 501.4L158.1 503.5M162.7 501.4L160.8 502.9M162.7 501.4L179.3 503.1M162.7 501.4L182.7 503.3M162.7 501.4L144.0 505.3M162.7 501.4L148.4 505.1M162.7 501.4L168.9 505.1M162.7 501.4L164.6 506.5M162.7 501.4L173.0 506.3M162.7 501.4L168.6 507.9M162.7 501.4L161.7 508.8M162.7 501.4L173.9 509.1M162.7 501.4L155.9 510.3M162.7 501.4L158.0 510.1M162.7 501.4L168.8 510.3M162.7 501.4L173.9 511.1M162.7 501.4L158.9 512.7M162.7 501.4L169.2 517.2M162.7 501.4L164.1 519.0M166.2 502.2L152.9 503.4M166.2 502.2L158.1 503.5M166.2 502.2L160.8 502.9M166.2 502.2L179.3 503.1M166.2 502.2L182.7 503.3M166.2 502.2L148.4 505.1M166.2 502.2L168.9 505.1M166.2 502.2L164.6 506.5M166.2 502.2L173.0 506.3M166.2 502.2L168.6 507.9M166.2 502.2L173.9 509.1M166.2 502.2L178.0 509.4M166.2 502.2L158.0 510.1M166.2 502.2L168.8 510.3M166.2 502.2L173.9 511.1M166.2 502.2L158.9 512.7M166.2 502.2L171.5 517.5M197.4 502.0L182.7 503.3M197.4 502.0L188.0 507.5M197.4 502.0L192.8 509.4M197.4 502.0L195.8 511.4M152.9 503.4L158.1 503.5M152.9 503.4L160.8 502.9M152.9 503.4L138.7 505.2M152.9 503.4L144.0 505.3M152.9 503.4L148.4 505.1M152.9 503.4L168.9 505.1M152.9 503.4L173.0 506.3M152.9 503.4L137.9 508.8M152.9 503.4L173.9 509.1M152.9 503.4L151.7 510.0M152.9 503.4L158.0 510.1M152.9 503.4L173.9 511.1M152.9 503.4L158.9 512.7M152.9 503.4L159.0 515.8M152.9 503.4L153.2 518.9M152.9 503.4L138.4 519.9M152.9 503.4L116.8 502.3M158.1 503.5L160.8 502.9M158.1 503.5L179.3 503.1M158.1 503.5L144.0 505.3M158.1 503.5L148.4 505.1M158.1 503.5L168.9 505.1M158.1 503.5L176.5 505.4M158.1 503.5L164.6 506.5M158.1 503.5L168.6 507.9M158.1 503.5L161.7 508.8M158.1 503.5L137.9 508.8M158.1 503.5L151.7 510.0M158.1 503.5L155.9 510.3M158.1 503.5L168.8 510.3M158.1 503.5L164.7 512.6M158.1 503.5L145.8 515.3M158.1 503.5L169.2 517.2M158.1 503.5L171.5 517.5M158.1 503.5L153.2 518.9M158.1 503.5L167.3 519.4M158.1 503.5L158.2 522.2M160.8 502.9L148.4 505.1M160.8 502.9L168.9 505.1M160.8 502.9L176.5 505.4M160.8 502.9L164.6 506.5M160.8 502.9L161.7 508.8M160.8 502.9L173.9 509.1M160.8 502.9L155.9 510.3M160.8 502.9L158.0 510.1M160.8 502.9L173.9 511.1M160.8 502.9L158.9 512.7M160.8 502.9L164.7 512.6M160.8 502.9L154.5 516.3M160.8 502.9L169.2 517.2M160.8 502.9L160.5 522.9M179.3 503.1L182.7 503.3M179.3 503.1L168.9 505.1M179.3 503.1L176.5 505.4M179.3 503.1L164.6 506.5M179.3 503.1L173.0 506.3M179.3 503.1L168.6 507.9M179.3 503.1L188.0 507.5M179.3 503.1L183.3 509.1M179.3 503.1L173.9 509.1M179.3 503.1L178.0 509.4M179.3 503.1L168.8 510.3M179.3 503.1L177.6 512.1M179.3 503.1L187.3 516.5M179.3 503.1L178.8 516.9M179.3 503.1L175.3 517.7M179.3 503.1L167.3 519.4M182.7 503.3L168.9 505.1M182.7 503.3L176.5 505.4M182.7 503.3L173.0 506.3M182.7 503.3L168.6 507.9M182.7 503.3L188.0 507.5M182.7 503.3L183.3 509.1M182.7 503.3L178.0 509.4M182.7 503.3L195.8 511.4M182.7 503.3L168.8 510.3M182.7 503.3L177.6 512.1M182.7 503.3L164.7 512.6M182.7 503.3L187.3 516.5M182.7 503.3L171.5 517.5M182.7 503.3L174.1 519.3M138.7 505.2L144.0 505.3M138.7 505.2L137.9 508.8M138.7 505.2L151.7 510.0M138.7 505.2L154.5 516.3M138.7 505.2L100.7 501.6M138.7 505.2L106.4 497.8M138.7 505.2L112.6 500.7M138.7 505.2L118.8 505.9M138.7 505.2L125.4 492.9M138.7 505.2L135.1 492.3M138.7 505.2L134.3 504.5M138.7 505.2L135.5 510.2M144.0 505.3L148.4 505.1M144.0 505.3L168.9 505.1M144.0 505.3L137.9 508.8M144.0 505.3L151.7 510.0M144.0 505.3L158.0 510.1M144.0 505.3L145.8 515.3M144.0 505.3L137.2 514.4M144.0 505.3L109.3 495.3M144.0 505.3L116.8 502.3M144.0 505.3L118.8 505.9M144.0 505.3L135.1 492.3M144.0 505.3L134.3 504.5M144.0 505.3L135.5 510.2M148.4 505.1L168.9 505.1M148.4 505.1L164.6 506.5M148.4 505.1L168.6 507.9M148.4 505.1L161.7 508.8M148.4 505.1L151.7 510.0M148.4 505.1L155.9 510.3M148.4 505.1L158.0 510.1M148.4 505.1L137.2 514.4M148.4 505.1L154.5 516.3M148.4 505.1L159.0 515.8M148.4 505.1L153.2 518.9M148.4 505.1L138.4 519.9M148.4 505.1L118.8 505.9M168.9 505.1L176.5 505.4M168.9 505.1L164.6 506.5M168.9 505.1L173.0 506.3M168.9 505.1L168.6 507.9M168.9 505.1L161.7 508.8M168.9 505.1L183.3 509.1M168.9 505.1L173.9 509.1M168.9 505.1L178.0 509.4M168.9 505.1L158.0 510.1M168.9 505.1L168.8 510.3M168.9 505.1L177.6 512.1M168.9 505.1L158.9 512.7M168.9 505.1L164.7 512.6M168.9 505.1L159.0 515.8M168.9 505.1L169.2 517.2M168.9 505.1L174.1 519.3M176.5 505.4L164.6 506.5M176.5 505.4L173.0 506.3M176.5 505.4L168.6 507.9M176.5 505.4L161.7 508.8M176.5 505.4L192.8 509.4M176.5 505.4L173.9 509.1M176.5 505.4L178.0 509.4M176.5 505.4L155.9 510.3M176.5 505.4L168.8 510.3M176.5 505.4L173.9 511.1M176.5 505.4L158.9 512.7M176.5 505.4L164.7 512.6M176.5 505.4L178.8 516.9M176.5 505.4L169.2 517.2M176.5 505.4L175.3 517.7M176.5 505.4L164.1 519.0M176.5 505.4L174.1 519.3M164.6 506.5L173.0 506.3M164.6 506.5L168.6 507.9M164.6 506.5L161.7 508.8M164.6 506.5L151.7 510.0M164.6 506.5L158.0 510.1M164.6 506.5L168.8 510.3M164.6 506.5L173.9 511.1M164.6 506.5L158.9 512.7M164.6 506.5L164.7 512.6M164.6 506.5L154.5 516.3M164.6 506.5L159.0 515.8M164.6 506.5L171.5 517.5M164.6 506.5L153.2 518.9M164.6 506.5L167.3 519.4M164.6 506.5L174.1 519.3M173.0 506.3L168.6 507.9M173.0 506.3L188.0 507.5M173.0 506.3L161.7 508.8M173.0 506.3L183.3 509.1M173.0 506.3L173.9 509.1M173.0 506.3L178.0 509.4M173.0 506.3L155.9 510.3M173.0 506.3L158.0 510.1M173.0 506.3L168.8 510.3M173.0 506.3L173.9 511.1M173.0 506.3L177.6 512.1M173.0 506.3L164.7 512.6M173.0 506.3L154.5 516.3M173.0 506.3L169.2 517.2M173.0 506.3L164.1 519.0M168.6 507.9L161.7 508.8M168.6 507.9L173.9 509.1M168.6 507.9L151.7 510.0M168.6 507.9L155.9 510.3M168.6 507.9L168.8 510.3M168.6 507.9L173.9 511.1M168.6 507.9L177.6 512.1M168.6 507.9L164.7 512.6M168.6 507.9L154.5 516.3M168.6 507.9L169.2 517.2M168.6 507.9L171.5 517.5M168.6 507.9L164.1 519.0M168.6 507.9L167.3 519.4M168.6 507.9L174.1 519.3M168.6 507.9L182.4 521.8M168.6 507.9L167.5 525.5M188.0 507.5L183.3 509.1M188.0 507.5L192.8 509.4M188.0 507.5L173.9 509.1M188.0 507.5L178.0 509.4M188.0 507.5L173.9 511.1M188.0 507.5L177.6 512.1M188.0 507.5L188.8 512.3M188.0 507.5L182.3 517.8M161.7 508.8L173.9 509.1M161.7 508.8L151.7 510.0M161.7 508.8L155.9 510.3M161.7 508.8L158.0 510.1M161.7 508.8L168.8 510.3M161.7 508.8L177.6 512.1M161.7 508.8L158.9 512.7M161.7 508.8L164.7 512.6M161.7 508.8L145.8 515.3M161.7 508.8L159.0 515.8M161.7 508.8L171.5 517.5M161.7 508.8L175.3 517.7M161.7 508.8L153.2 518.9M161.7 508.8L167.3 519.4M161.7 508.8L174.1 519.3M161.7 508.8L158.2 522.2M161.7 508.8L167.5 525.5M183.3 509.1L192.8 509.4M183.3 509.1L173.9 509.1M183.3 509.1L178.0 509.4M183.3 509.1L168.8 510.3M183.3 509.1L173.9 511.1M183.3 509.1L177.6 512.1M183.3 509.1L188.8 512.3M183.3 509.1L178.8 516.9M183.3 509.1L182.3 517.8M183.3 509.1L164.1 519.0M192.8 509.4L195.8 511.4M192.8 509.4L173.9 511.1M192.8 509.4L188.8 512.3M192.8 509.4L175.3 517.7M137.9 508.8L151.7 510.0M137.9 508.8L155.9 510.3M137.9 508.8L158.0 510.1M137.9 508.8L145.8 515.3M137.9 508.8L137.2 514.4M137.9 508.8L138.4 519.9M137.9 508.8L108.9 510.7M137.9 508.8L134.3 504.5M137.9 508.8L135.5 510.2M173.9 509.1L178.0 509.4M173.9 509.1L155.9 510.3M173.9 509.1L168.8 510.3M173.9 509.1L173.9 511.1M173.9 509.1L177.6 512.1M173.9 509.1L158.9 512.7M173.9 509.1L154.5 516.3M173.9 509.1L159.0 515.8M173.9 509.1L169.2 517.2M173.9 509.1L171.5 517.5M173.9 509.1L182.4 521.8M173.9 509.1L173.3 526.4M178.0 509.4L173.9 511.1M178.0 509.4L177.6 512.1M178.0 509.4L188.8 512.3M178.0 509.4L164.7 512.6M178.0 509.4L154.5 516.3M178.0 509.4L187.3 516.5M178.0 509.4L178.8 516.9M178.0 509.4L171.5 517.5M178.0 509.4L175.3 517.7M178.0 509.4L182.3 517.8M178.0 509.4L164.1 519.0M178.0 509.4L167.3 519.4M178.0 509.4L174.1 519.3M178.0 509.4L182.4 521.8M195.8 511.4L188.8 512.3M151.7 510.0L155.9 510.3M151.7 510.0L158.0 510.1M151.7 510.0L158.9 512.7M151.7 510.0L164.7 512.6M151.7 510.0L137.2 514.4M151.7 510.0L159.0 515.8M151.7 510.0L153.2 518.9M151.7 510.0L164.1 519.0M151.7 510.0L158.2 522.2M151.7 510.0L134.3 504.5M155.9 510.3L158.0 510.1M155.9 510.3L168.8 510.3M155.9 510.3L173.9 511.1M155.9 510.3L158.9 512.7M155.9 510.3L164.7 512.6M155.9 510.3L145.8 515.3M155.9 510.3L154.5 516.3M155.9 510.3L159.0 515.8M155.9 510.3L178.8 516.9M155.9 510.3L171.5 517.5M155.9 510.3L164.1 519.0M155.9 510.3L158.2 522.2M155.9 510.3L148.6 523.7M158.0 510.1L168.8 510.3M158.0 510.1L173.9 511.1M158.0 510.1L177.6 512.1M158.0 510.1L158.9 512.7M158.0 510.1L164.7 512.6M158.0 510.1L154.5 516.3M158.0 510.1L159.0 515.8M158.0 510.1L169.2 517.2M158.0 510.1L153.2 518.9M158.0 510.1L164.1 519.0M158.0 510.1L155.6 522.9M168.8 510.3L173.9 511.1M168.8 510.3L177.6 512.1M168.8 510.3L158.9 512.7M168.8 510.3L164.7 512.6M168.8 510.3L159.0 515.8M168.8 510.3L187.3 516.5M168.8 510.3L169.2 517.2M168.8 510.3L171.5 517.5M168.8 510.3L175.3 517.7M168.8 510.3L182.3 517.8M168.8 510.3L153.2 518.9M168.8 510.3L164.1 519.0M168.8 510.3L155.6 522.9M173.9 511.1L177.6 512.1M173.9 511.1L158.9 512.7M173.9 511.1L164.7 512.6M173.9 511.1L187.3 516.5M173.9 511.1L171.5 517.5M173.9 511.1L175.3 517.7M173.9 511.1L182.3 517.8M173.9 511.1L164.1 519.0M173.9 511.1L182.4 521.8M177.6 512.1L158.9 512.7M177.6 512.1L164.7 512.6M177.6 512.1L187.3 516.5M177.6 512.1L178.8 516.9M177.6 512.1L169.2 517.2M177.6 512.1L171.5 517.5M177.6 512.1L175.3 517.7M177.6 512.1L182.3 517.8M177.6 512.1L164.1 519.0M177.6 512.1L174.1 519.3M177.6 512.1L192.8 520.1M177.6 512.1L182.4 521.8M188.8 512.3L187.3 516.5M188.8 512.3L192.8 520.1M188.8 512.3L193.2 522.7M158.9 512.7L164.7 512.6M158.9 512.7L145.8 515.3M158.9 512.7L154.5 516.3M158.9 512.7L159.0 515.8M158.9 512.7L178.8 516.9M158.9 512.7L169.2 517.2M158.9 512.7L182.3 517.8M158.9 512.7L153.2 518.9M158.9 512.7L164.1 519.0M158.9 512.7L167.3 519.4M158.9 512.7L174.1 519.3M158.9 512.7L155.6 522.9M158.9 512.7L158.2 522.2M158.9 512.7L160.5 522.9M158.9 512.7L148.6 523.7M158.9 512.7L164.5 530.3M158.9 512.7L152.6 531.4M164.7 512.6L159.0 515.8M164.7 512.6L178.8 516.9M164.7 512.6L169.2 517.2M164.7 512.6L171.5 517.5M164.7 512.6L182.3 517.8M164.7 512.6L164.1 519.0M164.7 512.6L174.1 519.3M164.7 512.6L167.5 525.5M164.7 512.6L164.5 530.3M145.8 515.3L137.2 514.4M145.8 515.3L154.5 516.3M145.8 515.3L153.2 518.9M145.8 515.3L155.6 522.9M145.8 515.3L138.8 523.9M145.8 515.3L148.6 523.7M145.8 515.3L134.3 504.5M145.8 515.3L135.5 510.2M137.2 514.4L154.5 516.3M137.2 514.4L138.4 519.9M137.2 514.4L155.6 522.9M137.2 514.4L112.6 500.7M137.2 514.4L135.5 510.2M137.2 514.4L118.3 534.6M154.5 516.3L159.0 515.8M154.5 516.3L169.2 517.2M154.5 516.3L153.2 518.9M154.5 516.3L155.6 522.9M154.5 516.3L158.2 522.2M154.5 516.3L160.5 522.9M154.5 516.3L138.8 523.9M154.5 516.3L154.5 525.7M154.5 516.3L167.5 525.5M159.0 515.8L169.2 517.2M159.0 515.8L171.5 517.5M159.0 515.8L153.2 518.9M159.0 515.8L164.1 519.0M159.0 515.8L174.1 519.3M159.0 515.8L138.4 519.9M159.0 515.8L155.6 522.9M159.0 515.8L158.2 522.2M159.0 515.8L148.6 523.7M159.0 515.8L167.5 525.5M159.0 515.8L161.0 529.9M187.3 516.5L178.8 516.9M187.3 516.5L175.3 517.7M187.3 516.5L182.3 517.8M187.3 516.5L174.1 519.3M187.3 516.5L192.8 520.1M187.3 516.5L182.4 521.8M187.3 516.5L193.2 522.7M178.8 516.9L171.5 517.5M178.8 516.9L175.3 517.7M178.8 516.9L182.3 517.8M178.8 516.9L164.1 519.0M178.8 516.9L174.1 519.3M178.8 516.9L182.4 521.8M178.8 516.9L160.5 522.9M178.8 516.9L167.5 525.5M169.2 517.2L171.5 517.5M169.2 517.2L175.3 517.7M169.2 517.2L164.1 519.0M169.2 517.2L167.3 519.4M169.2 517.2L174.1 519.3M169.2 517.2L155.6 522.9M169.2 517.2L154.5 525.7M169.2 517.2L167.5 525.5M169.2 517.2L164.5 530.3M171.5 517.5L175.3 517.7M171.5 517.5L153.2 518.9M171.5 517.5L164.1 519.0M171.5 517.5L167.3 519.4M171.5 517.5L174.1 519.3M171.5 517.5L182.4 521.8M171.5 517.5L148.6 523.7M171.5 517.5L167.5 525.5M171.5 517.5L164.5 530.3M175.3 517.7L182.3 517.8M175.3 517.7L164.1 519.0M175.3 517.7L174.1 519.3M175.3 517.7L182.4 521.8M175.3 517.7L160.5 522.9M175.3 517.7L167.5 525.5M175.3 517.7L178.9 525.8M182.3 517.8L167.3 519.4M182.3 517.8L174.1 519.3M182.3 517.8L192.8 520.1M182.3 517.8L193.2 522.7M153.2 518.9L164.1 519.0M153.2 518.9L174.1 519.3M153.2 518.9L138.4 519.9M153.2 518.9L155.6 522.9M153.2 518.9L158.2 522.2M153.2 518.9L160.5 522.9M153.2 518.9L148.6 523.7M153.2 518.9L143.7 525.4M153.2 518.9L154.5 525.7M153.2 518.9L154.5 534.4M164.1 519.0L167.3 519.4M164.1 519.0L174.1 519.3M164.1 519.0L155.6 522.9M164.1 519.0L158.2 522.2M164.1 519.0L160.5 522.9M164.1 519.0L148.6 523.7M164.1 519.0L167.5 525.5M164.1 519.0L161.0 529.9M167.3 519.4L174.1 519.3M167.3 519.4L155.6 522.9M167.3 519.4L158.2 522.2M167.3 519.4L160.5 522.9M167.3 519.4L154.5 525.7M167.3 519.4L167.5 525.5M167.3 519.4L173.3 526.4M167.3 519.4L164.5 530.3M174.1 519.3L182.4 521.8M174.1 519.3L193.2 522.7M174.1 519.3L158.2 522.2M174.1 519.3L160.5 522.9M174.1 519.3L167.5 525.5M174.1 519.3L173.3 526.4M174.1 519.3L178.9 525.8M174.1 519.3L175.9 533.5M138.4 519.9L155.6 522.9M138.4 519.9L138.8 523.9M138.4 519.9L143.7 525.4M138.4 519.9L118.8 505.9M138.4 519.9L135.5 510.2M138.4 519.9L131.5 525.6M192.8 520.1L193.2 522.7M182.4 521.8L193.2 522.7M182.4 521.8L178.9 525.8M155.6 522.9L158.2 522.2M155.6 522.9L160.5 522.9M155.6 522.9L138.8 523.9M155.6 522.9L148.6 523.7M155.6 522.9L154.5 525.7M155.6 522.9L167.5 525.5M158.2 522.2L160.5 522.9M158.2 522.2L148.6 523.7M158.2 522.2L154.5 525.7M158.2 522.2L173.3 526.4M158.2 522.2L161.0 529.9M160.5 522.9L154.5 525.7M160.5 522.9L167.5 525.5M160.5 522.9L161.0 529.9M160.5 522.9L164.5 530.3M138.8 523.9L148.6 523.7M138.8 523.9L143.7 525.4M138.8 523.9L135.5 510.2M138.8 523.9L131.5 525.6M148.6 523.7L154.5 525.7M148.6 523.7L142.6 531.6M143.7 525.4L142.6 531.6M143.7 525.4L118.8 505.9M143.7 525.4L131.5 525.6M154.5 525.7L142.6 531.6M154.5 525.7L152.6 531.4M154.5 525.7L154.5 534.4M167.5 525.5L161.0 529.9M167.5 525.5L164.5 530.3M167.5 525.5L175.9 533.5M173.3 526.4L178.9 525.8M173.3 526.4L175.9 533.5M161.0 529.9L154.5 534.4M164.5 530.3L154.5 534.4M152.6 531.4L154.5 534.4M154.5 534.4L151.8 557.0M87.4 493.6L90.8 497.7M87.4 493.6L98.5 497.9M87.4 493.6L95.2 502.1M87.4 493.6L112.6 500.7M90.8 497.7L84.0 499.4M90.8 497.7L98.5 497.9M90.8 497.7L95.2 502.1M90.8 497.7L100.7 501.6M90.8 497.7L106.4 497.8M90.8 497.7L112.6 500.7M84.0 499.4L98.5 497.9M84.0 499.4L95.2 502.1M84.7 506.0L95.2 502.1M84.7 506.0L100.7 501.6M98.5 497.9L95.2 502.1M98.5 497.9L100.7 501.6M98.5 497.9L106.4 497.8M98.5 497.9L112.6 500.7M98.5 497.9L116.8 502.3M98.5 497.9L134.3 504.5M95.2 502.1L100.7 501.6M95.2 502.1L112.6 500.7M95.2 502.1L118.8 505.9M95.2 502.1L134.3 504.5M97.4 507.6L100.7 501.6M97.4 507.6L106.4 497.8M97.4 507.6L112.6 500.7M97.4 507.6L118.8 505.9M100.7 501.6L106.4 497.8M100.7 501.6L112.6 500.7M100.7 501.6L116.8 502.3M100.7 501.6L118.8 505.9M106.4 497.8L109.3 495.3M106.4 497.8L112.6 500.7M106.4 497.8L118.8 505.9M106.4 497.8L121.3 497.4M109.3 495.3L112.6 500.7M109.3 495.3L116.8 502.3M109.3 495.3L118.8 505.9M109.3 495.3L121.3 497.4M109.3 495.3L108.9 510.7M109.3 495.3L125.4 492.9M109.3 495.3L135.1 492.3M112.6 500.7L116.8 502.3M112.6 500.7L118.8 505.9M112.6 500.7L134.3 504.5M116.8 502.3L118.8 505.9M116.8 502.3L121.3 497.4M116.8 502.3L134.3 504.5M116.8 502.3L135.5 510.2M118.8 505.9L121.3 497.4M118.8 505.9L108.9 510.7M118.8 505.9L134.3 504.5M118.8 505.9L135.5 510.2M121.3 497.4L125.4 492.9M121.3 497.4L135.1 492.3M121.3 497.4L134.3 504.5M108.9 510.7L134.3 504.5M125.4 492.9L135.1 492.3M125.4 492.9L134.3 504.5M135.1 492.3L134.3 504.5M135.1 492.3L135.5 510.2M134.3 504.5L135.5 510.2M134.3 504.5L131.5 525.6M135.5 510.2L131.5 525.6M131.5 525.6L118.3 534.6" fill="none" stroke="#4e4e4e" stroke-width="0.50"/>
<path d="M131.5 525.5L143.7 525.4" stroke="#4a4a5a" stroke-width="1.10"/>
<g stroke="#141414" stroke-width="0.75">
<circle cx="157.8" cy="457.5" r="3.15" fill="#40aa5a"/>
<circle cx="164.8" cy="460.3" r="3.15" fill="#138b49"/>
<circle cx="163.0" cy="464.6" r="3.15" fill="#19974f"/>
<circle cx="158.6" cy="467.3" r="3.15" fill="#2aa054"/>
<circle cx="160.7" cy="468.2" r="3.15" fill="#3da959"/>
<circle cx="164.3" cy="468.0" r="3.15" fill="#128948"/>
<circle cx="169.7" cy="467.0" r="3.15" fill="#18954e"/>
<circle cx="158.2" cy="470.1" r="3.15" fill="#279e53"/>
<circle cx="162.0" cy="471.9" r="3.15" fill="#39a758"/>
<circle cx="179.6" cy="472.3" r="3.15" fill="#99d369"/>
<circle cx="157.3" cy="474.5" r="3.15" fill="#17934d"/>
<circle cx="167.9" cy="475.1" r="3.15" fill="#249d52"/>
<circle cx="154.8" cy="476.8" r="3.15" fill="#36a657"/>
<circle cx="161.6" cy="477.5" r="3.15" fill="#108546"/>
<circle cx="163.9" cy="479.2" r="3.15" fill="#16914c"/>
<circle cx="174.7" cy="480.3" r="3.15" fill="#dcdcdc"/>
<circle cx="192.4" cy="482.1" r="3.15" fill="#dcdcdc"/>
<circle cx="149.6" cy="482.5" r="3.15" fill="#1f9a51"/>
<circle cx="153.5" cy="484.9" r="3.15" fill="#158e4b"/>
<circle cx="156.8" cy="484.8" r="3.15" fill="#1d9a51"/>
<circle cx="160.2" cy="486.6" r="3.15" fill="#2fa255"/>
<circle cx="162.5" cy="488.0" r="3.15" fill="#08763f"/>
<circle cx="172.7" cy="486.1" r="3.15" fill="#148c4a"/>
<circle cx="173.3" cy="488.3" r="3.15" fill="#1a9850"/>
<circle cx="183.2" cy="486.7" r="3.15" fill="#2ca154"/>
<circle cx="147.4" cy="488.7" r="3.15" fill="#3eaa59"/>
<circle cx="152.5" cy="489.2" r="3.15" fill="#138a49"/>
<circle cx="155.7" cy="489.9" r="3.15" fill="#19964f"/>
<circle cx="159.1" cy="489.5" r="3.15" fill="#299f54"/>
<circle cx="177.7" cy="491.8" r="3.15" fill="#3ba858"/>
<circle cx="151.8" cy="492.3" r="3.15" fill="#118848"/>
<circle cx="156.3" cy="492.7" r="3.15" fill="#18944e"/>
<circle cx="159.2" cy="492.6" r="3.15" fill="#259d53"/>
<circle cx="161.2" cy="492.8" r="3.15" fill="#37a657"/>
<circle cx="144.5" cy="494.1" r="3.15" fill="#108647"/>
<circle cx="172.2" cy="494.6" r="3.15" fill="#16924d"/>
<circle cx="164.4" cy="495.7" r="3.15" fill="#229c52"/>
<circle cx="166.1" cy="496.0" r="3.15" fill="#34a557"/>
<circle cx="169.0" cy="496.4" r="3.15" fill="#0f8446"/>
<circle cx="148.4" cy="496.0" r="3.15" fill="#158f4c"/>
<circle cx="155.9" cy="496.6" r="3.15" fill="#1f9a51"/>
<circle cx="161.6" cy="497.2" r="3.15" fill="#31a356"/>
<circle cx="177.9" cy="496.6" r="3.15" fill="#0e8244"/>
<circle cx="182.5" cy="497.3" r="3.15" fill="#58b660"/>
<circle cx="196.0" cy="497.0" r="3.15" fill="#cfeb84"/>
<circle cx="145.2" cy="497.3" r="3.15" fill="#53b45e"/>
<circle cx="171.5" cy="497.8" r="3.15" fill="#40aa59"/>
<circle cx="159.3" cy="498.5" r="3.15" fill="#138b49"/>
<circle cx="154.3" cy="499.1" r="3.15" fill="#19974f"/>
<circle cx="185.4" cy="499.3" r="3.15" fill="#2aa054"/>
<circle cx="175.2" cy="500.3" r="3.15" fill="#3ca959"/>
<circle cx="158.9" cy="501.0" r="3.15" fill="#128948"/>
<circle cx="162.7" cy="501.4" r="3.15" fill="#62bb62"/>
<circle cx="166.2" cy="502.2" r="3.15" fill="#279e53"/>
<circle cx="197.4" cy="502.0" r="3.15" fill="#cfeb84"/>
<circle cx="152.9" cy="503.4" r="3.15" fill="#118747"/>
<circle cx="158.1" cy="503.5" r="3.15" fill="#17924d"/>
<circle cx="160.8" cy="502.9" r="3.15" fill="#239d52"/>
<circle cx="179.3" cy="503.1" r="3.15" fill="#5cb860"/>
<circle cx="182.7" cy="503.3" r="3.15" fill="#229c52"/>
<circle cx="138.7" cy="505.2" r="3.15" fill="#34a556"/>
<circle cx="144.0" cy="505.3" r="3.15" fill="#6abf63"/>
<circle cx="148.4" cy="505.1" r="3.15" fill="#32a456"/>
<circle cx="168.9" cy="505.1" r="3.15" fill="#1e9a51"/>
<circle cx="176.5" cy="505.4" r="3.15" fill="#158e4b"/>
<circle cx="164.6" cy="506.5" r="3.15" fill="#1d9951"/>
<circle cx="173.0" cy="506.3" r="3.15" fill="#55b55f"/>
<circle cx="168.6" cy="507.9" r="3.15" fill="#0d8144"/>
<circle cx="188.0" cy="507.5" r="3.15" fill="#57b65f"/>
<circle cx="161.7" cy="508.8" r="3.15" fill="#1a9850"/>
<circle cx="183.3" cy="509.1" r="3.15" fill="#72c264"/>
<circle cx="192.8" cy="509.4" r="3.15" fill="#64bc62"/>
<circle cx="137.9" cy="508.8" r="3.15" fill="#2aa054"/>
<circle cx="173.9" cy="509.1" r="3.15" fill="#19954f"/>
<circle cx="178.0" cy="509.4" r="3.15" fill="#289f54"/>
<circle cx="195.8" cy="511.4" r="3.15" fill="#cfeb84"/>
<circle cx="151.7" cy="510.0" r="3.15" fill="#118848"/>
<circle cx="155.9" cy="510.3" r="3.15" fill="#17934e"/>
<circle cx="158.0" cy="510.1" r="3.15" fill="#259d53"/>
<circle cx="168.8" cy="510.3" r="3.15" fill="#37a657"/>
<circle cx="173.9" cy="511.1" r="3.15" fill="#239c52"/>
<circle cx="177.6" cy="512.1" r="3.15" fill="#16914c"/>
<circle cx="188.8" cy="512.3" r="3.15" fill="#dcdcdc"/>
<circle cx="158.9" cy="512.7" r="3.15" fill="#34a456"/>
<circle cx="164.7" cy="512.6" r="3.15" fill="#0f8445"/>
<circle cx="145.8" cy="515.3" r="3.15" fill="#5bb860"/>
<circle cx="137.2" cy="514.4" r="3.15" fill="#69be63"/>
<circle cx="154.5" cy="516.3" r="3.15" fill="#30a356"/>
<circle cx="159.0" cy="515.8" r="3.15" fill="#0e8244"/>
<circle cx="187.3" cy="516.5" r="3.15" fill="#148d4a"/>
<circle cx="178.8" cy="516.9" r="3.15" fill="#1b9850"/>
<circle cx="169.2" cy="517.2" r="3.15" fill="#2da155"/>
<circle cx="171.5" cy="517.5" r="3.15" fill="#3faa59"/>
<circle cx="175.3" cy="517.7" r="3.15" fill="#138b49"/>
<circle cx="182.3" cy="517.8" r="3.15" fill="#19964f"/>
<circle cx="161.2" cy="518.3" r="3.15" fill="#dcdcdc"/>
<circle cx="153.2" cy="518.9" r="3.15" fill="#3ca858"/>
<circle cx="164.1" cy="519.0" r="3.15" fill="#128948"/>
<circle cx="167.3" cy="519.4" r="3.15" fill="#18944e"/>
<circle cx="174.1" cy="519.3" r="3.15" fill="#4cb05d"/>
<circle cx="138.4" cy="519.9" r="3.15" fill="#38a758"/>
<circle cx="192.8" cy="520.1" r="3.15" fill="#50b25e"/>
<circle cx="182.4" cy="521.8" r="3.15" fill="#5fb961"/>
<circle cx="193.2" cy="522.7" r="3.15" fill="#dcdcdc"/>
<circle cx="155.6" cy="522.9" r="3.15" fill="#35a557"/>
<circle cx="158.2" cy="522.2" r="3.15" fill="#0f8546"/>
<circle cx="160.5" cy="522.9" r="3.15" fill="#16904c"/>
<circle cx="138.8" cy="523.9" r="3.15" fill="#99d369"/>
<circle cx="148.6" cy="523.7" r="3.15" fill="#32a456"/>
<circle cx="143.7" cy="525.4" r="3.15" fill="#4bb05c"/>
<circle cx="154.5" cy="525.7" r="3.15" fill="#158e4b"/>
<circle cx="167.5" cy="525.5" r="3.15" fill="#08763f"/>
<circle cx="173.3" cy="526.4" r="3.15" fill="#2ea255"/>
<circle cx="178.9" cy="525.8" r="3.15" fill="#dcdcdc"/>
<circle cx="161.0" cy="529.9" r="3.15" fill="#138c4a"/>
<circle cx="164.5" cy="530.3" r="3.15" fill="#1a9750"/>
<circle cx="142.6" cy="531.6" r="3.15" fill="#dcdcdc"/>
<circle cx="152.6" cy="531.4" r="3.15" fill="#3da959"/>
<circle cx="154.5" cy="534.4" r="3.15" fill="#128a49"/>
<circle cx="175.9" cy="533.5" r="3.15" fill="#08763f"/>
<circle cx="151.8" cy="557.0" r="3.15" fill="#dcdcdc"/>
<circle cx="87.4" cy="493.6" r="3.15" fill="#dcdcdc"/>
<circle cx="90.8" cy="497.7" r="3.15" fill="#dcdcdc"/>
<circle cx="84.0" cy="499.4" r="3.15" fill="#dcdcdc"/>
<circle cx="84.7" cy="506.0" r="3.15" fill="#dcdcdc"/>
<circle cx="98.5" cy="497.9" r="3.15" fill="#08763f"/>
<circle cx="95.2" cy="502.1" r="3.15" fill="#08763f"/>
<circle cx="97.4" cy="507.6" r="3.15" fill="#08763f"/>
<circle cx="100.7" cy="501.6" r="3.15" fill="#1a9850"/>
<circle cx="106.4" cy="497.8" r="3.15" fill="#1a9850"/>
<circle cx="109.3" cy="495.3" r="3.15" fill="#1a9850"/>
<circle cx="112.6" cy="500.7" r="3.15" fill="#1a9850"/>
<circle cx="116.8" cy="502.3" r="3.15" fill="#08763f"/>
<circle cx="118.8" cy="505.9" r="3.15" fill="#1a9850"/>
<circle cx="121.3" cy="497.4" r="3.15" fill="#1a9850"/>
<circle cx="108.9" cy="510.7" r="3.15" fill="#dcdcdc"/>
<circle cx="125.4" cy="492.9" r="3.15" fill="#c5e67e"/>
<circle cx="135.1" cy="492.3" r="3.15" fill="#2ca155"/>
<circle cx="134.3" cy="504.5" r="3.15" fill="#7fc866"/>
<circle cx="135.5" cy="510.2" r="3.15" fill="#55b55f"/>
<circle cx="131.5" cy="525.6" r="3.15" fill="#99d369"/>
<circle cx="118.3" cy="534.6" r="3.15" fill="#dcdcdc"/>
</g></g>
<g>
<clipPath id="c3"><path clip-rule="evenodd" d="M487.0 457.5L491.1 463.3L494.0 460.3L498.9 467.0L497.1 475.1L496.2 484.3L494.9 488.6L495.2 491.1L499.2 489.4L501.4 486.8L501.9 486.1L512.4 486.7L508.7 490.6L506.9 491.8L508.7 492.9L507.7 495.2L507.1 496.6L511.7 497.3L514.6 499.3L525.2 497.0L526.6 502.0L525.9 509.8L525.0 511.4L518.0 512.3L516.0 514.1L516.5 516.5L522.0 520.1L516.4 519.9L511.5 517.8L511.6 521.8L506.4 520.4L503.9 520.1L505.1 533.5L502.5 526.4L496.7 525.5L493.7 530.3L492.2 526.2L490.2 529.9L487.0 525.3L485.4 527.0L483.7 534.4L481.8 531.4L482.5 526.5L477.8 523.7L472.9 525.4L460.7 525.6L461.7 513.8L463.5 504.5L454.6 492.9L464.3 492.3L476.6 488.7L478.8 482.5L484.0 476.8L485.7 474.2L486.5 470.2L486.9 466.7ZM472.8 502.5L475.0 499.6L476.0 501.9ZM469.9 522.9L475.5 520.5L474.5 523.2Z"/></clipPath>
<g fill="rgb(60,62,122)" stroke="none">
<path fill-rule="evenodd" fill-opacity="0.42" d="M487.0 457.5L491.1 463.3L494.0 460.3L498.9 467.0L497.1 475.1L496.2 484.3L494.9 488.6L495.2 491.1L499.2 489.4L501.4 486.8L501.9 486.1L512.4 486.7L508.7 490.6L506.9 491.8L508.7 492.9L507.7 495.2L507.1 496.6L511.7 497.3L514.6 499.3L525.2 497.0L526.6 502.0L525.9 509.8L525.0 511.4L518.0 512.3L516.0 514.1L516.5 516.5L522.0 520.1L516.4 519.9L511.5 517.8L511.6 521.8L506.4 520.4L503.9 520.1L505.1 533.5L502.5 526.4L496.7 525.5L493.7 530.3L492.2 526.2L490.2 529.9L487.0 525.3L485.4 527.0L483.7 534.4L481.8 531.4L482.5 526.5L477.8 523.7L472.9 525.4L460.7 525.6L461.7 513.8L463.5 504.5L454.6 492.9L464.3 492.3L476.6 488.7L478.8 482.5L484.0 476.8L485.7 474.2L486.5 470.2L486.9 466.7ZM472.8 502.5L475.0 499.6L476.0 501.9ZM469.9 522.9L475.5 520.5L474.5 523.2Z"/>
<path fill-opacity="0.26" d="M438.5 495.3L454.6 492.9L464.3 492.3L463.5 504.5Z"/>
<path fill-opacity="0.32" d="M438.5 495.3L454.6 492.9L450.5 497.4L441.8 500.7Z"/>
<path fill-opacity="0.34" d="M438.5 495.3L441.8 500.7L446.0 502.3L448.0 505.9L450.5 497.4Z"/>
<path fill-opacity="0.21" d="M438.5 495.3L448.0 505.9L450.5 497.4Z"/>
<path fill-opacity="0.36" d="M427.7 497.9L441.8 500.7L446.0 502.3L448.0 505.9L429.9 501.6Z"/>
<path fill-opacity="0.34" d="M427.7 497.9L429.9 501.6L426.6 507.6Z"/>
<path fill-opacity="0.34" d="M435.6 497.8L438.5 495.3L441.8 500.7Z"/>
<path fill-opacity="0.21" d="M450.5 497.4L454.6 492.9L463.5 504.5Z"/>
<path fill-opacity="0.31" d="M454.6 492.9L464.3 492.3L476.6 488.7L474.4 497.3L463.5 504.5Z"/>
<path fill-opacity="0.38" d="M484.0 476.8L497.1 475.1L496.2 484.3L494.9 488.6L495.2 491.1L499.2 489.4L501.4 486.8L501.9 486.1L506.9 491.8L507.1 496.6L511.9 503.3L512.5 509.1L511.5 517.8L503.3 519.3L496.7 525.5L483.7 525.7L477.8 523.7L475.0 515.3L473.2 505.3L474.4 497.3L476.6 488.7L478.8 482.5Z"/>
<path fill-opacity="0.34" d="M486.5 474.5L493.1 479.2L495.0 485.1L494.5 488.6L495.0 491.6L501.7 493.7L505.7 500.0L506.7 509.5L503.7 517.3L496.4 521.3L488.0 522.7L482.4 518.7L478.4 511.5L477.4 503.8L477.7 496.0L481.4 489.1L482.7 484.8Z"/>
<path fill-opacity="0.42" d="M487.0 457.5L491.1 463.3L494.0 460.3L498.9 467.0L497.1 475.1L496.2 484.3L491.7 488.0L481.7 489.2L478.8 482.5L484.0 476.8L485.7 474.2L486.5 470.2L486.9 466.7Z"/>
<path fill-opacity="0.30" d="M487.0 457.5L492.2 464.6L494.0 460.3L497.4 467.9L496.4 475.4L493.1 479.2L485.0 477.1L487.2 467.9Z"/>
<path fill-opacity="0.36" d="M511.7 497.3L514.6 499.3L526.6 502.0L522.0 509.4L518.0 512.3L512.5 509.1L511.9 503.3Z"/>
<path fill-opacity="0.27" d="M511.9 503.3L525.2 497.0L526.6 502.0L517.2 507.5Z"/>
<path fill-opacity="0.28" d="M463.5 504.5L473.2 505.3L475.0 515.3L472.9 525.4L468.0 523.9L466.4 514.4Z"/>
<path fill-opacity="0.28" d="M498.9 467.0L508.8 472.3L499.1 469.5Z"/>
<path fill-opacity="0.42" d="M501.9 486.1L512.4 486.7L506.9 491.8L502.5 488.3Z"/>
<g clip-path="url(#c3)">
<path fill-opacity="0.09" d="M487.0 457.5L487.4 470.1L487.8 467.3Z"/>
<path fill-opacity="0.09" d="M487.0 457.5L498.9 467.0L494.0 460.3Z"/>
<path fill-opacity="0.09" d="M487.0 457.5L492.2 464.6L486.5 474.5Z"/>
<path fill-opacity="0.09" d="M494.0 460.3L487.8 467.3L492.2 464.6Z"/>
<path fill-opacity="0.09" d="M494.0 460.3L497.1 475.1L498.9 467.0Z"/>
<path fill-opacity="0.09" d="M494.0 460.3L492.2 464.6L487.0 457.5Z"/>
<path fill-opacity="0.09" d="M492.2 464.6L491.2 471.9L486.5 474.5Z"/>
<path fill-opacity="0.09" d="M492.2 464.6L489.9 468.2L487.8 467.3Z"/>
<path fill-opacity="0.09" d="M492.2 464.6L489.9 468.2L491.2 471.9Z"/>
<path fill-opacity="0.09" d="M487.8 467.3L489.9 468.2L487.4 470.1Z"/>
<path fill-opacity="0.09" d="M487.8 467.3L493.5 468.0L489.9 468.2Z"/>
<path fill-opacity="0.09" d="M487.8 467.3L494.0 460.3L489.9 468.2Z"/>
<path fill-opacity="0.09" d="M489.9 468.2L491.2 471.9L487.8 467.3Z"/>
<path fill-opacity="0.09" d="M489.9 468.2L497.1 475.1L493.5 468.0Z"/>
<path fill-opacity="0.09" d="M489.9 468.2L492.2 464.6L498.9 467.0Z"/>
<path fill-opacity="0.09" d="M493.5 468.0L491.2 471.9L492.2 464.6Z"/>
<path fill-opacity="0.09" d="M493.5 468.0L487.8 467.3L491.2 471.9Z"/>
<path fill-opacity="0.09" d="M493.5 468.0L492.2 464.6L498.9 467.0Z"/>
<path fill-opacity="0.09" d="M498.9 467.0L497.1 475.1L492.2 464.6Z"/>
<path fill-opacity="0.09" d="M498.9 467.0L487.4 470.1L492.2 464.6Z"/>
<path fill-opacity="0.09" d="M498.9 467.0L493.5 468.0L494.0 460.3Z"/>
<path fill-opacity="0.09" d="M487.4 470.1L490.8 477.5L484.0 476.8Z"/>
<path fill-opacity="0.09" d="M487.4 470.1L492.2 464.6L490.8 477.5Z"/>
<path fill-opacity="0.09" d="M487.4 470.1L490.8 477.5L492.2 464.6Z"/>
<path fill-opacity="0.09" d="M491.2 471.9L487.8 467.3L486.5 474.5Z"/>
<path fill-opacity="0.09" d="M491.2 471.9L493.5 468.0L486.5 474.5Z"/>
<path fill-opacity="0.09" d="M491.2 471.9L489.9 468.2L487.8 467.3Z"/>
<path fill-opacity="0.09" d="M508.8 472.3L490.8 477.5L492.2 464.6Z"/>
<path fill-opacity="0.09" d="M508.8 472.3L491.2 471.9L492.2 464.6Z"/>
<path fill-opacity="0.09" d="M508.8 472.3L501.9 486.1L497.1 475.1Z"/>
<path fill-opacity="0.09" d="M486.5 474.5L487.4 470.1L493.1 479.2Z"/>
<path fill-opacity="0.09" d="M486.5 474.5L490.8 477.5L487.8 467.3Z"/>
<path fill-opacity="0.09" d="M486.5 474.5L490.8 477.5L493.5 468.0Z"/>
<path fill-opacity="0.09" d="M497.1 475.1L489.9 468.2L493.1 479.2Z"/>
<path fill-opacity="0.09" d="M497.1 475.1L490.8 477.5L486.5 474.5Z"/>
<path fill-opacity="0.09" d="M497.1 475.1L486.5 474.5L508.8 472.3Z"/>
<path fill-opacity="0.09" d="M484.0 476.8L493.1 479.2L489.9 468.2Z"/>
<path fill-opacity="0.09" d="M484.0 476.8L490.8 477.5L489.9 468.2Z"/>
<path fill-opacity="0.09" d="M484.0 476.8L491.2 471.9L493.1 479.2Z"/>
<path fill-opacity="0.09" d="M490.8 477.5L486.5 474.5L493.1 479.2Z"/>
<path fill-opacity="0.09" d="M490.8 477.5L497.1 475.1L489.4 486.6Z"/>
<path fill-opacity="0.09" d="M490.8 477.5L497.1 475.1L486.0 484.8Z"/>
<path fill-opacity="0.09" d="M493.1 479.2L484.0 476.8L490.8 477.5Z"/>
<path fill-opacity="0.09" d="M493.1 479.2L491.7 488.0L484.0 476.8Z"/>
<path fill-opacity="0.09" d="M493.1 479.2L486.5 474.5L497.1 475.1Z"/>
<path fill-opacity="0.09" d="M478.8 482.5L481.0 492.3L482.7 484.9Z"/>
<path fill-opacity="0.09" d="M478.8 482.5L481.7 489.2L484.0 476.8Z"/>
<path fill-opacity="0.09" d="M478.8 482.5L486.0 484.8L481.7 489.2Z"/>
<path fill-opacity="0.09" d="M482.7 484.9L488.3 489.5L484.0 476.8Z"/>
<path fill-opacity="0.09" d="M482.7 484.9L481.0 492.3L478.8 482.5Z"/>
<path fill-opacity="0.09" d="M482.7 484.9L481.7 489.2L481.0 492.3Z"/>
<path fill-opacity="0.09" d="M486.0 484.8L478.8 482.5L481.7 489.2Z"/>
<path fill-opacity="0.09" d="M486.0 484.8L488.3 489.5L478.8 482.5Z"/>
<path fill-opacity="0.09" d="M486.0 484.8L488.4 492.6L481.7 489.2Z"/>
<path fill-opacity="0.09" d="M489.4 486.6L490.4 492.8L488.4 492.6Z"/>
<path fill-opacity="0.09" d="M489.4 486.6L490.4 492.8L484.9 489.9Z"/>
<path fill-opacity="0.09" d="M489.4 486.6L486.0 484.8L488.3 489.5Z"/>
<path fill-opacity="0.09" d="M491.7 488.0L490.4 492.8L482.7 484.9Z"/>
<path fill-opacity="0.09" d="M491.7 488.0L488.4 492.6L482.7 484.9Z"/>
<path fill-opacity="0.09" d="M491.7 488.0L489.4 486.6L493.6 495.7Z"/>
<path fill-opacity="0.09" d="M501.9 486.1L501.4 494.6L491.7 488.0Z"/>
<path fill-opacity="0.09" d="M501.9 486.1L491.7 488.0L502.5 488.3Z"/>
<path fill-opacity="0.09" d="M501.9 486.1L501.4 494.6L489.4 486.6Z"/>
<path fill-opacity="0.09" d="M502.5 488.3L495.3 496.0L507.1 496.6Z"/>
<path fill-opacity="0.09" d="M502.5 488.3L507.1 496.6L501.4 494.6Z"/>
<path fill-opacity="0.09" d="M502.5 488.3L495.3 496.0L501.9 486.1Z"/>
<path fill-opacity="0.09" d="M512.4 486.7L514.6 499.3L500.7 497.8Z"/>
<path fill-opacity="0.09" d="M512.4 486.7L514.6 499.3L502.5 488.3Z"/>
<path fill-opacity="0.09" d="M476.6 488.7L485.5 492.7L477.6 496.0Z"/>
<path fill-opacity="0.09" d="M476.6 488.7L481.7 489.2L482.7 484.9Z"/>
<path fill-opacity="0.09" d="M476.6 488.7L481.0 492.3L482.7 484.9Z"/>
<path fill-opacity="0.09" d="M481.7 489.2L488.4 492.6L476.6 488.7Z"/>
<path fill-opacity="0.09" d="M481.7 489.2L481.0 492.3L488.3 489.5Z"/>
<path fill-opacity="0.09" d="M481.7 489.2L484.9 489.9L481.0 492.3Z"/>
<path fill-opacity="0.09" d="M484.9 489.9L485.5 492.7L488.3 489.5Z"/>
<path fill-opacity="0.09" d="M484.9 489.9L490.4 492.8L481.7 489.2Z"/>
<path fill-opacity="0.09" d="M484.9 489.9L489.4 486.6L485.5 492.7Z"/>
<path fill-opacity="0.09" d="M488.3 489.5L489.4 486.6L491.7 488.0Z"/>
<path fill-opacity="0.09" d="M488.3 489.5L486.0 484.8L488.4 492.6Z"/>
<path fill-opacity="0.09" d="M488.3 489.5L490.4 492.8L485.5 492.7Z"/>
<path fill-opacity="0.09" d="M506.9 491.8L501.9 486.1L498.2 496.4Z"/>
<path fill-opacity="0.09" d="M506.9 491.8L502.5 488.3L504.4 500.3Z"/>
<path fill-opacity="0.09" d="M506.9 491.8L498.2 496.4L504.4 500.3Z"/>
<path fill-opacity="0.09" d="M481.0 492.3L473.7 494.1L488.3 489.5Z"/>
<path fill-opacity="0.09" d="M481.0 492.3L476.6 488.7L485.5 492.7Z"/>
<path fill-opacity="0.09" d="M481.0 492.3L484.9 489.9L485.5 492.7Z"/>
<path fill-opacity="0.09" d="M485.5 492.7L490.4 492.8L488.3 489.5Z"/>
<path fill-opacity="0.09" d="M485.5 492.7L488.5 498.5L481.0 492.3Z"/>
<path fill-opacity="0.09" d="M485.5 492.7L490.8 497.2L488.4 492.6Z"/>
<path fill-opacity="0.09" d="M488.4 492.6L484.9 489.9L490.8 497.2Z"/>
<path fill-opacity="0.09" d="M488.4 492.6L488.3 489.5L490.4 492.8Z"/>
<path fill-opacity="0.09" d="M488.4 492.6L488.5 498.5L485.1 496.6Z"/>
<path fill-opacity="0.09" d="M490.4 492.8L488.3 489.5L490.8 497.2Z"/>
<path fill-opacity="0.09" d="M490.4 492.8L485.1 496.6L491.7 488.0Z"/>
<path fill-opacity="0.09" d="M490.4 492.8L493.6 495.7L491.7 488.0Z"/>
<path fill-opacity="0.09" d="M473.7 494.1L481.0 492.3L481.7 489.2Z"/>
<path fill-opacity="0.09" d="M473.7 494.1L481.0 492.3L485.5 492.7Z"/>
<path fill-opacity="0.09" d="M473.7 494.1L481.0 492.3L483.5 499.1Z"/>
<path fill-opacity="0.09" d="M501.4 494.6L495.3 496.0L501.9 486.1Z"/>
<path fill-opacity="0.09" d="M501.4 494.6L501.9 486.1L493.6 495.7Z"/>
<path fill-opacity="0.09" d="M501.4 494.6L504.4 500.3L500.7 497.8Z"/>
<path fill-opacity="0.09" d="M493.6 495.7L495.3 496.0L488.5 498.5Z"/>
<path fill-opacity="0.09" d="M493.6 495.7L500.7 497.8L488.5 498.5Z"/>
<path fill-opacity="0.09" d="M493.6 495.7L490.4 492.8L488.4 492.6Z"/>
<path fill-opacity="0.09" d="M495.3 496.0L495.4 502.2L501.4 494.6Z"/>
<path fill-opacity="0.09" d="M495.3 496.0L501.4 494.6L498.2 496.4Z"/>
<path fill-opacity="0.09" d="M495.3 496.0L500.7 497.8L498.2 496.4Z"/>
<path fill-opacity="0.09" d="M498.2 496.4L493.6 495.7L491.9 501.4Z"/>
<path fill-opacity="0.09" d="M498.2 496.4L493.6 495.7L490.8 497.2Z"/>
<path fill-opacity="0.09" d="M498.2 496.4L493.6 495.7L491.9 501.4Z"/>
<path fill-opacity="0.09" d="M477.6 496.0L474.4 497.3L481.7 489.2Z"/>
<path fill-opacity="0.09" d="M477.6 496.0L476.6 488.7L473.7 494.1Z"/>
<path fill-opacity="0.09" d="M477.6 496.0L473.7 494.1L485.5 492.7Z"/>
<path fill-opacity="0.09" d="M485.1 496.6L488.4 492.6L490.4 492.8Z"/>
<path fill-opacity="0.09" d="M485.1 496.6L485.5 492.7L481.0 492.3Z"/>
<path fill-opacity="0.09" d="M485.1 496.6L488.1 501.0L488.5 498.5Z"/>
<path fill-opacity="0.09" d="M490.8 497.2L485.1 496.6L488.4 492.6Z"/>
<path fill-opacity="0.09" d="M490.8 497.2L485.1 496.6L493.6 495.7Z"/>
<path fill-opacity="0.09" d="M490.8 497.2L495.3 496.0L490.0 502.9Z"/>
<path fill-opacity="0.09" d="M507.1 496.6L506.9 491.8L511.7 497.3Z"/>
<path fill-opacity="0.09" d="M507.1 496.6L506.9 491.8L498.2 496.4Z"/>
<path fill-opacity="0.09" d="M507.1 496.6L506.9 491.8L498.2 496.4Z"/>
<path fill-opacity="0.09" d="M511.7 497.3L506.9 491.8L511.9 503.3Z"/>
<path fill-opacity="0.09" d="M511.7 497.3L505.7 505.4L511.9 503.3Z"/>
<path fill-opacity="0.09" d="M511.7 497.3L514.6 499.3L505.7 505.4Z"/>
<path fill-opacity="0.09" d="M525.2 497.0L514.6 499.3L511.7 497.3Z"/>
<path fill-opacity="0.09" d="M525.2 497.0L525.0 511.4L517.2 507.5Z"/>
<path fill-opacity="0.09" d="M525.2 497.0L517.2 507.5L526.6 502.0Z"/>
<path fill-opacity="0.09" d="M474.4 497.3L473.2 505.3L483.5 499.1Z"/>
<path fill-opacity="0.09" d="M474.4 497.3L473.2 505.3L483.5 499.1Z"/>
<path fill-opacity="0.09" d="M474.4 497.3L477.6 505.1L473.2 505.3Z"/>
<path fill-opacity="0.09" d="M500.7 497.8L506.9 491.8L493.6 495.7Z"/>
<path fill-opacity="0.09" d="M500.7 497.8L504.4 500.3L498.2 496.4Z"/>
<path fill-opacity="0.09" d="M500.7 497.8L495.4 502.2L498.1 505.1Z"/>
<path fill-opacity="0.09" d="M488.5 498.5L488.4 492.6L487.3 503.5Z"/>
<path fill-opacity="0.09" d="M488.5 498.5L488.4 492.6L485.1 496.6Z"/>
<path fill-opacity="0.09" d="M488.5 498.5L488.4 492.6L485.1 496.6Z"/>
<path fill-opacity="0.09" d="M483.5 499.1L490.0 502.9L485.1 496.6Z"/>
<path fill-opacity="0.09" d="M483.5 499.1L485.5 492.7L488.1 501.0Z"/>
<path fill-opacity="0.09" d="M483.5 499.1L485.1 496.6L488.1 501.0Z"/>
<path fill-opacity="0.09" d="M514.6 499.3L508.5 503.1L512.5 509.1Z"/>
<path fill-opacity="0.09" d="M514.6 499.3L505.7 505.4L511.9 503.3Z"/>
<path fill-opacity="0.09" d="M514.6 499.3L512.5 509.1L511.7 497.3Z"/>
<path fill-opacity="0.09" d="M504.4 500.3L502.2 506.3L511.7 497.3Z"/>
<path fill-opacity="0.09" d="M504.4 500.3L507.1 496.6L500.7 497.8Z"/>
<path fill-opacity="0.09" d="M504.4 500.3L505.7 505.4L511.9 503.3Z"/>
<path fill-opacity="0.09" d="M488.1 501.0L483.5 499.1L488.5 498.5Z"/>
<path fill-opacity="0.09" d="M488.1 501.0L490.0 502.9L482.1 503.4Z"/>
<path fill-opacity="0.09" d="M488.1 501.0L495.4 502.2L488.5 498.5Z"/>
<path fill-opacity="0.09" d="M491.9 501.4L495.4 502.2L493.6 495.7Z"/>
<path fill-opacity="0.09" d="M491.9 501.4L487.3 503.5L488.5 498.5Z"/>
<path fill-opacity="0.09" d="M491.9 501.4L490.8 497.2L493.6 495.7Z"/>
<path fill-opacity="0.09" d="M495.4 502.2L490.8 497.2L500.7 497.8Z"/>
<path fill-opacity="0.09" d="M495.4 502.2L490.8 497.2L490.0 502.9Z"/>
<path fill-opacity="0.09" d="M495.4 502.2L490.8 497.2L497.8 507.9Z"/>
<path fill-opacity="0.09" d="M526.6 502.0L508.5 503.1L517.2 507.5Z"/>
<path fill-opacity="0.09" d="M526.6 502.0L512.5 509.1L525.0 511.4Z"/>
<path fill-opacity="0.09" d="M526.6 502.0L511.7 497.3L522.0 509.4Z"/>
<path fill-opacity="0.09" d="M482.1 503.4L485.1 496.6L488.5 498.5Z"/>
<path fill-opacity="0.09" d="M482.1 503.4L490.0 502.9L487.3 503.5Z"/>
<path fill-opacity="0.09" d="M482.1 503.4L488.1 501.0L485.1 496.6Z"/>
<path fill-opacity="0.09" d="M487.3 503.5L488.1 501.0L491.9 501.4Z"/>
<path fill-opacity="0.09" d="M487.3 503.5L488.5 498.5L488.1 501.0Z"/>
<path fill-opacity="0.09" d="M487.3 503.5L482.1 503.4L483.5 499.1Z"/>
<path fill-opacity="0.09" d="M490.0 502.9L488.1 501.0L495.4 502.2Z"/>
<path fill-opacity="0.09" d="M490.0 502.9L488.1 501.0L490.9 508.8Z"/>
<path fill-opacity="0.09" d="M490.0 502.9L488.5 498.5L487.3 503.5Z"/>
<path fill-opacity="0.09" d="M508.5 503.1L514.6 499.3L507.1 496.6Z"/>
<path fill-opacity="0.09" d="M508.5 503.1L504.4 500.3L502.2 506.3Z"/>
<path fill-opacity="0.09" d="M508.5 503.1L504.4 500.3L514.6 499.3Z"/>
<path fill-opacity="0.09" d="M511.9 503.3L507.1 496.6L504.4 500.3Z"/>
<path fill-opacity="0.09" d="M511.9 503.3L517.2 507.5L504.4 500.3Z"/>
<path fill-opacity="0.09" d="M511.9 503.3L512.5 509.1L517.2 507.5Z"/>
<path fill-opacity="0.09" d="M467.9 505.2L466.4 514.4L463.5 504.5Z"/>
<path fill-opacity="0.09" d="M467.9 505.2L466.4 514.4L467.1 508.8Z"/>
<path fill-opacity="0.09" d="M467.9 505.2L466.4 514.4L475.0 515.3Z"/>
<path fill-opacity="0.09" d="M473.2 505.3L464.7 510.2L477.6 505.1Z"/>
<path fill-opacity="0.09" d="M473.2 505.3L463.5 504.5L480.9 510.0Z"/>
<path fill-opacity="0.09" d="M473.2 505.3L475.0 515.3L474.4 497.3Z"/>
<path fill-opacity="0.09" d="M477.6 505.1L477.6 496.0L482.1 503.4Z"/>
<path fill-opacity="0.09" d="M477.6 505.1L482.1 503.4L483.5 499.1Z"/>
<path fill-opacity="0.09" d="M477.6 505.1L482.1 503.4L477.6 496.0Z"/>
<path fill-opacity="0.09" d="M498.1 505.1L498.0 510.3L490.9 508.8Z"/>
<path fill-opacity="0.09" d="M498.1 505.1L497.8 507.9L502.2 506.3Z"/>
<path fill-opacity="0.09" d="M498.1 505.1L498.0 510.3L502.2 506.3Z"/>
<path fill-opacity="0.09" d="M505.7 505.4L503.1 511.1L504.4 500.3Z"/>
<path fill-opacity="0.09" d="M505.7 505.4L503.1 511.1L507.2 509.4Z"/>
<path fill-opacity="0.09" d="M505.7 505.4L506.8 512.1L498.1 505.1Z"/>
<path fill-opacity="0.09" d="M493.8 506.5L498.0 510.3L497.8 507.9Z"/>
<path fill-opacity="0.09" d="M493.8 506.5L490.0 502.9L490.9 508.8Z"/>
<path fill-opacity="0.09" d="M493.8 506.5L498.1 505.1L491.9 501.4Z"/>
<path fill-opacity="0.09" d="M502.2 506.3L505.7 505.4L503.1 511.1Z"/>
<path fill-opacity="0.09" d="M502.2 506.3L503.1 509.1L505.7 505.4Z"/>
<path fill-opacity="0.09" d="M502.2 506.3L503.1 511.1L505.7 505.4Z"/>
<path fill-opacity="0.09" d="M497.8 507.9L502.2 506.3L498.1 505.1Z"/>
<path fill-opacity="0.09" d="M497.8 507.9L503.1 509.1L498.1 505.1Z"/>
<path fill-opacity="0.09" d="M497.8 507.9L490.9 508.8L498.0 510.3Z"/>
<path fill-opacity="0.09" d="M517.2 507.5L508.5 503.1L507.2 509.4Z"/>
<path fill-opacity="0.09" d="M517.2 507.5L514.6 499.3L511.9 503.3Z"/>
<path fill-opacity="0.09" d="M517.2 507.5L512.5 509.1L525.0 511.4Z"/>
<path fill-opacity="0.09" d="M490.9 508.8L487.2 510.1L493.9 512.6Z"/>
<path fill-opacity="0.09" d="M490.9 508.8L485.1 510.3L493.8 506.5Z"/>
<path fill-opacity="0.09" d="M490.9 508.8L493.9 512.6L488.1 512.7Z"/>
<path fill-opacity="0.09" d="M512.5 509.1L505.7 505.4L516.5 516.5Z"/>
<path fill-opacity="0.09" d="M512.5 509.1L516.5 516.5L511.9 503.3Z"/>
<path fill-opacity="0.09" d="M512.5 509.1L505.7 505.4L522.0 509.4Z"/>
<path fill-opacity="0.09" d="M522.0 509.4L511.5 517.8L512.5 509.1Z"/>
<path fill-opacity="0.09" d="M522.0 509.4L516.5 516.5L511.9 503.3Z"/>
<path fill-opacity="0.09" d="M522.0 509.4L525.0 511.4L516.5 516.5Z"/>
<path fill-opacity="0.09" d="M467.1 508.8L464.7 510.2L480.9 510.0Z"/>
<path fill-opacity="0.09" d="M467.1 508.8L464.7 510.2L466.4 514.4Z"/>
<path fill-opacity="0.09" d="M467.1 508.8L480.9 510.0L467.6 519.9Z"/>
<path fill-opacity="0.09" d="M503.1 509.1L505.7 505.4L498.1 505.1Z"/>
<path fill-opacity="0.09" d="M503.1 509.1L502.2 506.3L497.8 507.9Z"/>
<path fill-opacity="0.09" d="M503.1 509.1L498.1 505.1L497.8 507.9Z"/>
<path fill-opacity="0.09" d="M507.2 509.4L508.0 516.9L512.5 509.1Z"/>
<path fill-opacity="0.09" d="M507.2 509.4L505.7 505.4L508.0 516.9Z"/>
<path fill-opacity="0.09" d="M507.2 509.4L502.2 506.3L505.7 505.4Z"/>
<path fill-opacity="0.09" d="M525.0 511.4L516.5 516.5L511.5 517.8Z"/>
<path fill-opacity="0.09" d="M525.0 511.4L512.5 509.1L522.0 509.4Z"/>
<path fill-opacity="0.09" d="M525.0 511.4L516.5 516.5L522.0 509.4Z"/>
<path fill-opacity="0.09" d="M480.9 510.0L487.2 510.1L483.7 516.3Z"/>
<path fill-opacity="0.09" d="M480.9 510.0L475.0 515.3L477.6 505.1Z"/>
<path fill-opacity="0.09" d="M480.9 510.0L485.1 510.3L487.2 510.1Z"/>
<path fill-opacity="0.09" d="M485.1 510.3L487.3 503.5L488.2 515.8Z"/>
<path fill-opacity="0.09" d="M485.1 510.3L490.9 508.8L488.2 515.8Z"/>
<path fill-opacity="0.09" d="M485.1 510.3L487.2 510.1L482.1 503.4Z"/>
<path fill-opacity="0.09" d="M487.2 510.1L490.9 508.8L483.7 516.3Z"/>
<path fill-opacity="0.09" d="M487.2 510.1L488.2 515.8L493.8 506.5Z"/>
<path fill-opacity="0.09" d="M487.2 510.1L485.1 510.3L488.2 515.8Z"/>
<path fill-opacity="0.09" d="M498.0 510.3L493.8 506.5L498.4 517.2Z"/>
<path fill-opacity="0.09" d="M498.0 510.3L498.4 517.2L493.8 506.5Z"/>
<path fill-opacity="0.09" d="M498.0 510.3L503.1 509.1L497.8 507.9Z"/>
<path fill-opacity="0.09" d="M503.1 511.1L502.2 506.3L498.0 510.3Z"/>
<path fill-opacity="0.09" d="M503.1 511.1L497.8 507.9L507.2 509.4Z"/>
<path fill-opacity="0.09" d="M503.1 511.1L503.1 509.1L497.8 507.9Z"/>
<path fill-opacity="0.09" d="M506.8 512.1L505.7 505.4L503.1 511.1Z"/>
<path fill-opacity="0.09" d="M506.8 512.1L511.5 517.8L512.5 509.1Z"/>
<path fill-opacity="0.09" d="M506.8 512.1L502.2 506.3L508.0 516.9Z"/>
<path fill-opacity="0.09" d="M488.1 512.7L490.9 508.8L487.2 510.1Z"/>
<path fill-opacity="0.09" d="M488.1 512.7L488.2 515.8L493.9 512.6Z"/>
<path fill-opacity="0.09" d="M488.1 512.7L488.2 515.8L485.1 510.3Z"/>
<path fill-opacity="0.09" d="M493.9 512.6L493.8 506.5L498.0 510.3Z"/>
<path fill-opacity="0.09" d="M493.9 512.6L493.8 506.5L498.0 510.3Z"/>
<path fill-opacity="0.09" d="M493.9 512.6L488.2 515.8L493.3 519.0Z"/>
<path fill-opacity="0.09" d="M475.0 515.3L483.7 516.3L480.9 510.0Z"/>
<path fill-opacity="0.09" d="M475.0 515.3L473.2 505.3L466.4 514.4Z"/>
<path fill-opacity="0.09" d="M475.0 515.3L467.1 508.8L477.8 523.7Z"/>
<path fill-opacity="0.09" d="M466.4 514.4L473.2 505.3L467.6 519.9Z"/>
<path fill-opacity="0.09" d="M466.4 514.4L467.9 505.2L467.6 519.9Z"/>
<path fill-opacity="0.09" d="M466.4 514.4L464.7 510.2L463.5 504.5Z"/>
<path fill-opacity="0.09" d="M483.7 516.3L475.0 515.3L488.1 512.7Z"/>
<path fill-opacity="0.09" d="M483.7 516.3L475.0 515.3L482.4 518.9Z"/>
<path fill-opacity="0.09" d="M483.7 516.3L485.1 510.3L488.2 515.8Z"/>
<path fill-opacity="0.09" d="M488.2 515.8L488.1 512.7L489.7 522.9Z"/>
<path fill-opacity="0.09" d="M488.2 515.8L493.3 519.0L482.4 518.9Z"/>
<path fill-opacity="0.09" d="M488.2 515.8L483.7 516.3L485.1 510.3Z"/>
<path fill-opacity="0.09" d="M516.5 516.5L517.2 507.5L511.5 517.8Z"/>
<path fill-opacity="0.09" d="M516.5 516.5L511.5 517.8L508.0 516.9Z"/>
<path fill-opacity="0.09" d="M516.5 516.5L517.2 507.5L512.5 509.1Z"/>
<path fill-opacity="0.09" d="M508.0 516.9L504.5 517.7L516.5 516.5Z"/>
<path fill-opacity="0.09" d="M508.0 516.9L511.5 517.8L507.2 509.4Z"/>
<path fill-opacity="0.09" d="M508.0 516.9L507.2 509.4L511.5 517.8Z"/>
<path fill-opacity="0.09" d="M498.4 517.2L503.1 511.1L504.5 517.7Z"/>
<path fill-opacity="0.09" d="M498.4 517.2L496.5 519.4L504.5 517.7Z"/>
<path fill-opacity="0.09" d="M498.4 517.2L493.3 519.0L508.0 516.9Z"/>
<path fill-opacity="0.09" d="M500.7 517.5L496.5 519.4L506.8 512.1Z"/>
<path fill-opacity="0.09" d="M500.7 517.5L506.8 512.1L503.1 511.1Z"/>
<path fill-opacity="0.09" d="M500.7 517.5L503.3 519.3L506.8 512.1Z"/>
<path fill-opacity="0.09" d="M504.5 517.7L506.8 512.1L503.3 519.3Z"/>
<path fill-opacity="0.09" d="M504.5 517.7L498.4 517.2L508.0 516.9Z"/>
<path fill-opacity="0.09" d="M504.5 517.7L500.7 517.5L511.5 517.8Z"/>
<path fill-opacity="0.09" d="M511.5 517.8L506.8 512.1L500.7 517.5Z"/>
<path fill-opacity="0.09" d="M511.5 517.8L516.5 516.5L508.0 516.9Z"/>
<path fill-opacity="0.09" d="M511.5 517.8L507.2 509.4L508.0 516.9Z"/>
<path fill-opacity="0.09" d="M482.4 518.9L489.7 522.9L477.8 523.7Z"/>
<path fill-opacity="0.09" d="M482.4 518.9L484.8 522.9L488.2 515.8Z"/>
<path fill-opacity="0.09" d="M482.4 518.9L489.7 522.9L477.8 523.7Z"/>
<path fill-opacity="0.09" d="M493.3 519.0L488.1 512.7L487.4 522.2Z"/>
<path fill-opacity="0.09" d="M493.3 519.0L496.7 525.5L488.1 512.7Z"/>
<path fill-opacity="0.09" d="M493.3 519.0L496.7 525.5L498.4 517.2Z"/>
<path fill-opacity="0.09" d="M496.5 519.4L488.2 515.8L503.3 519.3Z"/>
<path fill-opacity="0.09" d="M496.5 519.4L496.7 525.5L493.3 519.0Z"/>
<path fill-opacity="0.09" d="M496.5 519.4L493.9 512.6L498.4 517.2Z"/>
<path fill-opacity="0.09" d="M503.3 519.3L496.5 519.4L511.6 521.8Z"/>
<path fill-opacity="0.09" d="M503.3 519.3L500.7 517.5L511.6 521.8Z"/>
<path fill-opacity="0.09" d="M503.3 519.3L496.5 519.4L511.5 517.8Z"/>
<path fill-opacity="0.09" d="M467.6 519.9L475.0 515.3L483.7 516.3Z"/>
<path fill-opacity="0.09" d="M467.6 519.9L466.4 514.4L483.7 516.3Z"/>
<path fill-opacity="0.09" d="M467.6 519.9L472.9 525.4L477.8 523.7Z"/>
<path fill-opacity="0.09" d="M522.0 520.1L508.0 516.9L511.6 521.8Z"/>
<path fill-opacity="0.09" d="M522.0 520.1L504.5 517.7L522.0 509.4Z"/>
<path fill-opacity="0.09" d="M522.0 520.1L525.0 511.4L508.0 516.9Z"/>
<path fill-opacity="0.09" d="M511.6 521.8L504.5 517.7L500.7 517.5Z"/>
<path fill-opacity="0.09" d="M511.6 521.8L500.7 517.5L522.0 520.1Z"/>
<path fill-opacity="0.09" d="M511.6 521.8L511.5 517.8L516.5 516.5Z"/>
<path fill-opacity="0.09" d="M484.8 522.9L487.4 522.2L493.3 519.0Z"/>
<path fill-opacity="0.09" d="M484.8 522.9L493.3 519.0L488.2 515.8Z"/>
<path fill-opacity="0.09" d="M484.8 522.9L477.8 523.7L489.7 522.9Z"/>
<path fill-opacity="0.09" d="M487.4 522.2L483.7 516.3L488.2 515.8Z"/>
<path fill-opacity="0.09" d="M487.4 522.2L483.7 516.3L488.2 515.8Z"/>
<path fill-opacity="0.09" d="M487.4 522.2L484.8 522.9L488.2 515.8Z"/>
<path fill-opacity="0.09" d="M489.7 522.9L487.4 522.2L496.5 519.4Z"/>
<path fill-opacity="0.09" d="M489.7 522.9L496.5 519.4L490.2 529.9Z"/>
<path fill-opacity="0.09" d="M489.7 522.9L484.8 522.9L483.7 525.7Z"/>
<path fill-opacity="0.09" d="M468.0 523.9L467.6 519.9L475.0 515.3Z"/>
<path fill-opacity="0.09" d="M468.0 523.9L475.0 515.3L482.4 518.9Z"/>
<path fill-opacity="0.09" d="M468.0 523.9L472.9 525.4L483.7 525.7Z"/>
<path fill-opacity="0.09" d="M477.8 523.7L481.8 531.4L483.7 525.7Z"/>
<path fill-opacity="0.09" d="M477.8 523.7L468.0 523.9L481.8 531.4Z"/>
<path fill-opacity="0.09" d="M477.8 523.7L487.4 522.2L472.9 525.4Z"/>
<path fill-opacity="0.09" d="M472.9 525.4L481.8 531.4L477.8 523.7Z"/>
<path fill-opacity="0.09" d="M472.9 525.4L468.0 523.9L481.8 531.4Z"/>
<path fill-opacity="0.09" d="M472.9 525.4L467.6 519.9L483.7 525.7Z"/>
<path fill-opacity="0.09" d="M483.7 525.7L481.8 531.4L490.2 529.9Z"/>
<path fill-opacity="0.09" d="M483.7 525.7L472.9 525.4L482.4 518.9Z"/>
<path fill-opacity="0.09" d="M483.7 525.7L489.7 522.9L482.4 518.9Z"/>
<path fill-opacity="0.09" d="M496.7 525.5L498.4 517.2L502.5 526.4Z"/>
<path fill-opacity="0.09" d="M496.7 525.5L498.4 517.2L489.7 522.9Z"/>
<path fill-opacity="0.09" d="M496.7 525.5L493.7 530.3L502.5 526.4Z"/>
<path fill-opacity="0.09" d="M502.5 526.4L500.7 517.5L511.6 521.8Z"/>
<path fill-opacity="0.09" d="M502.5 526.4L505.1 533.5L496.5 519.4Z"/>
<path fill-opacity="0.09" d="M502.5 526.4L511.6 521.8L496.7 525.5Z"/>
<path fill-opacity="0.09" d="M490.2 529.9L502.5 526.4L483.7 525.7Z"/>
<path fill-opacity="0.09" d="M490.2 529.9L483.7 525.7L484.8 522.9Z"/>
<path fill-opacity="0.09" d="M490.2 529.9L487.4 522.2L481.8 531.4Z"/>
<path fill-opacity="0.09" d="M493.7 530.3L483.7 534.4L481.8 531.4Z"/>
<path fill-opacity="0.09" d="M493.7 530.3L483.7 534.4L481.8 531.4Z"/>
<path fill-opacity="0.09" d="M493.7 530.3L483.7 525.7L502.5 526.4Z"/>
<path fill-opacity="0.09" d="M481.8 531.4L484.8 522.9L487.4 522.2Z"/>
<path fill-opacity="0.09" d="M481.8 531.4L489.7 522.9L493.7 530.3Z"/>
<path fill-opacity="0.09" d="M481.8 531.4L483.7 525.7L490.2 529.9Z"/>
<path fill-opacity="0.09" d="M483.7 534.4L483.7 525.7L490.2 529.9Z"/>
<path fill-opacity="0.09" d="M483.7 534.4L493.7 530.3L487.4 522.2Z"/>
<path fill-opacity="0.09" d="M483.7 534.4L472.9 525.4L493.7 530.3Z"/>
<path fill-opacity="0.09" d="M505.1 533.5L496.5 519.4L503.3 519.3Z"/>
<path fill-opacity="0.09" d="M505.1 533.5L496.5 519.4L504.5 517.7Z"/>
<path fill-opacity="0.09" d="M505.1 533.5L496.7 525.5L511.6 521.8Z"/>
<path fill-opacity="0.09" d="M464.3 492.3L477.6 496.0L474.4 497.3Z"/>
<path fill-opacity="0.09" d="M464.3 492.3L476.6 488.7L467.9 505.2Z"/>
<path fill-opacity="0.09" d="M464.3 492.3L481.7 489.2L474.4 497.3Z"/>
<path fill-opacity="0.09" d="M463.5 504.5L474.4 497.3L473.2 505.3Z"/>
<path fill-opacity="0.09" d="M463.5 504.5L474.4 497.3L466.4 514.4Z"/>
<path fill-opacity="0.09" d="M463.5 504.5L473.2 505.3L467.9 505.2Z"/>
<path fill-opacity="0.09" d="M464.7 510.2L475.0 515.3L468.0 523.9Z"/>
<path fill-opacity="0.09" d="M464.7 510.2L475.0 515.3L463.5 504.5Z"/>
<path fill-opacity="0.09" d="M464.7 510.2L475.0 515.3L473.2 505.3Z"/>
</g></g>
<path d="M487.0 457.5L494.0 460.3M487.0 457.5L487.8 467.3M487.0 457.5L493.5 468.0M487.0 457.5L487.4 470.1M487.0 457.5L497.1 475.1M487.0 457.5L490.8 477.5M494.0 460.3L492.2 464.6M494.0 460.3L487.8 467.3M494.0 460.3L489.9 468.2M494.0 460.3L493.5 468.0M494.0 460.3L487.4 470.1M494.0 460.3L491.2 471.9M494.0 460.3L486.5 474.5M494.0 460.3L497.1 475.1M494.0 460.3L490.8 477.5M494.0 460.3L482.7 484.9M492.2 464.6L487.8 467.3M492.2 464.6L489.9 468.2M492.2 464.6L493.5 468.0M492.2 464.6L498.9 467.0M492.2 464.6L487.4 470.1M492.2 464.6L491.2 471.9M492.2 464.6L486.5 474.5M492.2 464.6L484.0 476.8M492.2 464.6L493.1 479.2M492.2 464.6L482.7 484.9M492.2 464.6L486.0 484.8M487.8 467.3L489.9 468.2M487.8 467.3L493.5 468.0M487.8 467.3L498.9 467.0M487.8 467.3L487.4 470.1M487.8 467.3L491.2 471.9M487.8 467.3L486.5 474.5M487.8 467.3L497.1 475.1M487.8 467.3L490.8 477.5M487.8 467.3L493.1 479.2M487.8 467.3L482.7 484.9M487.8 467.3L486.0 484.8M489.9 468.2L493.5 468.0M489.9 468.2L498.9 467.0M489.9 468.2L487.4 470.1M489.9 468.2L491.2 471.9M489.9 468.2L486.5 474.5M489.9 468.2L497.1 475.1M489.9 468.2L484.0 476.8M489.9 468.2L490.8 477.5M489.9 468.2L493.1 479.2M489.9 468.2L482.7 484.9M489.9 468.2L486.0 484.8M489.9 468.2L489.4 486.6M489.9 468.2L481.7 489.2M493.5 468.0L498.9 467.0M493.5 468.0L487.4 470.1M493.5 468.0L491.2 471.9M493.5 468.0L486.5 474.5M493.5 468.0L497.1 475.1M493.5 468.0L484.0 476.8M493.5 468.0L482.7 484.9M498.9 467.0L487.4 470.1M498.9 467.0L491.2 471.9M498.9 467.0L508.8 472.3M498.9 467.0L484.0 476.8M498.9 467.0L490.8 477.5M498.9 467.0L493.1 479.2M498.9 467.0L478.8 482.5M498.9 467.0L482.7 484.9M498.9 467.0L486.0 484.8M498.9 467.0L501.9 486.1M498.9 467.0L506.9 491.8M487.4 470.1L491.2 471.9M487.4 470.1L486.5 474.5M487.4 470.1L497.1 475.1M487.4 470.1L493.1 479.2M487.4 470.1L482.7 484.9M487.4 470.1L486.0 484.8M487.4 470.1L488.3 489.5M491.2 471.9L486.5 474.5M491.2 471.9L497.1 475.1M491.2 471.9L484.0 476.8M491.2 471.9L490.8 477.5M491.2 471.9L493.1 479.2M491.2 471.9L478.8 482.5M491.2 471.9L482.7 484.9M491.2 471.9L486.0 484.8M508.8 472.3L497.1 475.1M508.8 472.3L503.9 480.3M508.8 472.3L521.6 482.1M486.5 474.5L497.1 475.1M486.5 474.5L484.0 476.8M486.5 474.5L490.8 477.5M486.5 474.5L493.1 479.2M486.5 474.5L478.8 482.5M486.5 474.5L482.7 484.9M486.5 474.5L486.0 484.8M486.5 474.5L488.4 492.6M486.5 474.5L490.4 492.8M497.1 475.1L484.0 476.8M497.1 475.1L490.8 477.5M497.1 475.1L493.1 479.2M497.1 475.1L478.8 482.5M497.1 475.1L486.0 484.8M497.1 475.1L491.7 488.0M497.1 475.1L501.9 486.1M497.1 475.1L488.3 489.5M497.1 475.1L506.9 491.8M497.1 475.1L490.4 492.8M497.1 475.1L493.6 495.7M484.0 476.8L490.8 477.5M484.0 476.8L493.1 479.2M484.0 476.8L478.8 482.5M484.0 476.8L482.7 484.9M484.0 476.8L486.0 484.8M484.0 476.8L491.7 488.0M484.0 476.8L476.6 488.7M484.0 476.8L481.7 489.2M484.0 476.8L488.3 489.5M484.0 476.8L485.5 492.7M484.0 476.8L473.7 494.1M484.0 476.8L464.3 492.3M490.8 477.5L493.1 479.2M490.8 477.5L478.8 482.5M490.8 477.5L482.7 484.9M490.8 477.5L486.0 484.8M490.8 477.5L489.4 486.6M490.8 477.5L491.7 488.0M490.8 477.5L476.6 488.7M490.8 477.5L488.3 489.5M490.8 477.5L488.4 492.6M490.8 477.5L490.4 492.8M490.8 477.5L493.6 495.7M490.8 477.5L485.1 496.6M493.1 479.2L478.8 482.5M493.1 479.2L482.7 484.9M493.1 479.2L486.0 484.8M493.1 479.2L481.7 489.2M493.1 479.2L490.8 497.2M493.1 479.2L491.9 501.4M503.9 480.3L491.7 488.0M503.9 480.3L501.9 486.1M503.9 480.3L502.5 488.3M503.9 480.3L506.9 491.8M503.9 480.3L490.4 492.8M503.9 480.3L495.3 496.0M521.6 482.1L512.4 486.7M478.8 482.5L482.7 484.9M478.8 482.5L486.0 484.8M478.8 482.5L491.7 488.0M478.8 482.5L481.7 489.2M478.8 482.5L484.9 489.9M478.8 482.5L488.3 489.5M478.8 482.5L481.0 492.3M478.8 482.5L485.5 492.7M478.8 482.5L488.4 492.6M478.8 482.5L490.4 492.8M478.8 482.5L477.6 496.0M478.8 482.5L485.1 496.6M478.8 482.5L474.4 497.3M478.8 482.5L483.5 499.1M482.7 484.9L486.0 484.8M482.7 484.9L489.4 486.6M482.7 484.9L476.6 488.7M482.7 484.9L481.7 489.2M482.7 484.9L484.9 489.9M482.7 484.9L488.3 489.5M482.7 484.9L481.0 492.3M482.7 484.9L485.5 492.7M482.7 484.9L490.4 492.8M482.7 484.9L477.6 496.0M482.7 484.9L500.7 497.8M482.7 484.9L488.5 498.5M482.7 484.9L483.5 499.1M482.7 484.9L495.4 502.2M486.0 484.8L489.4 486.6M486.0 484.8L491.7 488.0M486.0 484.8L476.6 488.7M486.0 484.8L481.7 489.2M486.0 484.8L484.9 489.9M486.0 484.8L488.3 489.5M486.0 484.8L488.4 492.6M486.0 484.8L493.6 495.7M486.0 484.8L477.6 496.0M486.0 484.8L490.8 497.2M486.0 484.8L488.5 498.5M486.0 484.8L483.5 499.1M486.0 484.8L504.4 500.3M489.4 486.6L491.7 488.0M489.4 486.6L481.7 489.2M489.4 486.6L484.9 489.9M489.4 486.6L488.3 489.5M489.4 486.6L481.0 492.3M489.4 486.6L488.4 492.6M489.4 486.6L490.4 492.8M489.4 486.6L473.7 494.1M489.4 486.6L495.3 496.0M489.4 486.6L498.2 496.4M489.4 486.6L485.1 496.6M489.4 486.6L490.8 497.2M489.4 486.6L483.5 499.1M489.4 486.6L504.4 500.3M489.4 486.6L495.4 502.2M489.4 486.6L487.3 503.5M489.4 486.6L498.1 505.1M491.7 488.0L476.6 488.7M491.7 488.0L481.7 489.2M491.7 488.0L484.9 489.9M491.7 488.0L488.3 489.5M491.7 488.0L481.0 492.3M491.7 488.0L485.5 492.7M491.7 488.0L488.4 492.6M491.7 488.0L490.4 492.8M491.7 488.0L493.6 495.7M491.7 488.0L495.3 496.0M491.7 488.0L498.2 496.4M491.7 488.0L485.1 496.6M491.7 488.0L500.7 497.8M491.7 488.0L488.5 498.5M491.7 488.0L504.4 500.3M491.7 488.0L488.1 501.0M491.7 488.0L487.3 503.5M491.7 488.0L498.1 505.1M491.7 488.0L502.2 506.3M501.9 486.1L502.5 488.3M501.9 486.1L506.9 491.8M501.9 486.1L501.4 494.6M501.9 486.1L495.3 496.0M501.9 486.1L507.1 496.6M501.9 486.1L500.7 497.8M501.9 486.1L504.4 500.3M501.9 486.1L495.4 502.2M502.5 488.3L506.9 491.8M502.5 488.3L501.4 494.6M502.5 488.3L493.6 495.7M502.5 488.3L490.8 497.2M502.5 488.3L500.7 497.8M502.5 488.3L491.9 501.4M502.5 488.3L495.4 502.2M502.5 488.3L490.0 502.9M502.5 488.3L511.9 503.3M502.5 488.3L507.2 509.4M512.4 486.7L506.9 491.8M512.4 486.7L501.4 494.6M512.4 486.7L500.7 497.8M476.6 488.7L481.7 489.2M476.6 488.7L488.3 489.5M476.6 488.7L481.0 492.3M476.6 488.7L485.5 492.7M476.6 488.7L473.7 494.1M476.6 488.7L477.6 496.0M476.6 488.7L485.1 496.6M476.6 488.7L474.4 497.3M476.6 488.7L488.1 501.0M476.6 488.7L491.9 501.4M476.6 488.7L464.3 492.3M481.7 489.2L484.9 489.9M481.7 489.2L488.3 489.5M481.7 489.2L481.0 492.3M481.7 489.2L485.5 492.7M481.7 489.2L490.4 492.8M481.7 489.2L493.6 495.7M481.7 489.2L498.2 496.4M481.7 489.2L477.6 496.0M481.7 489.2L490.8 497.2M481.7 489.2L500.7 497.8M481.7 489.2L483.5 499.1M481.7 489.2L488.1 501.0M481.7 489.2L487.2 510.1M484.9 489.9L488.3 489.5M484.9 489.9L481.0 492.3M484.9 489.9L485.5 492.7M484.9 489.9L488.4 492.6M484.9 489.9L490.4 492.8M484.9 489.9L473.7 494.1M484.9 489.9L498.2 496.4M484.9 489.9L485.1 496.6M484.9 489.9L507.1 496.6M484.9 489.9L474.4 497.3M484.9 489.9L488.5 498.5M484.9 489.9L483.5 499.1M484.9 489.9L487.3 503.5M484.9 489.9L490.0 502.9M484.9 489.9L473.2 505.3M484.9 489.9L477.6 505.1M484.9 489.9L498.1 505.1M488.3 489.5L485.5 492.7M488.3 489.5L488.4 492.6M488.3 489.5L490.4 492.8M488.3 489.5L473.7 494.1M488.3 489.5L495.3 496.0M488.3 489.5L485.1 496.6M488.3 489.5L490.8 497.2M488.3 489.5L474.4 497.3M488.3 489.5L488.5 498.5M488.3 489.5L483.5 499.1M488.3 489.5L504.4 500.3M488.3 489.5L482.1 503.4M488.3 489.5L490.0 502.9M488.3 489.5L493.8 506.5M488.3 489.5L485.1 510.3M506.9 491.8L501.4 494.6M506.9 491.8L493.6 495.7M506.9 491.8L498.2 496.4M506.9 491.8L485.1 496.6M506.9 491.8L490.8 497.2M506.9 491.8L507.1 496.6M506.9 491.8L525.2 497.0M506.9 491.8L500.7 497.8M506.9 491.8L488.5 498.5M506.9 491.8L498.1 505.1M506.9 491.8L502.2 506.3M481.0 492.3L485.5 492.7M481.0 492.3L488.4 492.6M481.0 492.3L490.4 492.8M481.0 492.3L473.7 494.1M481.0 492.3L501.4 494.6M481.0 492.3L493.6 495.7M481.0 492.3L477.6 496.0M481.0 492.3L485.1 496.6M481.0 492.3L490.8 497.2M481.0 492.3L500.7 497.8M481.0 492.3L483.5 499.1M481.0 492.3L488.1 501.0M481.0 492.3L493.8 506.5M481.0 492.3L497.8 507.9M481.0 492.3L488.1 512.7M485.5 492.7L488.4 492.6M485.5 492.7L490.4 492.8M485.5 492.7L473.7 494.1M485.5 492.7L501.4 494.6M485.5 492.7L495.3 496.0M485.5 492.7L477.6 496.0M485.5 492.7L485.1 496.6M485.5 492.7L474.4 497.3M485.5 492.7L504.4 500.3M485.5 492.7L488.1 501.0M485.5 492.7L495.4 502.2M485.5 492.7L482.1 503.4M485.5 492.7L487.3 503.5M485.5 492.7L490.0 502.9M485.5 492.7L477.6 505.1M485.5 492.7L493.8 506.5M485.5 492.7L490.9 508.8M488.4 492.6L490.4 492.8M488.4 492.6L473.7 494.1M488.4 492.6L493.6 495.7M488.4 492.6L495.3 496.0M488.4 492.6L477.6 496.0M488.4 492.6L485.1 496.6M488.4 492.6L490.8 497.2M488.4 492.6L474.4 497.3M488.4 492.6L500.7 497.8M488.4 492.6L488.5 498.5M488.4 492.6L488.1 501.0M488.4 492.6L491.9 501.4M488.4 492.6L495.4 502.2M488.4 492.6L490.0 502.9M488.4 492.6L497.8 507.9M488.4 492.6L485.1 510.3M488.4 492.6L487.2 510.1M490.4 492.8L473.7 494.1M490.4 492.8L501.4 494.6M490.4 492.8L493.6 495.7M490.4 492.8L495.3 496.0M490.4 492.8L485.1 496.6M490.4 492.8L490.8 497.2M490.4 492.8L507.1 496.6M490.4 492.8L500.7 497.8M490.4 492.8L488.5 498.5M490.4 492.8L483.5 499.1M490.4 492.8L488.1 501.0M490.4 492.8L491.9 501.4M490.4 492.8L495.4 502.2M490.4 492.8L482.1 503.4M490.4 492.8L490.0 502.9M490.4 492.8L477.6 505.1M490.4 492.8L503.1 509.1M490.4 492.8L498.0 510.3M490.4 492.8L493.9 512.6M473.7 494.1L495.3 496.0M473.7 494.1L477.6 496.0M473.7 494.1L485.1 496.6M473.7 494.1L490.8 497.2M473.7 494.1L474.4 497.3M473.7 494.1L483.5 499.1M473.7 494.1L488.1 501.0M473.7 494.1L487.3 503.5M473.7 494.1L490.0 502.9M473.7 494.1L477.6 505.1M473.7 494.1L493.8 506.5M473.7 494.1L485.1 510.3M473.7 494.1L464.3 492.3M501.4 494.6L493.6 495.7M501.4 494.6L495.3 496.0M501.4 494.6L498.2 496.4M501.4 494.6L485.1 496.6M501.4 494.6L490.8 497.2M501.4 494.6L507.1 496.6M501.4 494.6L500.7 497.8M501.4 494.6L488.5 498.5M501.4 494.6L504.4 500.3M501.4 494.6L488.1 501.0M501.4 494.6L495.4 502.2M501.4 494.6L482.1 503.4M501.4 494.6L508.5 503.1M501.4 494.6L511.9 503.3M501.4 494.6L498.1 505.1M501.4 494.6L505.7 505.4M501.4 494.6L493.8 506.5M501.4 494.6L497.8 507.9M501.4 494.6L503.1 509.1M493.6 495.7L495.3 496.0M493.6 495.7L498.2 496.4M493.6 495.7L485.1 496.6M493.6 495.7L490.8 497.2M493.6 495.7L511.7 497.3M493.6 495.7L500.7 497.8M493.6 495.7L488.5 498.5M493.6 495.7L483.5 499.1M493.6 495.7L488.1 501.0M493.6 495.7L491.9 501.4M493.6 495.7L495.4 502.2M493.6 495.7L490.0 502.9M493.6 495.7L508.5 503.1M493.6 495.7L473.2 505.3M493.6 495.7L477.6 505.1M493.6 495.7L493.8 506.5M493.6 495.7L502.2 506.3M493.6 495.7L503.1 509.1M493.6 495.7L483.7 516.3M495.3 496.0L498.2 496.4M495.3 496.0L485.1 496.6M495.3 496.0L490.8 497.2M495.3 496.0L507.1 496.6M495.3 496.0L500.7 497.8M495.3 496.0L488.5 498.5M495.3 496.0L483.5 499.1M495.3 496.0L514.6 499.3M495.3 496.0L488.1 501.0M495.3 496.0L491.9 501.4M495.3 496.0L495.4 502.2M495.3 496.0L482.1 503.4M495.3 496.0L490.0 502.9M495.3 496.0L508.5 503.1M495.3 496.0L498.1 505.1M495.3 496.0L505.7 505.4M495.3 496.0L502.2 506.3M495.3 496.0L497.8 507.9M495.3 496.0L490.9 508.8M495.3 496.0L507.2 509.4M495.3 496.0L485.1 510.3M495.3 496.0L487.2 510.1M495.3 496.0L503.1 511.1M495.3 496.0L493.9 512.6M498.2 496.4L485.1 496.6M498.2 496.4L490.8 497.2M498.2 496.4L511.7 497.3M498.2 496.4L474.4 497.3M498.2 496.4L500.7 497.8M498.2 496.4L488.5 498.5M498.2 496.4L483.5 499.1M498.2 496.4L504.4 500.3M498.2 496.4L488.1 501.0M498.2 496.4L491.9 501.4M498.2 496.4L495.4 502.2M498.2 496.4L487.3 503.5M498.2 496.4L498.1 505.1M498.2 496.4L505.7 505.4M498.2 496.4L497.8 507.9M498.2 496.4L490.9 508.8M498.2 496.4L487.2 510.1M498.2 496.4L503.1 511.1M477.6 496.0L485.1 496.6M477.6 496.0L490.8 497.2M477.6 496.0L474.4 497.3M477.6 496.0L483.5 499.1M477.6 496.0L488.1 501.0M477.6 496.0L491.9 501.4M477.6 496.0L482.1 503.4M477.6 496.0L487.3 503.5M477.6 496.0L490.0 502.9M477.6 496.0L467.9 505.2M477.6 496.0L485.1 510.3M477.6 496.0L475.0 515.3M477.6 496.0L464.3 492.3M485.1 496.6L490.8 497.2M485.1 496.6L474.4 497.3M485.1 496.6L488.5 498.5M485.1 496.6L483.5 499.1M485.1 496.6L504.4 500.3M485.1 496.6L488.1 501.0M485.1 496.6L491.9 501.4M485.1 496.6L495.4 502.2M485.1 496.6L490.0 502.9M485.1 496.6L473.2 505.3M485.1 496.6L498.1 505.1M485.1 496.6L480.9 510.0M485.1 496.6L485.1 510.3M485.1 496.6L498.0 510.3M485.1 496.6L475.0 515.3M490.8 497.2L511.7 497.3M490.8 497.2L488.5 498.5M490.8 497.2L483.5 499.1M490.8 497.2L488.1 501.0M490.8 497.2L491.9 501.4M490.8 497.2L495.4 502.2M490.8 497.2L482.1 503.4M490.8 497.2L487.3 503.5M490.8 497.2L490.0 502.9M490.8 497.2L473.2 505.3M490.8 497.2L498.1 505.1M490.8 497.2L505.7 505.4M490.8 497.2L490.9 508.8M490.8 497.2L503.1 509.1M490.8 497.2L493.9 512.6M490.8 497.2L483.7 516.3M507.1 496.6L500.7 497.8M507.1 496.6L483.5 499.1M507.1 496.6L514.6 499.3M507.1 496.6L504.4 500.3M507.1 496.6L491.9 501.4M507.1 496.6L487.3 503.5M507.1 496.6L508.5 503.1M507.1 496.6L498.1 505.1M507.1 496.6L505.7 505.4M507.1 496.6L493.8 506.5M507.1 496.6L502.2 506.3M507.1 496.6L490.9 508.8M507.1 496.6L512.5 509.1M507.1 496.6L503.1 509.1M507.1 496.6L507.2 509.4M511.7 497.3L500.7 497.8M511.7 497.3L504.4 500.3M511.7 497.3L511.9 503.3M511.7 497.3L498.1 505.1M511.7 497.3L497.8 507.9M511.7 497.3L517.2 507.5M511.7 497.3L522.0 509.4M511.7 497.3L525.0 511.4M511.7 497.3L503.1 511.1M511.7 497.3L511.5 517.8M525.2 497.0L514.6 499.3M525.2 497.0L511.9 503.3M525.2 497.0L517.2 507.5M525.2 497.0L522.0 509.4M525.2 497.0L525.0 511.4M474.4 497.3L488.5 498.5M474.4 497.3L483.5 499.1M474.4 497.3L477.6 505.1M474.4 497.3L493.8 506.5M474.4 497.3L490.9 508.8M474.4 497.3L480.9 510.0M474.4 497.3L485.1 510.3M474.4 497.3L463.5 504.5M500.7 497.8L488.5 498.5M500.7 497.8L504.4 500.3M500.7 497.8L491.9 501.4M500.7 497.8L495.4 502.2M500.7 497.8L508.5 503.1M500.7 497.8L498.1 505.1M500.7 497.8L502.2 506.3M500.7 497.8L497.8 507.9M500.7 497.8L512.5 509.1M500.7 497.8L503.1 509.1M500.7 497.8L506.8 512.1M500.7 497.8L504.5 517.7M488.5 498.5L483.5 499.1M488.5 498.5L514.6 499.3M488.5 498.5L504.4 500.3M488.5 498.5L488.1 501.0M488.5 498.5L491.9 501.4M488.5 498.5L495.4 502.2M488.5 498.5L482.1 503.4M488.5 498.5L487.3 503.5M488.5 498.5L490.0 502.9M488.5 498.5L477.6 505.1M488.5 498.5L498.1 505.1M488.5 498.5L505.7 505.4M488.5 498.5L493.8 506.5M488.5 498.5L490.9 508.8M488.5 498.5L507.2 509.4M488.5 498.5L485.1 510.3M488.5 498.5L487.2 510.1M488.5 498.5L482.4 518.9M483.5 499.1L488.1 501.0M483.5 499.1L491.9 501.4M483.5 499.1L495.4 502.2M483.5 499.1L482.1 503.4M483.5 499.1L487.3 503.5M483.5 499.1L508.5 503.1M483.5 499.1L473.2 505.3M483.5 499.1L467.1 508.8M483.5 499.1L480.9 510.0M483.5 499.1L498.0 510.3M483.5 499.1L488.1 512.7M514.6 499.3L504.4 500.3M514.6 499.3L526.6 502.0M514.6 499.3L508.5 503.1M514.6 499.3L511.9 503.3M514.6 499.3L505.7 505.4M514.6 499.3L502.2 506.3M514.6 499.3L517.2 507.5M514.6 499.3L512.5 509.1M504.4 500.3L491.9 501.4M504.4 500.3L508.5 503.1M504.4 500.3L511.9 503.3M504.4 500.3L505.7 505.4M504.4 500.3L493.8 506.5M504.4 500.3L502.2 506.3M504.4 500.3L497.8 507.9M504.4 500.3L490.9 508.8M504.4 500.3L485.1 510.3M504.4 500.3L487.2 510.1M504.4 500.3L498.0 510.3M504.4 500.3L506.8 512.1M504.4 500.3L493.9 512.6M504.4 500.3L516.5 516.5M504.4 500.3L508.0 516.9M504.4 500.3L498.4 517.2M504.4 500.3L504.5 517.7M488.1 501.0L491.9 501.4M488.1 501.0L482.1 503.4M488.1 501.0L487.3 503.5M488.1 501.0L490.0 502.9M488.1 501.0L467.9 505.2M488.1 501.0L477.6 505.1M488.1 501.0L498.1 505.1M488.1 501.0L493.8 506.5M488.1 501.0L502.2 506.3M488.1 501.0L497.8 507.9M488.1 501.0L490.9 508.8M488.1 501.0L503.1 509.1M488.1 501.0L507.2 509.4M488.1 501.0L480.9 510.0M488.1 501.0L485.1 510.3M488.1 501.0L498.0 510.3M488.1 501.0L488.1 512.7M488.1 501.0L483.7 516.3M488.1 501.0L488.2 515.8M488.1 501.0L498.4 517.2M491.9 501.4L495.4 502.2M491.9 501.4L482.1 503.4M491.9 501.4L487.3 503.5M491.9 501.4L490.0 502.9M491.9 501.4L508.5 503.1M491.9 501.4L511.9 503.3M491.9 501.4L473.2 505.3M491.9 501.4L477.6 505.1M491.9 501.4L498.1 505.1M491.9 501.4L493.8 506.5M491.9 501.4L502.2 506.3M491.9 501.4L497.8 507.9M491.9 501.4L490.9 508.8M491.9 501.4L503.1 509.1M491.9 501.4L485.1 510.3M491.9 501.4L487.2 510.1M491.9 501.4L498.0 510.3M491.9 501.4L503.1 511.1M491.9 501.4L488.1 512.7M491.9 501.4L498.4 517.2M491.9 501.4L493.3 519.0M495.4 502.2L482.1 503.4M495.4 502.2L487.3 503.5M495.4 502.2L490.0 502.9M495.4 502.2L508.5 503.1M495.4 502.2L511.9 503.3M495.4 502.2L477.6 505.1M495.4 502.2L498.1 505.1M495.4 502.2L493.8 506.5M495.4 502.2L502.2 506.3M495.4 502.2L497.8 507.9M495.4 502.2L503.1 509.1M495.4 502.2L507.2 509.4M495.4 502.2L487.2 510.1M495.4 502.2L498.0 510.3M495.4 502.2L503.1 511.1M495.4 502.2L488.1 512.7M495.4 502.2L500.7 517.5M526.6 502.0L511.9 503.3M526.6 502.0L517.2 507.5M526.6 502.0L522.0 509.4M526.6 502.0L525.0 511.4M482.1 503.4L487.3 503.5M482.1 503.4L490.0 502.9M482.1 503.4L467.9 505.2M482.1 503.4L473.2 505.3M482.1 503.4L477.6 505.1M482.1 503.4L498.1 505.1M482.1 503.4L502.2 506.3M482.1 503.4L467.1 508.8M482.1 503.4L503.1 509.1M482.1 503.4L480.9 510.0M482.1 503.4L487.2 510.1M482.1 503.4L503.1 511.1M482.1 503.4L488.1 512.7M482.1 503.4L488.2 515.8M482.1 503.4L482.4 518.9M482.1 503.4L467.6 519.9M482.1 503.4L446.0 502.3M487.3 503.5L490.0 502.9M487.3 503.5L508.5 503.1M487.3 503.5L473.2 505.3M487.3 503.5L477.6 505.1M487.3 503.5L498.1 505.1M487.3 503.5L505.7 505.4M487.3 503.5L493.8 506.5M487.3 503.5L497.8 507.9M487.3 503.5L490.9 508.8M487.3 503.5L467.1 508.8M487.3 503.5L480.9 510.0M487.3 503.5L485.1 510.3M487.3 503.5L498.0 510.3M487.3 503.5L493.9 512.6M487.3 503.5L475.0 515.3M487.3 503.5L498.4 517.2M487.3 503.5L500.7 517.5M487.3 503.5L482.4 518.9M487.3 503.5L496.5 519.4M487.3 503.5L487.4 522.2M490.0 502.9L477.6 505.1M490.0 502.9L498.1 505.1M490.0 502.9L505.7 505.4M490.0 502.9L493.8 506.5M490.0 502.9L490.9 508.8M490.0 502.9L503.1 509.1M490.0 502.9L485.1 510.3M490.0 502.9L487.2 510.1M490.0 502.9L503.1 511.1M490.0 502.9L488.1 512.7M490.0 502.9L493.9 512.6M490.0 502.9L483.7 516.3M490.0 502.9L498.4 517.2M490.0 502.9L489.7 522.9M508.5 503.1L511.9 503.3M508.5 503.1L498.1 505.1M508.5 503.1L505.7 505.4M508.5 503.1L493.8 506.5M508.5 503.1L502.2 506.3M508.5 503.1L497.8 507.9M508.5 503.1L517.2 507.5M508.5 503.1L512.5 509.1M508.5 503.1L503.1 509.1M508.5 503.1L507.2 509.4M508.5 503.1L498.0 510.3M508.5 503.1L506.8 512.1M508.5 503.1L516.5 516.5M508.5 503.1L508.0 516.9M508.5 503.1L504.5 517.7M508.5 503.1L496.5 519.4M511.9 503.3L498.1 505.1M511.9 503.3L505.7 505.4M511.9 503.3L502.2 506.3M511.9 503.3L497.8 507.9M511.9 503.3L517.2 507.5M511.9 503.3L512.5 509.1M511.9 503.3L507.2 509.4M511.9 503.3L525.0 511.4M511.9 503.3L498.0 510.3M511.9 503.3L506.8 512.1M511.9 503.3L493.9 512.6M511.9 503.3L516.5 516.5M511.9 503.3L500.7 517.5M511.9 503.3L503.3 519.3M467.9 505.2L473.2 505.3M467.9 505.2L467.1 508.8M467.9 505.2L480.9 510.0M467.9 505.2L483.7 516.3M467.9 505.2L429.9 501.6M467.9 505.2L435.6 497.8M467.9 505.2L441.8 500.7M467.9 505.2L448.0 505.9M467.9 505.2L454.6 492.9M467.9 505.2L464.3 492.3M467.9 505.2L463.5 504.5M467.9 505.2L464.7 510.2M473.2 505.3L477.6 505.1M473.2 505.3L498.1 505.1M473.2 505.3L467.1 508.8M473.2 505.3L480.9 510.0M473.2 505.3L487.2 510.1M473.2 505.3L475.0 515.3M473.2 505.3L466.4 514.4M473.2 505.3L438.5 495.3M473.2 505.3L446.0 502.3M473.2 505.3L448.0 505.9M473.2 505.3L464.3 492.3M473.2 505.3L463.5 504.5M473.2 505.3L464.7 510.2M477.6 505.1L498.1 505.1M477.6 505.1L493.8 506.5M477.6 505.1L497.8 507.9M477.6 505.1L490.9 508.8M477.6 505.1L480.9 510.0M477.6 505.1L485.1 510.3M477.6 505.1L487.2 510.1M477.6 505.1L466.4 514.4M477.6 505.1L483.7 516.3M477.6 505.1L488.2 515.8M477.6 505.1L482.4 518.9M477.6 505.1L467.6 519.9M477.6 505.1L448.0 505.9M498.1 505.1L505.7 505.4M498.1 505.1L493.8 506.5M498.1 505.1L502.2 506.3M498.1 505.1L497.8 507.9M498.1 505.1L490.9 508.8M498.1 505.1L512.5 509.1M498.1 505.1L503.1 509.1M498.1 505.1L507.2 509.4M498.1 505.1L487.2 510.1M498.1 505.1L498.0 510.3M498.1 505.1L506.8 512.1M498.1 505.1L488.1 512.7M498.1 505.1L493.9 512.6M498.1 505.1L488.2 515.8M498.1 505.1L498.4 517.2M498.1 505.1L503.3 519.3M505.7 505.4L493.8 506.5M505.7 505.4L502.2 506.3M505.7 505.4L497.8 507.9M505.7 505.4L490.9 508.8M505.7 505.4L522.0 509.4M505.7 505.4L503.1 509.1M505.7 505.4L507.2 509.4M505.7 505.4L485.1 510.3M505.7 505.4L498.0 510.3M505.7 505.4L503.1 511.1M505.7 505.4L488.1 512.7M505.7 505.4L493.9 512.6M505.7 505.4L508.0 516.9M505.7 505.4L498.4 517.2M505.7 505.4L504.5 517.7M505.7 505.4L493.3 519.0M505.7 505.4L503.3 519.3M493.8 506.5L502.2 506.3M493.8 506.5L497.8 507.9M493.8 506.5L490.9 508.8M493.8 506.5L480.9 510.0M493.8 506.5L487.2 510.1M493.8 506.5L498.0 510.3M493.8 506.5L503.1 511.1M493.8 506.5L488.1 512.7M493.8 506.5L493.9 512.6M493.8 506.5L483.7 516.3M493.8 506.5L488.2 515.8M493.8 506.5L500.7 517.5M493.8 506.5L482.4 518.9M493.8 506.5L496.5 519.4M493.8 506.5L503.3 519.3M502.2 506.3L497.8 507.9M502.2 506.3L517.2 507.5M502.2 506.3L490.9 508.8M502.2 506.3L512.5 509.1M502.2 506.3L503.1 509.1M502.2 506.3L507.2 509.4M502.2 506.3L485.1 510.3M502.2 506.3L487.2 510.1M502.2 506.3L498.0 510.3M502.2 506.3L503.1 511.1M502.2 506.3L506.8 512.1M502.2 506.3L493.9 512.6M502.2 506.3L483.7 516.3M502.2 506.3L498.4 517.2M502.2 506.3L493.3 519.0M497.8 507.9L490.9 508.8M497.8 507.9L503.1 509.1M497.8 507.9L480.9 510.0M497.8 507.9L485.1 510.3M497.8 507.9L498.0 510.3M497.8 507.9L503.1 511.1M497.8 507.9L506.8 512.1M497.8 507.9L493.9 512.6M497.8 507.9L483.7 516.3M497.8 507.9L498.4 517.2M497.8 507.9L500.7 517.5M497.8 507.9L493.3 519.0M497.8 507.9L496.5 519.4M497.8 507.9L503.3 519.3M497.8 507.9L511.6 521.8M497.8 507.9L496.7 525.5M517.2 507.5L512.5 509.1M517.2 507.5L522.0 509.4M517.2 507.5L503.1 509.1M517.2 507.5L507.2 509.4M517.2 507.5L503.1 511.1M517.2 507.5L506.8 512.1M517.2 507.5L518.0 512.3M517.2 507.5L511.5 517.8M490.9 508.8L503.1 509.1M490.9 508.8L480.9 510.0M490.9 508.8L485.1 510.3M490.9 508.8L487.2 510.1M490.9 508.8L498.0 510.3M490.9 508.8L506.8 512.1M490.9 508.8L488.1 512.7M490.9 508.8L493.9 512.6M490.9 508.8L475.0 515.3M490.9 508.8L488.2 515.8M490.9 508.8L500.7 517.5M490.9 508.8L504.5 517.7M490.9 508.8L482.4 518.9M490.9 508.8L496.5 519.4M490.9 508.8L503.3 519.3M490.9 508.8L487.4 522.2M490.9 508.8L496.7 525.5M512.5 509.1L522.0 509.4M512.5 509.1L503.1 509.1M512.5 509.1L507.2 509.4M512.5 509.1L498.0 510.3M512.5 509.1L503.1 511.1M512.5 509.1L506.8 512.1M512.5 509.1L518.0 512.3M512.5 509.1L508.0 516.9M512.5 509.1L511.5 517.8M512.5 509.1L493.3 519.0M522.0 509.4L525.0 511.4M522.0 509.4L503.1 511.1M522.0 509.4L518.0 512.3M522.0 509.4L504.5 517.7M467.1 508.8L480.9 510.0M467.1 508.8L485.1 510.3M467.1 508.8L487.2 510.1M467.1 508.8L475.0 515.3M467.1 508.8L466.4 514.4M467.1 508.8L467.6 519.9M467.1 508.8L438.1 510.7M467.1 508.8L463.5 504.5M467.1 508.8L464.7 510.2M503.1 509.1L507.2 509.4M503.1 509.1L485.1 510.3M503.1 509.1L498.0 510.3M503.1 509.1L503.1 511.1M503.1 509.1L506.8 512.1M503.1 509.1L488.1 512.7M503.1 509.1L483.7 516.3M503.1 509.1L488.2 515.8M503.1 509.1L498.4 517.2M503.1 509.1L500.7 517.5M503.1 509.1L511.6 521.8M503.1 509.1L502.5 526.4M507.2 509.4L503.1 511.1M507.2 509.4L506.8 512.1M507.2 509.4L518.0 512.3M507.2 509.4L493.9 512.6M507.2 509.4L483.7 516.3M507.2 509.4L516.5 516.5M507.2 509.4L508.0 516.9M507.2 509.4L500.7 517.5M507.2 509.4L504.5 517.7M507.2 509.4L511.5 517.8M507.2 509.4L493.3 519.0M507.2 509.4L496.5 519.4M507.2 509.4L503.3 519.3M507.2 509.4L511.6 521.8M525.0 511.4L518.0 512.3M480.9 510.0L485.1 510.3M480.9 510.0L487.2 510.1M480.9 510.0L488.1 512.7M480.9 510.0L493.9 512.6M480.9 510.0L466.4 514.4M480.9 510.0L488.2 515.8M480.9 510.0L482.4 518.9M480.9 510.0L493.3 519.0M480.9 510.0L487.4 522.2M480.9 510.0L463.5 504.5M485.1 510.3L487.2 510.1M485.1 510.3L498.0 510.3M485.1 510.3L503.1 511.1M485.1 510.3L488.1 512.7M485.1 510.3L493.9 512.6M485.1 510.3L475.0 515.3M485.1 510.3L483.7 516.3M485.1 510.3L488.2 515.8M485.1 510.3L508.0 516.9M485.1 510.3L500.7 517.5M485.1 510.3L493.3 519.0M485.1 510.3L487.4 522.2M485.1 510.3L477.8 523.7M487.2 510.1L498.0 510.3M487.2 510.1L503.1 511.1M487.2 510.1L506.8 512.1M487.2 510.1L488.1 512.7M487.2 510.1L493.9 512.6M487.2 510.1L483.7 516.3M487.2 510.1L488.2 515.8M487.2 510.1L498.4 517.2M487.2 510.1L482.4 518.9M487.2 510.1L493.3 519.0M487.2 510.1L484.8 522.9M498.0 510.3L503.1 511.1M498.0 510.3L506.8 512.1M498.0 510.3L488.1 512.7M498.0 510.3L493.9 512.6M498.0 510.3L488.2 515.8M498.0 510.3L516.5 516.5M498.0 510.3L498.4 517.2M498.0 510.3L500.7 517.5M498.0 510.3L504.5 517.7M498.0 510.3L511.5 517.8M498.0 510.3L482.4 518.9M498.0 510.3L493.3 519.0M498.0 510.3L484.8 522.9M503.1 511.1L506.8 512.1M503.1 511.1L488.1 512.7M503.1 511.1L493.9 512.6M503.1 511.1L516.5 516.5M503.1 511.1L500.7 517.5M503.1 511.1L504.5 517.7M503.1 511.1L511.5 517.8M503.1 511.1L493.3 519.0M503.1 511.1L511.6 521.8M506.8 512.1L488.1 512.7M506.8 512.1L493.9 512.6M506.8 512.1L516.5 516.5M506.8 512.1L508.0 516.9M506.8 512.1L498.4 517.2M506.8 512.1L500.7 517.5M506.8 512.1L504.5 517.7M506.8 512.1L511.5 517.8M506.8 512.1L493.3 519.0M506.8 512.1L503.3 519.3M506.8 512.1L522.0 520.1M506.8 512.1L511.6 521.8M518.0 512.3L516.5 516.5M518.0 512.3L522.0 520.1M518.0 512.3L522.4 522.7M488.1 512.7L493.9 512.6M488.1 512.7L475.0 515.3M488.1 512.7L483.7 516.3M488.1 512.7L488.2 515.8M488.1 512.7L508.0 516.9M488.1 512.7L498.4 517.2M488.1 512.7L511.5 517.8M488.1 512.7L482.4 518.9M488.1 512.7L493.3 519.0M488.1 512.7L496.5 519.4M488.1 512.7L503.3 519.3M488.1 512.7L484.8 522.9M488.1 512.7L487.4 522.2M488.1 512.7L489.7 522.9M488.1 512.7L477.8 523.7M488.1 512.7L493.7 530.3M488.1 512.7L481.8 531.4M493.9 512.6L488.2 515.8M493.9 512.6L508.0 516.9M493.9 512.6L498.4 517.2M493.9 512.6L500.7 517.5M493.9 512.6L511.5 517.8M493.9 512.6L493.3 519.0M493.9 512.6L503.3 519.3M493.9 512.6L496.7 525.5M493.9 512.6L493.7 530.3M475.0 515.3L466.4 514.4M475.0 515.3L483.7 516.3M475.0 515.3L482.4 518.9M475.0 515.3L484.8 522.9M475.0 515.3L468.0 523.9M475.0 515.3L477.8 523.7M475.0 515.3L463.5 504.5M475.0 515.3L464.7 510.2M466.4 514.4L483.7 516.3M466.4 514.4L467.6 519.9M466.4 514.4L484.8 522.9M466.4 514.4L441.8 500.7M466.4 514.4L464.7 510.2M466.4 514.4L447.5 534.6M483.7 516.3L488.2 515.8M483.7 516.3L498.4 517.2M483.7 516.3L482.4 518.9M483.7 516.3L484.8 522.9M483.7 516.3L487.4 522.2M483.7 516.3L489.7 522.9M483.7 516.3L468.0 523.9M483.7 516.3L483.7 525.7M483.7 516.3L496.7 525.5M488.2 515.8L498.4 517.2M488.2 515.8L500.7 517.5M488.2 515.8L482.4 518.9M488.2 515.8L493.3 519.0M488.2 515.8L503.3 519.3M488.2 515.8L467.6 519.9M488.2 515.8L484.8 522.9M488.2 515.8L487.4 522.2M488.2 515.8L477.8 523.7M488.2 515.8L496.7 525.5M488.2 515.8L490.2 529.9M516.5 516.5L508.0 516.9M516.5 516.5L504.5 517.7M516.5 516.5L511.5 517.8M516.5 516.5L503.3 519.3M516.5 516.5L522.0 520.1M516.5 516.5L511.6 521.8M516.5 516.5L522.4 522.7M508.0 516.9L500.7 517.5M508.0 516.9L504.5 517.7M508.0 516.9L511.5 517.8M508.0 516.9L493.3 519.0M508.0 516.9L503.3 519.3M508.0 516.9L511.6 521.8M508.0 516.9L489.7 522.9M508.0 516.9L496.7 525.5M498.4 517.2L500.7 517.5M498.4 517.2L504.5 517.7M498.4 517.2L493.3 519.0M498.4 517.2L496.5 519.4M498.4 517.2L503.3 519.3M498.4 517.2L484.8 522.9M498.4 517.2L483.7 525.7M498.4 517.2L496.7 525.5M498.4 517.2L493.7 530.3M500.7 517.5L504.5 517.7M500.7 517.5L482.4 518.9M500.7 517.5L493.3 519.0M500.7 517.5L496.5 519.4M500.7 517.5L503.3 519.3M500.7 517.5L511.6 521.8M500.7 517.5L477.8 523.7M500.7 517.5L496.7 525.5M500.7 517.5L493.7 530.3M504.5 517.7L511.5 517.8M504.5 517.7L493.3 519.0M504.5 517.7L503.3 519.3M504.5 517.7L511.6 521.8M504.5 517.7L489.7 522.9M504.5 517.7L496.7 525.5M504.5 517.7L508.1 525.8M511.5 517.8L496.5 519.4M511.5 517.8L503.3 519.3M511.5 517.8L522.0 520.1M511.5 517.8L522.4 522.7M482.4 518.9L493.3 519.0M482.4 518.9L503.3 519.3M482.4 518.9L467.6 519.9M482.4 518.9L484.8 522.9M482.4 518.9L487.4 522.2M482.4 518.9L489.7 522.9M482.4 518.9L477.8 523.7M482.4 518.9L472.9 525.4M482.4 518.9L483.7 525.7M482.4 518.9L483.7 534.4M493.3 519.0L496.5 519.4M493.3 519.0L503.3 519.3M493.3 519.0L484.8 522.9M493.3 519.0L487.4 522.2M493.3 519.0L489.7 522.9M493.3 519.0L477.8 523.7M493.3 519.0L496.7 525.5M493.3 519.0L490.2 529.9M496.5 519.4L503.3 519.3M496.5 519.4L484.8 522.9M496.5 519.4L487.4 522.2M496.5 519.4L489.7 522.9M496.5 519.4L483.7 525.7M496.5 519.4L496.7 525.5M496.5 519.4L502.5 526.4M496.5 519.4L493.7 530.3M503.3 519.3L511.6 521.8M503.3 519.3L522.4 522.7M503.3 519.3L487.4 522.2M503.3 519.3L489.7 522.9M503.3 519.3L496.7 525.5M503.3 519.3L502.5 526.4M503.3 519.3L508.1 525.8M503.3 519.3L505.1 533.5M467.6 519.9L484.8 522.9M467.6 519.9L468.0 523.9M467.6 519.9L472.9 525.4M467.6 519.9L448.0 505.9M467.6 519.9L464.7 510.2M467.6 519.9L460.7 525.6M522.0 520.1L522.4 522.7M511.6 521.8L522.4 522.7M511.6 521.8L508.1 525.8M484.8 522.9L487.4 522.2M484.8 522.9L489.7 522.9M484.8 522.9L468.0 523.9M484.8 522.9L477.8 523.7M484.8 522.9L483.7 525.7M484.8 522.9L496.7 525.5M487.4 522.2L489.7 522.9M487.4 522.2L477.8 523.7M487.4 522.2L483.7 525.7M487.4 522.2L502.5 526.4M487.4 522.2L490.2 529.9M489.7 522.9L483.7 525.7M489.7 522.9L496.7 525.5M489.7 522.9L490.2 529.9M489.7 522.9L493.7 530.3M468.0 523.9L477.8 523.7M468.0 523.9L472.9 525.4M468.0 523.9L464.7 510.2M468.0 523.9L460.7 525.6M477.8 523.7L483.7 525.7M477.8 523.7L471.8 531.6M472.9 525.4L471.8 531.6M472.9 525.4L448.0 505.9M472.9 525.4L460.7 525.6M483.7 525.7L471.8 531.6M483.7 525.7L481.8 531.4M483.7 525.7L483.7 534.4M496.7 525.5L490.2 529.9M496.7 525.5L493.7 530.3M496.7 525.5L505.1 533.5M502.5 526.4L508.1 525.8M502.5 526.4L505.1 533.5M490.2 529.9L483.7 534.4M493.7 530.3L483.7 534.4M481.8 531.4L483.7 534.4M483.7 534.4L481.0 557.0M416.6 493.6L420.0 497.7M416.6 493.6L427.7 497.9M416.6 493.6L424.4 502.1M416.6 493.6L441.8 500.7M420.0 497.7L413.2 499.4M420.0 497.7L427.7 497.9M420.0 497.7L424.4 502.1M420.0 497.7L429.9 501.6M420.0 497.7L435.6 497.8M420.0 497.7L441.8 500.7M413.2 499.4L427.7 497.9M413.2 499.4L424.4 502.1M413.9 506.0L424.4 502.1M413.9 506.0L429.9 501.6M427.7 497.9L424.4 502.1M427.7 497.9L429.9 501.6M427.7 497.9L435.6 497.8M427.7 497.9L441.8 500.7M427.7 497.9L446.0 502.3M427.7 497.9L463.5 504.5M424.4 502.1L429.9 501.6M424.4 502.1L441.8 500.7M424.4 502.1L448.0 505.9M424.4 502.1L463.5 504.5M426.6 507.6L429.9 501.6M426.6 507.6L435.6 497.8M426.6 507.6L441.8 500.7M426.6 507.6L448.0 505.9M429.9 501.6L435.6 497.8M429.9 501.6L441.8 500.7M429.9 501.6L446.0 502.3M429.9 501.6L448.0 505.9M435.6 497.8L438.5 495.3M435.6 497.8L441.8 500.7M435.6 497.8L448.0 505.9M435.6 497.8L450.5 497.4M438.5 495.3L441.8 500.7M438.5 495.3L446.0 502.3M438.5 495.3L448.0 505.9M438.5 495.3L450.5 497.4M438.5 495.3L438.1 510.7M438.5 495.3L454.6 492.9M438.5 495.3L464.3 492.3M441.8 500.7L446.0 502.3M441.8 500.7L448.0 505.9M441.8 500.7L463.5 504.5M446.0 502.3L448.0 505.9M446.0 502.3L450.5 497.4M446.0 502.3L463.5 504.5M446.0 502.3L464.7 510.2M448.0 505.9L450.5 497.4M448.0 505.9L438.1 510.7M448.0 505.9L463.5 504.5M448.0 505.9L464.7 510.2M450.5 497.4L454.6 492.9M450.5 497.4L464.3 492.3M450.5 497.4L463.5 504.5M438.1 510.7L463.5 504.5M454.6 492.9L464.3 492.3M454.6 492.9L463.5 504.5M464.3 492.3L463.5 504.5M464.3 492.3L464.7 510.2M463.5 504.5L464.7 510.2M463.5 504.5L460.7 525.6M464.7 510.2L460.7 525.6M460.7 525.6L447.5 534.6" fill="none" stroke="#4e4e4e" stroke-width="0.50"/>
<path d="M460.7 525.5L472.9 525.4" stroke="#4a4a5a" stroke-width="1.10"/>
<g stroke="#141414" stroke-width="0.75">
<circle cx="487.0" cy="457.5" r="3.15" fill="#66bd63"/>
<circle cx="494.0" cy="460.3" r="3.15" fill="#148e4b"/>
<circle cx="492.2" cy="464.6" r="3.15" fill="#279e53"/>
<circle cx="487.8" cy="467.3" r="3.15" fill="#44ac5a"/>
<circle cx="489.9" cy="468.2" r="3.15" fill="#61ba62"/>
<circle cx="493.5" cy="468.0" r="3.15" fill="#138a49"/>
<circle cx="498.9" cy="467.0" r="3.15" fill="#219b52"/>
<circle cx="487.4" cy="470.1" r="3.15" fill="#3eaa59"/>
<circle cx="491.2" cy="471.9" r="3.15" fill="#5bb860"/>
<circle cx="508.8" cy="472.3" r="3.15" fill="#fdbd6e"/>
<circle cx="486.5" cy="474.5" r="3.15" fill="#1c9950"/>
<circle cx="497.1" cy="475.1" r="3.15" fill="#39a758"/>
<circle cx="484.0" cy="476.8" r="3.15" fill="#56b55f"/>
<circle cx="490.8" cy="477.5" r="3.15" fill="#0f8345"/>
<circle cx="493.1" cy="479.2" r="3.15" fill="#19964f"/>
<circle cx="503.9" cy="480.3" r="3.15" fill="#dcdcdc"/>
<circle cx="521.6" cy="482.1" r="3.15" fill="#dcdcdc"/>
<circle cx="478.8" cy="482.5" r="3.15" fill="#84ca66"/>
<circle cx="482.7" cy="484.9" r="3.15" fill="#17924d"/>
<circle cx="486.0" cy="484.8" r="3.15" fill="#2ea255"/>
<circle cx="489.4" cy="486.6" r="3.15" fill="#4bb05c"/>
<circle cx="491.7" cy="488.0" r="3.15" fill="#08763f"/>
<circle cx="501.9" cy="486.1" r="3.15" fill="#158f4b"/>
<circle cx="502.5" cy="488.3" r="3.15" fill="#299f54"/>
<circle cx="512.4" cy="486.7" r="3.15" fill="#46ad5b"/>
<circle cx="476.6" cy="488.7" r="3.15" fill="#63bc62"/>
<circle cx="481.7" cy="489.2" r="3.15" fill="#138c4a"/>
<circle cx="484.9" cy="489.9" r="3.15" fill="#239d52"/>
<circle cx="488.3" cy="489.5" r="3.15" fill="#41ab5a"/>
<circle cx="506.9" cy="491.8" r="3.15" fill="#5eb961"/>
<circle cx="481.0" cy="492.3" r="3.15" fill="#118848"/>
<circle cx="485.5" cy="492.7" r="3.15" fill="#1e9a51"/>
<circle cx="488.4" cy="492.6" r="3.15" fill="#3ba858"/>
<circle cx="490.4" cy="492.8" r="3.15" fill="#58b660"/>
<circle cx="473.7" cy="494.1" r="3.15" fill="#e8f5a0"/>
<circle cx="501.4" cy="494.6" r="3.15" fill="#1a9750"/>
<circle cx="493.6" cy="495.7" r="3.15" fill="#36a657"/>
<circle cx="495.3" cy="496.0" r="3.15" fill="#53b45e"/>
<circle cx="498.2" cy="496.4" r="3.15" fill="#0e8144"/>
<circle cx="477.6" cy="496.0" r="3.15" fill="#18944e"/>
<circle cx="485.1" cy="496.6" r="3.15" fill="#30a356"/>
<circle cx="490.8" cy="497.2" r="3.15" fill="#4eb15d"/>
<circle cx="507.1" cy="496.6" r="3.15" fill="#0c7e43"/>
<circle cx="511.7" cy="497.3" r="3.15" fill="#fdbd6e"/>
<circle cx="525.2" cy="497.0" r="3.15" fill="#a1d769"/>
<circle cx="474.4" cy="497.3" r="3.15" fill="#ffffbf"/>
<circle cx="500.7" cy="497.8" r="3.15" fill="#65bd63"/>
<circle cx="488.5" cy="498.5" r="3.15" fill="#148d4a"/>
<circle cx="483.5" cy="499.1" r="3.15" fill="#269e53"/>
<circle cx="514.6" cy="499.3" r="3.15" fill="#99d369"/>
<circle cx="504.4" cy="500.3" r="3.15" fill="#addc6e"/>
<circle cx="488.1" cy="501.0" r="3.15" fill="#128a49"/>
<circle cx="491.9" cy="501.4" r="3.15" fill="#bae277"/>
<circle cx="495.4" cy="502.2" r="3.15" fill="#3ea959"/>
<circle cx="526.6" cy="502.0" r="3.15" fill="#b6e074"/>
<circle cx="482.1" cy="503.4" r="3.15" fill="#108647"/>
<circle cx="487.3" cy="503.5" r="3.15" fill="#1b9950"/>
<circle cx="490.0" cy="502.9" r="3.15" fill="#38a758"/>
<circle cx="508.5" cy="503.1" r="3.15" fill="#b3df73"/>
<circle cx="511.9" cy="503.3" r="3.15" fill="#86cb67"/>
<circle cx="467.9" cy="505.2" r="3.15" fill="#fef0a5"/>
<circle cx="473.2" cy="505.3" r="3.15" fill="#bae277"/>
<circle cx="477.6" cy="505.1" r="3.15" fill="#50b25d"/>
<circle cx="498.1" cy="505.1" r="3.15" fill="#83ca66"/>
<circle cx="505.7" cy="505.4" r="3.15" fill="#17924d"/>
<circle cx="493.8" cy="506.5" r="3.15" fill="#89cc67"/>
<circle cx="502.2" cy="506.3" r="3.15" fill="#afdd70"/>
<circle cx="497.8" cy="507.9" r="3.15" fill="#0b7c42"/>
<circle cx="517.2" cy="507.5" r="3.15" fill="#fdbd6e"/>
<circle cx="490.9" cy="508.8" r="3.15" fill="#85cb66"/>
<circle cx="512.5" cy="509.1" r="3.15" fill="#bae277"/>
<circle cx="522.0" cy="509.4" r="3.15" fill="#b9e176"/>
<circle cx="467.1" cy="508.8" r="3.15" fill="#8dce67"/>
<circle cx="503.1" cy="509.1" r="3.15" fill="#239c52"/>
<circle cx="507.2" cy="509.4" r="3.15" fill="#40aa59"/>
<circle cx="525.0" cy="511.4" r="3.15" fill="#b7e075"/>
<circle cx="480.9" cy="510.0" r="3.15" fill="#118848"/>
<circle cx="485.1" cy="510.3" r="3.15" fill="#1d9a51"/>
<circle cx="487.2" cy="510.1" r="3.15" fill="#3aa858"/>
<circle cx="498.0" cy="510.3" r="3.15" fill="#58b65f"/>
<circle cx="503.1" cy="511.1" r="3.15" fill="#87cc67"/>
<circle cx="506.8" cy="512.1" r="3.15" fill="#19974f"/>
<circle cx="518.0" cy="512.3" r="3.15" fill="#dcdcdc"/>
<circle cx="488.1" cy="512.7" r="3.15" fill="#52b35e"/>
<circle cx="493.9" cy="512.6" r="3.15" fill="#5fba61"/>
<circle cx="475.0" cy="515.3" r="3.15" fill="#bae277"/>
<circle cx="466.4" cy="514.4" r="3.15" fill="#bae277"/>
<circle cx="483.7" cy="516.3" r="3.15" fill="#4db15d"/>
<circle cx="488.2" cy="515.8" r="3.15" fill="#0c7e42"/>
<circle cx="516.5" cy="516.5" r="3.15" fill="#16904c"/>
<circle cx="508.0" cy="516.9" r="3.15" fill="#2aa054"/>
<circle cx="498.4" cy="517.2" r="3.15" fill="#47ae5b"/>
<circle cx="500.7" cy="517.5" r="3.15" fill="#65bc63"/>
<circle cx="504.5" cy="517.7" r="3.15" fill="#6ec064"/>
<circle cx="511.5" cy="517.8" r="3.15" fill="#259d53"/>
<circle cx="490.4" cy="518.3" r="3.15" fill="#dcdcdc"/>
<circle cx="482.4" cy="518.9" r="3.15" fill="#acdc6e"/>
<circle cx="493.3" cy="519.0" r="3.15" fill="#6abf63"/>
<circle cx="496.5" cy="519.4" r="3.15" fill="#209b51"/>
<circle cx="503.3" cy="519.3" r="3.15" fill="#a9da6c"/>
<circle cx="467.6" cy="519.9" r="3.15" fill="#e8f5a0"/>
<circle cx="522.0" cy="520.1" r="3.15" fill="#bae277"/>
<circle cx="511.6" cy="521.8" r="3.15" fill="#bae277"/>
<circle cx="522.4" cy="522.7" r="3.15" fill="#dcdcdc"/>
<circle cx="484.8" cy="522.9" r="3.15" fill="#a6d96a"/>
<circle cx="487.4" cy="522.2" r="3.15" fill="#61bb62"/>
<circle cx="489.7" cy="522.9" r="3.15" fill="#18954e"/>
<circle cx="468.0" cy="523.9" r="3.15" fill="#bae277"/>
<circle cx="477.8" cy="523.7" r="3.15" fill="#4fb25d"/>
<circle cx="472.9" cy="525.4" r="3.15" fill="#bae277"/>
<circle cx="483.7" cy="525.7" r="3.15" fill="#73c364"/>
<circle cx="496.7" cy="525.5" r="3.15" fill="#08763f"/>
<circle cx="502.5" cy="526.4" r="3.15" fill="#4aaf5c"/>
<circle cx="508.1" cy="525.8" r="3.15" fill="#dcdcdc"/>
<circle cx="490.2" cy="529.9" r="3.15" fill="#158e4b"/>
<circle cx="493.7" cy="530.3" r="3.15" fill="#279f53"/>
<circle cx="471.8" cy="531.6" r="3.15" fill="#dcdcdc"/>
<circle cx="481.8" cy="531.4" r="3.15" fill="#62bb62"/>
<circle cx="483.7" cy="534.4" r="3.15" fill="#138b49"/>
<circle cx="505.1" cy="533.5" r="3.15" fill="#08763f"/>
<circle cx="481.0" cy="557.0" r="3.15" fill="#dcdcdc"/>
<circle cx="416.6" cy="493.6" r="3.15" fill="#dcdcdc"/>
<circle cx="420.0" cy="497.7" r="3.15" fill="#dcdcdc"/>
<circle cx="413.2" cy="499.4" r="3.15" fill="#dcdcdc"/>
<circle cx="413.9" cy="506.0" r="3.15" fill="#dcdcdc"/>
<circle cx="427.7" cy="497.9" r="3.15" fill="#08763f"/>
<circle cx="424.4" cy="502.1" r="3.15" fill="#08763f"/>
<circle cx="426.6" cy="507.6" r="3.15" fill="#08763f"/>
<circle cx="429.9" cy="501.6" r="3.15" fill="#1a9850"/>
<circle cx="435.6" cy="497.8" r="3.15" fill="#1a9850"/>
<circle cx="438.5" cy="495.3" r="3.15" fill="#1a9850"/>
<circle cx="441.8" cy="500.7" r="3.15" fill="#1a9850"/>
<circle cx="446.0" cy="502.3" r="3.15" fill="#08763f"/>
<circle cx="448.0" cy="505.9" r="3.15" fill="#1a9850"/>
<circle cx="450.5" cy="497.4" r="3.15" fill="#1a9850"/>
<circle cx="438.1" cy="510.7" r="3.15" fill="#dcdcdc"/>
<circle cx="454.6" cy="492.9" r="3.15" fill="#af0a26"/>
<circle cx="464.3" cy="492.3" r="3.15" fill="#47ae5b"/>
<circle cx="463.5" cy="504.5" r="3.15" fill="#bae277"/>
<circle cx="464.7" cy="510.2" r="3.15" fill="#bae277"/>
<circle cx="460.7" cy="525.6" r="3.15" fill="#bae277"/>
<circle cx="447.5" cy="534.6" r="3.15" fill="#dcdcdc"/>
</g></g>
</svg>
</body></html>
